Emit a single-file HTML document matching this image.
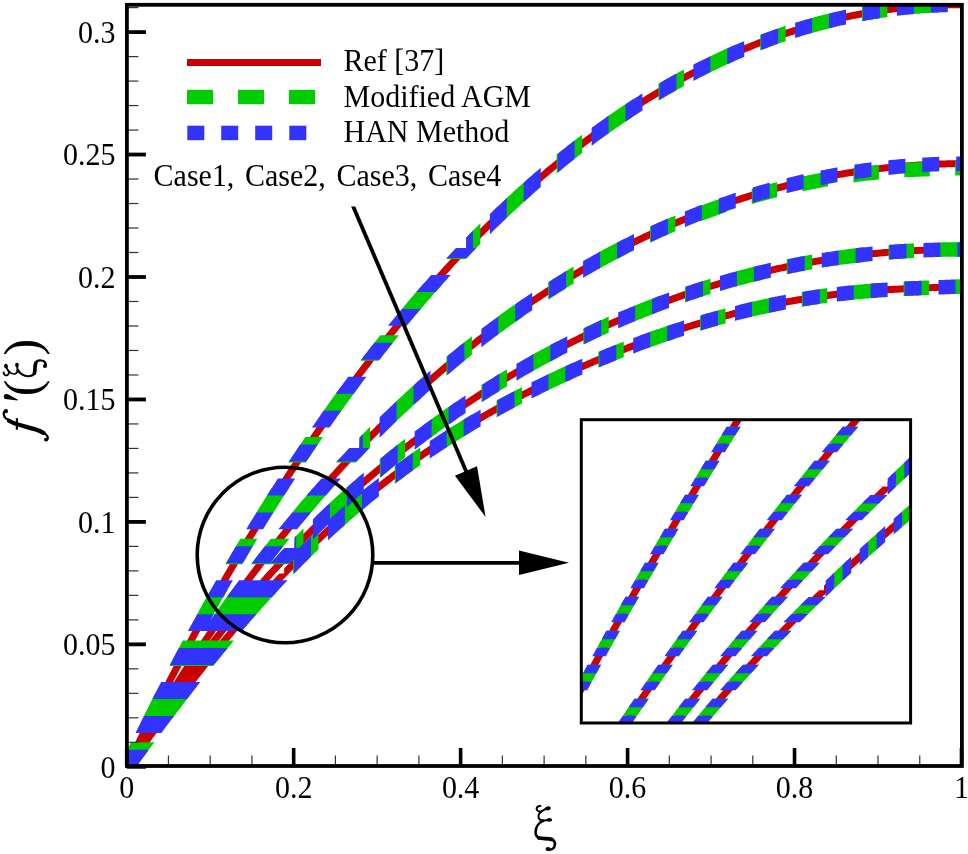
<!DOCTYPE html><html><head><meta charset="utf-8"><style>html,body{margin:0;padding:0;background:#fff;}body{width:968px;height:854px;overflow:hidden;font-family:"Liberation Serif",serif;}svg{display:block;}</style></head><body><svg width="968" height="854" viewBox="0 0 968 854"><defs><clipPath id="cm"><rect x="126.9" y="4.8" width="835" height="761.2"/></clipPath><clipPath id="ci"><rect x="581.3" y="419.7" width="329.3" height="303.3"/></clipPath></defs><rect width="968" height="854" fill="#fff"/><g clip-path="url(#cm)"><path fill="#cc0000" d="M123.32,766.8 125.41,762.42 127.5,758.06 129.59,753.71 131.68,749.38 133.77,745.07 135.86,740.78 137.95,736.5 140.04,732.24 142.13,727.99 144.22,723.76 146.31,719.55 148.4,715.36 150.48,711.18 152.57,707.01 154.66,702.87 156.75,698.74 158.84,694.62 160.93,690.53 163.02,686.44 165.11,682.38 167.2,678.33 169.29,674.29 171.38,670.28 173.46,666.27 175.55,662.29 177.64,658.32 179.73,654.36 181.82,650.42 183.91,646.5 186,642.59 188.09,638.7 190.17,634.82 192.26,630.96 194.35,627.12 196.44,623.29 198.53,619.47 200.62,615.67 202.71,611.89 204.79,608.12 206.88,604.36 208.97,600.62 211.06,596.9 213.15,593.19 215.24,589.5 217.32,585.82 219.41,582.15 221.5,578.5 223.59,574.87 225.68,571.25 227.76,567.64 229.85,564.05 231.94,560.48 234.03,556.91 236.12,553.37 238.2,549.83 240.29,546.32 242.38,542.81 244.47,539.32 246.56,535.85 248.64,532.39 250.73,528.94 252.82,525.51 254.91,522.09 256.99,518.69 259.08,515.3 261.17,511.92 263.26,508.56 265.34,505.22 267.43,501.88 269.52,498.56 271.61,495.26 273.69,491.96 275.78,488.69 277.87,485.42 279.95,482.17 282.04,478.93 284.13,475.71 286.22,472.5 288.3,469.31 290.39,466.12 292.48,462.95 294.56,459.8 296.65,456.66 298.74,453.53 300.82,450.41 302.91,447.31 305,444.22 307.08,441.15 309.17,438.08 311.26,435.03 313.34,432 315.43,428.98 317.51,425.97 319.6,422.97 321.69,419.98 323.77,417.01 325.86,414.06 327.95,411.11 330.03,408.18 332.12,405.26 334.2,402.35 336.29,399.46 338.37,396.58 340.46,393.71 342.55,390.86 344.63,388.01 346.72,385.18 348.8,382.37 350.89,379.56 352.97,376.77 355.06,373.99 357.14,371.22 359.23,368.46 361.31,365.72 363.4,362.99 365.48,360.27 367.57,357.57 369.65,354.87 371.74,352.19 373.82,349.52 375.9,346.87 377.99,344.22 380.07,341.59 382.16,338.97 384.24,336.36 386.33,333.77 388.41,331.18 390.49,328.61 392.58,326.05 394.66,323.5 396.75,320.96 398.83,318.44 400.91,315.93 403,313.43 405.08,310.94 407.16,308.46 409.25,305.99 411.33,303.54 413.41,301.1 415.49,298.67 417.58,296.25 419.66,293.84 421.74,291.44 423.82,289.06 425.91,286.69 427.99,284.33 430.07,281.98 432.15,279.64 434.24,277.31 436.32,275 438.4,272.69 440.48,270.4 442.56,268.12 444.64,265.85 446.73,263.59 448.81,261.34 450.89,259.1 452.97,256.88 455.05,254.66 457.13,252.46 459.21,250.27 461.29,248.09 470.99,248.09 468.89,250.27 466.78,252.46 464.68,254.66 462.58,256.88 460.47,259.1 458.37,261.34 456.27,263.59 454.16,265.85 452.06,268.12 449.96,270.4 447.85,272.69 445.75,275 443.65,277.31 441.55,279.64 439.44,281.98 437.34,284.33 435.24,286.69 433.14,289.06 431.04,291.44 428.93,293.84 426.83,296.25 424.73,298.67 422.63,301.1 420.53,303.54 418.43,305.99 416.32,308.46 414.22,310.94 412.12,313.43 410.02,315.93 407.92,318.44 405.82,320.96 403.72,323.5 401.62,326.05 399.52,328.61 397.42,331.18 395.32,333.77 393.22,336.36 391.12,338.97 389.02,341.59 386.91,344.22 384.81,346.87 382.71,349.52 380.61,352.19 378.52,354.87 376.42,357.57 374.32,360.27 372.22,362.99 370.12,365.72 368.02,368.46 365.92,371.22 363.82,373.99 361.72,376.77 359.62,379.56 357.52,382.37 355.42,385.18 353.32,388.01 351.22,390.86 349.12,393.71 347.03,396.58 344.93,399.46 342.83,402.35 340.73,405.26 338.63,408.18 336.53,411.11 334.43,414.06 332.34,417.01 330.24,419.98 328.14,422.97 326.04,425.97 323.94,428.98 321.84,432 319.75,435.03 317.65,438.08 315.55,441.15 313.45,444.22 311.35,447.31 309.26,450.41 307.16,453.53 305.06,456.66 302.96,459.8 300.86,462.95 298.77,466.12 296.67,469.31 294.57,472.5 292.47,475.71 290.38,478.93 288.28,482.17 286.18,485.42 284.08,488.69 281.99,491.96 279.89,495.26 277.79,498.56 275.7,501.88 273.6,505.22 271.5,508.56 269.41,511.92 267.31,515.3 265.21,518.69 263.11,522.09 261.02,525.51 258.92,528.94 256.82,532.39 254.73,535.85 252.63,539.32 250.53,542.81 248.44,546.32 246.34,549.83 244.24,553.37 242.15,556.91 240.05,560.48 237.95,564.05 235.86,567.64 233.76,571.25 231.67,574.87 229.57,578.5 227.47,582.15 225.38,585.82 223.28,589.5 221.18,593.19 219.09,596.9 216.99,600.62 214.9,604.36 212.8,608.12 210.7,611.89 208.61,615.67 206.51,619.47 204.42,623.29 202.32,627.12 200.22,630.96 198.13,634.82 196.03,638.7 193.94,642.59 191.84,646.5 189.75,650.42 187.65,654.36 185.55,658.32 183.46,662.29 181.36,666.27 179.27,670.28 177.17,674.29 175.08,678.33 172.98,682.38 170.89,686.44 168.79,690.53 166.69,694.62 164.6,698.74 162.5,702.87 160.41,707.01 158.31,711.18 156.22,715.36 154.12,719.55 152.03,723.76 149.93,727.99 147.84,732.24 145.74,736.5 143.65,740.78 141.55,745.07 139.46,749.38 137.36,753.71 135.27,758.06 133.17,762.42 131.08,766.8ZM466.14,243.05 468.23,240.88 470.33,238.73 472.42,236.6 474.51,234.47 476.6,232.36 478.69,230.26 480.79,228.17 482.88,226.09 484.97,224.02 487.06,221.96 489.16,219.91 491.25,217.87 493.34,215.85 495.43,213.83 497.52,211.83 499.62,209.83 501.71,207.85 503.8,205.88 505.89,203.92 507.99,201.97 510.08,200.02 512.17,198.09 514.26,196.17 516.35,194.26 518.45,192.37 520.54,190.48 522.63,188.6 524.72,186.73 526.82,184.87 528.91,183.03 531,181.19 533.09,179.36 535.18,177.55 537.28,175.74 539.37,173.95 541.46,172.16 543.55,170.39 545.65,168.62 547.74,166.87 549.83,165.13 551.92,163.39 554.02,161.67 556.11,159.95 558.2,158.25 560.29,156.56 562.38,154.87 564.48,153.2 566.57,151.54 568.66,149.88 570.75,148.24 572.85,146.61 574.94,144.98 577.03,143.37 579.12,141.77 581.21,140.17 583.31,138.59 585.4,137.01 587.49,135.45 589.58,133.9 591.68,132.35 593.77,130.82 595.86,129.29 597.95,127.78 600.04,126.27 602.14,124.78 604.23,123.29 606.32,121.82 608.41,120.35 610.51,118.89 612.6,117.45 614.69,116.01 616.78,114.58 618.87,113.16 620.97,111.75 623.06,110.35 625.15,108.97 627.24,107.59 629.34,106.22 631.43,104.85 633.52,103.5 635.61,102.16 637.7,100.83 639.8,99.51 641.89,98.19 643.98,96.89 646.07,95.59 648.17,94.31 650.26,93.03 652.35,91.77 654.44,90.51 656.53,89.26 658.63,88.02 660.72,86.8 662.81,85.58 664.9,84.37 667,83.16 669.09,81.97 671.18,80.79 673.27,79.62 675.36,78.45 677.46,77.3 679.55,76.15 681.64,75.01 683.73,73.89 685.83,72.77 687.92,71.66 690.01,70.56 692.1,69.47 694.19,68.39 696.29,67.31 698.38,66.25 700.47,65.2 702.56,64.15 704.66,63.11 706.75,62.09 708.84,61.07 710.93,60.06 713.02,59.06 715.12,58.07 717.21,57.08 719.3,56.11 721.39,55.15 723.49,54.19 725.58,53.24 727.67,52.31 729.76,51.38 731.85,50.46 733.95,49.55 736.04,48.64 738.13,47.75 740.22,46.87 742.32,45.99 744.41,45.12 746.5,44.27 748.59,43.42 750.68,42.58 752.78,41.74 754.87,40.92 756.96,40.11 759.05,39.3 761.15,38.5 763.24,37.72 765.33,36.94 767.42,36.17 769.51,35.4 771.61,34.65 773.7,33.91 775.79,33.17 777.88,32.44 779.98,31.72 782.07,31.01 784.16,30.31 786.25,29.62 788.34,28.94 790.44,28.26 792.53,27.59 794.62,26.93 796.71,26.28 798.81,25.64 800.9,25.01 802.99,24.39 805.08,23.77 807.17,23.16 809.27,22.56 811.36,21.97 813.45,21.39 815.54,20.82 817.64,20.25 819.73,19.7 821.82,19.15 823.91,18.61 826.01,18.08 828.1,17.55 830.19,17.04 832.28,16.53 834.37,16.04 836.47,15.55 838.56,15.07 840.65,14.59 842.74,14.13 844.84,13.67 846.93,13.23 849.02,12.79 851.11,12.36 853.2,11.93 855.3,11.52 857.39,11.11 859.48,10.72 861.57,10.33 863.67,9.95 865.76,9.57 867.85,9.21 869.94,8.85 872.03,8.5 874.13,8.16 876.22,7.83 878.31,7.51 880.4,7.19 882.5,6.89 884.59,6.59 886.68,6.3 888.77,6.01 890.86,5.74 892.96,5.47 895.05,5.21 897.14,4.96 899.23,4.72 901.33,4.49 903.42,4.26 905.51,4.04 907.6,3.83 909.69,3.63 911.79,3.44 913.88,3.25 915.97,3.08 918.06,2.91 920.16,2.75 922.25,2.59 924.34,2.45 926.43,2.31 928.52,2.18 930.62,2.06 932.71,1.95 934.8,1.84 936.89,1.75 938.99,1.66 941.08,1.58 943.17,1.5 945.26,1.44 947.35,1.38 949.45,1.33 951.54,1.29 953.63,1.25 955.72,1.23 957.82,1.21 959.91,1.2 962,1.2 962,8.2 959.91,8.2 957.82,8.21 955.72,8.23 953.63,8.26 951.54,8.29 949.45,8.33 947.35,8.38 945.26,8.44 943.17,8.51 941.08,8.58 938.99,8.66 936.89,8.75 934.8,8.85 932.71,8.96 930.62,9.07 928.52,9.2 926.43,9.33 924.34,9.47 922.25,9.61 920.16,9.77 918.06,9.93 915.97,10.1 913.88,10.28 911.79,10.47 909.69,10.67 907.6,10.87 905.51,11.08 903.42,11.3 901.33,11.53 899.23,11.77 897.14,12.01 895.05,12.27 892.96,12.53 890.86,12.8 888.77,13.08 886.68,13.36 884.59,13.66 882.5,13.96 880.4,14.27 878.31,14.59 876.22,14.92 874.13,15.26 872.03,15.6 869.94,15.95 867.85,16.31 865.76,16.68 863.67,17.06 861.57,17.45 859.48,17.84 857.39,18.25 855.3,18.66 853.2,19.08 851.11,19.5 849.02,19.94 846.93,20.39 844.84,20.84 842.74,21.3 840.65,21.77 838.56,22.25 836.47,22.74 834.37,23.23 832.28,23.74 830.19,24.25 828.1,24.77 826.01,25.3 823.91,25.84 821.82,26.39 819.73,26.94 817.64,27.51 815.54,28.08 813.45,28.66 811.36,29.25 809.27,29.85 807.17,30.45 805.08,31.07 802.99,31.69 800.9,32.33 798.81,32.97 796.71,33.62 794.62,34.28 792.53,34.94 790.44,35.62 788.34,36.3 786.25,37 784.16,37.7 782.07,38.41 779.98,39.13 777.88,39.86 775.79,40.6 773.7,41.34 771.61,42.1 769.51,42.86 767.42,43.63 765.33,44.41 763.24,45.2 761.15,46 759.05,46.81 756.96,47.62 754.87,48.45 752.78,49.28 750.68,50.13 748.59,50.98 746.5,51.84 744.41,52.71 742.32,53.59 740.22,54.47 738.13,55.37 736.04,56.28 733.95,57.19 731.85,58.11 729.76,59.04 727.67,59.99 725.58,60.94 723.49,61.9 721.39,62.86 719.3,63.84 717.21,64.83 715.12,65.82 713.02,66.83 710.93,67.84 708.84,68.86 706.75,69.9 704.66,70.94 702.56,71.99 700.47,73.05 698.38,74.11 696.29,75.19 694.19,76.28 692.1,77.37 690.01,78.48 687.92,79.59 685.83,80.72 683.73,81.85 681.64,82.99 679.55,84.14 677.46,85.31 675.36,86.48 673.27,87.65 671.18,88.84 669.09,90.04 667,91.25 664.9,92.47 662.81,93.69 660.72,94.93 658.63,96.17 656.53,97.43 654.44,98.69 652.35,99.96 650.26,101.25 648.17,102.54 646.07,103.84 643.98,105.15 641.89,106.47 639.8,107.8 637.7,109.14 635.61,110.49 633.52,111.85 631.43,113.22 629.34,114.6 627.24,115.99 625.15,117.38 623.06,118.79 620.97,120.21 618.87,121.64 616.78,123.07 614.69,124.52 612.6,125.97 610.51,127.44 608.41,128.92 606.32,130.4 604.23,131.9 602.14,133.4 600.04,134.91 597.95,136.44 595.86,137.97 593.77,139.52 591.68,141.07 589.58,142.64 587.49,144.21 585.4,145.79 583.31,147.39 581.21,148.99 579.12,150.61 577.03,152.23 574.94,153.86 572.85,155.51 570.75,157.16 568.66,158.83 566.57,160.5 564.48,162.19 562.38,163.88 560.29,165.58 558.2,167.3 556.11,169.02 554.02,170.76 551.92,172.51 549.83,174.26 547.74,176.03 545.65,177.8 543.55,179.59 541.46,181.39 539.37,183.2 537.28,185.01 535.18,186.84 533.09,188.68 531,190.53 528.91,192.39 526.82,194.26 524.72,196.14 522.63,198.03 520.54,199.93 518.45,201.85 516.35,203.77 514.26,205.7 512.17,207.65 510.08,209.6 507.99,211.57 505.89,213.54 503.8,215.53 501.71,217.53 499.62,219.53 497.52,221.55 495.43,223.58 493.34,225.62 491.25,227.67 489.16,229.74 487.06,231.81 484.97,233.89 482.88,235.99 480.79,238.09 478.69,240.21 476.6,242.34 474.51,244.48 472.42,246.63 470.33,248.79 468.23,250.96 466.14,253.13ZM123.17,766.8 125.27,763.12 127.35,759.46 129.44,755.82 131.53,752.19 133.62,748.58 135.7,744.99 137.79,741.42 139.88,737.86 141.97,734.31 144.05,730.79 146.14,727.28 148.23,723.79 150.31,720.31 152.4,716.85 154.49,713.4 156.58,709.98 158.66,706.56 160.75,703.17 162.84,699.79 164.92,696.42 167.01,693.07 169.1,689.74 171.18,686.42 173.27,683.12 175.36,679.83 177.44,676.56 179.53,673.31 181.62,670.07 183.7,666.84 185.79,663.63 187.88,660.43 189.96,657.25 192.05,654.09 194.13,650.94 196.22,647.8 198.31,644.68 200.39,641.57 202.48,638.48 204.56,635.4 206.65,632.34 208.74,629.29 210.82,626.25 212.91,623.23 214.99,620.23 217.08,617.24 219.17,614.26 221.25,611.29 223.34,608.34 225.42,605.41 227.51,602.48 229.59,599.57 231.68,596.68 233.76,593.8 235.85,590.93 237.93,588.08 240.02,585.23 242.1,582.41 244.19,579.59 246.27,576.79 248.36,574 250.44,571.23 252.53,568.47 254.61,565.72 256.7,562.98 258.78,560.26 260.87,557.55 262.95,554.85 265.03,552.17 267.12,549.5 269.2,546.84 271.29,544.19 273.37,541.56 275.45,538.93 277.54,536.33 279.62,533.73 281.71,531.14 283.79,528.57 285.87,526.01 287.96,523.47 290.04,520.93 292.12,518.41 294.21,515.9 296.29,513.4 298.37,510.91 300.46,508.43 302.54,505.97 304.62,503.52 306.71,501.08 308.79,498.65 310.87,496.23 312.95,493.83 315.04,491.43 317.12,489.05 319.2,486.68 321.28,484.32 323.37,481.97 325.45,479.64 327.53,477.31 329.61,475 331.69,472.69 333.78,470.4 335.86,468.12 337.94,465.85 340.02,463.59 342.1,461.34 344.18,459.11 346.27,456.88 348.35,454.67 350.43,452.46 352.51,450.27 354.59,448.09 364.29,448.09 362.18,450.27 360.08,452.46 357.98,454.67 355.87,456.88 353.77,459.11 351.67,461.34 349.56,463.59 347.46,465.85 345.36,468.12 343.25,470.4 341.15,472.69 339.05,475 336.95,477.31 334.84,479.64 332.74,481.97 330.64,484.32 328.54,486.68 326.44,489.05 324.33,491.43 322.23,493.83 320.13,496.23 318.03,498.65 315.93,501.08 313.83,503.52 311.72,505.97 309.62,508.43 307.52,510.91 305.42,513.4 303.32,515.9 301.22,518.41 299.12,520.93 297.02,523.47 294.91,526.01 292.81,528.57 290.71,531.14 288.61,533.73 286.51,536.33 284.41,538.93 282.31,541.56 280.21,544.19 278.11,546.84 276.01,549.5 273.91,552.17 271.81,554.85 269.71,557.55 267.61,560.26 265.51,562.98 263.41,565.72 261.31,568.47 259.21,571.23 257.11,574 255.01,576.79 252.91,579.59 250.81,582.41 248.71,585.23 246.61,588.08 244.51,590.93 242.41,593.8 240.31,596.68 238.22,599.57 236.12,602.48 234.02,605.41 231.92,608.34 229.82,611.29 227.72,614.26 225.62,617.24 223.52,620.23 221.42,623.23 219.32,626.25 217.23,629.29 215.13,632.34 213.03,635.4 210.93,638.48 208.83,641.57 206.73,644.68 204.64,647.8 202.54,650.94 200.44,654.09 198.34,657.25 196.24,660.43 194.14,663.63 192.05,666.84 189.95,670.07 187.85,673.31 185.75,676.56 183.65,679.83 181.56,683.12 179.46,686.42 177.36,689.74 175.26,693.07 173.17,696.42 171.07,699.79 168.97,703.17 166.87,706.56 164.78,709.98 162.68,713.4 160.58,716.85 158.48,720.31 156.39,723.79 154.29,727.28 152.19,730.79 150.09,734.31 148,737.86 145.9,741.42 143.8,744.99 141.71,748.58 139.61,752.19 137.51,755.82 135.42,759.46 133.32,763.12 131.23,766.8ZM359.44,443.04 361.53,440.87 363.62,438.72 365.71,436.58 367.81,434.45 369.9,432.34 371.99,430.23 374.08,428.13 376.18,426.05 378.27,423.97 380.36,421.91 382.45,419.85 384.54,417.8 386.64,415.77 388.73,413.74 390.82,411.73 392.91,409.72 395.01,407.73 397.1,405.75 399.19,403.77 401.28,401.8 403.37,399.85 405.47,397.9 407.56,395.97 409.65,394.04 411.74,392.13 413.84,390.22 415.93,388.32 418.02,386.44 420.11,384.56 422.2,382.69 424.3,380.83 426.39,378.98 428.48,377.14 430.57,375.31 432.67,373.49 434.76,371.68 436.85,369.88 438.94,368.08 441.03,366.3 443.13,364.53 445.22,362.76 447.31,361.01 449.4,359.26 451.5,357.52 453.59,355.79 455.68,354.07 457.77,352.36 459.86,350.66 461.96,348.97 464.05,347.29 466.14,345.61 468.23,343.94 470.33,342.29 472.42,340.64 474.51,339 476.6,337.37 478.69,335.75 480.79,334.14 482.88,332.53 484.97,330.94 487.06,329.35 489.16,327.77 491.25,326.2 493.34,324.64 495.43,323.09 497.52,321.54 499.62,320.01 501.71,318.48 503.8,316.96 505.89,315.45 507.99,313.95 510.08,312.46 512.17,310.97 514.26,309.5 516.35,308.03 518.45,306.57 520.54,305.12 522.63,303.68 524.72,302.24 526.82,300.81 528.91,299.4 531,297.99 533.09,296.58 535.18,295.19 537.28,293.8 539.37,292.43 541.46,291.06 543.55,289.69 545.65,288.34 547.74,286.99 549.83,285.66 551.92,284.33 554.02,283.01 556.11,281.69 558.2,280.39 560.29,279.09 562.38,277.8 564.48,276.52 566.57,275.24 568.66,273.97 570.75,272.72 572.85,271.46 574.94,270.22 577.03,268.99 579.12,267.76 581.21,266.54 583.31,265.33 585.4,264.12 587.49,262.92 589.58,261.73 591.68,260.55 593.77,259.38 595.86,258.21 597.95,257.05 600.04,255.9 602.14,254.76 604.23,253.62 606.32,252.49 608.41,251.37 610.51,250.26 612.6,249.15 614.69,248.05 616.78,246.96 618.87,245.88 620.97,244.8 623.06,243.73 625.15,242.67 627.24,241.62 629.34,240.57 631.43,239.53 633.52,238.5 635.61,237.47 637.7,236.46 639.8,235.44 641.89,234.44 643.98,233.45 646.07,232.46 648.17,231.48 650.26,230.5 652.35,229.53 654.44,228.58 656.53,227.62 658.63,226.68 660.72,225.74 662.81,224.81 664.9,223.88 667,222.97 669.09,222.06 671.18,221.15 673.27,220.26 675.36,219.37 677.46,218.49 679.55,217.62 681.64,216.75 683.73,215.89 685.83,215.03 687.92,214.19 690.01,213.35 692.1,212.52 694.19,211.69 696.29,210.87 698.38,210.06 700.47,209.26 702.56,208.46 704.66,207.67 706.75,206.89 708.84,206.11 710.93,205.34 713.02,204.58 715.12,203.82 717.21,203.07 719.3,202.33 721.39,201.59 723.49,200.86 725.58,200.14 727.67,199.43 729.76,198.72 731.85,198.02 733.95,197.32 736.04,196.63 738.13,195.95 740.22,195.28 742.32,194.61 744.41,193.95 746.5,193.29 748.59,192.64 750.68,192 752.78,191.37 754.87,190.74 756.96,190.12 759.05,189.51 761.15,188.9 763.24,188.3 765.33,187.7 767.42,187.12 769.51,186.53 771.61,185.96 773.7,185.39 775.79,184.83 777.88,184.28 779.98,183.73 782.07,183.19 784.16,182.65 786.25,182.12 788.34,181.6 790.44,181.08 792.53,180.57 794.62,180.07 796.71,179.58 798.81,179.09 800.9,178.6 802.99,178.13 805.08,177.66 807.17,177.19 809.27,176.74 811.36,176.28 813.45,175.84 815.54,175.4 817.64,174.97 819.73,174.55 821.82,174.13 823.91,173.71 826.01,173.31 828.1,172.91 830.19,172.52 832.28,172.13 834.37,171.75 836.47,171.37 838.56,171.01 840.65,170.64 842.74,170.29 844.84,169.94 846.93,169.6 849.02,169.26 851.11,168.93 853.2,168.61 855.3,168.29 857.39,167.98 859.48,167.67 861.57,167.37 863.67,167.08 865.76,166.79 867.85,166.51 869.94,166.24 872.03,165.97 874.13,165.71 876.22,165.45 878.31,165.2 880.4,164.96 882.5,164.72 884.59,164.49 886.68,164.27 888.77,164.05 890.86,163.84 892.96,163.63 895.05,163.43 897.14,163.23 899.23,163.04 901.33,162.86 903.42,162.69 905.51,162.52 907.6,162.35 909.69,162.19 911.79,162.04 913.88,161.89 915.97,161.75 918.06,161.62 920.16,161.49 922.25,161.37 924.34,161.25 926.43,161.14 928.52,161.04 930.62,160.94 932.71,160.85 934.8,160.76 936.89,160.68 938.99,160.6 941.08,160.53 943.17,160.47 945.26,160.41 947.35,160.36 949.45,160.31 951.54,160.27 953.63,160.24 955.72,160.21 957.82,160.19 959.91,160.17 962,160.16 962,167.16 959.91,167.17 957.82,167.19 955.72,167.21 953.63,167.24 951.54,167.28 949.45,167.32 947.35,167.36 945.26,167.41 943.17,167.47 941.08,167.54 938.99,167.61 936.89,167.68 934.8,167.76 932.71,167.85 930.62,167.95 928.52,168.05 926.43,168.15 924.34,168.26 922.25,168.38 920.16,168.5 918.06,168.63 915.97,168.77 913.88,168.91 911.79,169.06 909.69,169.21 907.6,169.37 905.51,169.54 903.42,169.71 901.33,169.89 899.23,170.07 897.14,170.26 895.05,170.46 892.96,170.66 890.86,170.87 888.77,171.09 886.68,171.31 884.59,171.53 882.5,171.77 880.4,172.01 878.31,172.25 876.22,172.51 874.13,172.76 872.03,173.03 869.94,173.3 867.85,173.58 865.76,173.86 863.67,174.15 861.57,174.44 859.48,174.75 857.39,175.05 855.3,175.37 853.2,175.69 851.11,176.02 849.02,176.35 846.93,176.69 844.84,177.04 842.74,177.39 840.65,177.75 838.56,178.11 836.47,178.49 834.37,178.86 832.28,179.25 830.19,179.64 828.1,180.04 826.01,180.44 823.91,180.85 821.82,181.27 819.73,181.69 817.64,182.12 815.54,182.56 813.45,183 811.36,183.45 809.27,183.9 807.17,184.36 805.08,184.83 802.99,185.31 800.9,185.79 798.81,186.28 796.71,186.77 794.62,187.27 792.53,187.78 790.44,188.3 788.34,188.82 786.25,189.34 784.16,189.88 782.07,190.42 779.98,190.97 777.88,191.52 775.79,192.08 773.7,192.65 771.61,193.22 769.51,193.8 767.42,194.39 765.33,194.98 763.24,195.58 761.15,196.19 759.05,196.81 756.96,197.43 754.87,198.05 752.78,198.69 750.68,199.33 748.59,199.98 746.5,200.63 744.41,201.29 742.32,201.96 740.22,202.63 738.13,203.32 736.04,204 733.95,204.7 731.85,205.4 729.76,206.11 727.67,206.83 725.58,207.55 723.49,208.28 721.39,209.02 719.3,209.76 717.21,210.51 715.12,211.27 713.02,212.03 710.93,212.8 708.84,213.58 706.75,214.36 704.66,215.16 702.56,215.96 700.47,216.76 698.38,217.57 696.29,218.39 694.19,219.22 692.1,220.06 690.01,220.9 687.92,221.74 685.83,222.6 683.73,223.46 681.64,224.33 679.55,225.21 677.46,226.09 675.36,226.98 673.27,227.88 671.18,228.78 669.09,229.7 667,230.62 664.9,231.54 662.81,232.48 660.72,233.42 658.63,234.37 656.53,235.32 654.44,236.28 652.35,237.25 650.26,238.23 648.17,239.22 646.07,240.21 643.98,241.21 641.89,242.21 639.8,243.23 637.7,244.25 635.61,245.28 633.52,246.31 631.43,247.35 629.34,248.41 627.24,249.46 625.15,250.53 623.06,251.6 620.97,252.68 618.87,253.77 616.78,254.87 614.69,255.97 612.6,257.08 610.51,258.2 608.41,259.32 606.32,260.46 604.23,261.6 602.14,262.75 600.04,263.9 597.95,265.07 595.86,266.24 593.77,267.42 591.68,268.6 589.58,269.8 587.49,271 585.4,272.21 583.31,273.43 581.21,274.65 579.12,275.89 577.03,277.13 574.94,278.38 572.85,279.63 570.75,280.9 568.66,282.17 566.57,283.45 564.48,284.74 562.38,286.03 560.29,287.34 558.2,288.65 556.11,289.97 554.02,291.3 551.92,292.63 549.83,293.98 547.74,295.33 545.65,296.69 543.55,298.06 541.46,299.44 539.37,300.82 537.28,302.21 535.18,303.61 533.09,305.02 531,306.44 528.91,307.87 526.82,309.3 524.72,310.74 522.63,312.19 520.54,313.65 518.45,315.12 516.35,316.6 514.26,318.08 512.17,319.57 510.08,321.08 507.99,322.58 505.89,324.1 503.8,325.63 501.71,327.16 499.62,328.71 497.52,330.26 495.43,331.82 493.34,333.39 491.25,334.97 489.16,336.56 487.06,338.15 484.97,339.76 482.88,341.37 480.79,342.99 478.69,344.62 476.6,346.26 474.51,347.91 472.42,349.57 470.33,351.24 468.23,352.91 466.14,354.6 464.05,356.29 461.96,357.99 459.86,359.7 457.77,361.42 455.68,363.15 453.59,364.89 451.5,366.64 449.4,368.4 447.31,370.17 445.22,371.94 443.13,373.73 441.03,375.52 438.94,377.33 436.85,379.14 434.76,380.96 432.67,382.79 430.57,384.64 428.48,386.49 426.39,388.35 424.3,390.22 422.2,392.1 420.11,393.99 418.02,395.89 415.93,397.8 413.84,399.71 411.74,401.64 409.65,403.58 407.56,405.53 405.47,407.49 403.37,409.46 401.28,411.43 399.19,413.42 397.1,415.42 395.01,417.43 392.91,419.45 390.82,421.48 388.73,423.51 386.64,425.56 384.54,427.62 382.45,429.69 380.36,431.77 378.27,433.86 376.18,435.96 374.08,438.07 371.99,440.19 369.9,442.33 367.81,444.47 365.71,446.62 363.62,448.78 361.53,450.96 359.44,453.13ZM123.09,766.8 125.18,763.4 127.27,760.02 129.35,756.66 131.44,753.31 133.52,749.99 135.61,746.69 137.7,743.41 139.78,740.14 141.87,736.9 143.95,733.67 146.04,730.46 148.12,727.27 150.21,724.1 152.29,720.95 154.38,717.82 156.46,714.7 158.54,711.6 160.63,708.52 162.71,705.46 164.8,702.42 166.88,699.39 168.97,696.38 171.05,693.39 173.13,690.41 175.22,687.45 177.3,684.51 179.39,681.59 181.47,678.68 183.55,675.79 185.64,672.92 187.72,670.06 189.81,667.22 191.89,664.39 193.97,661.58 196.06,658.79 198.14,656.01 200.22,653.25 202.3,650.5 204.39,647.77 206.47,645.05 208.55,642.35 210.64,639.67 212.72,637 214.8,634.34 216.88,631.7 218.97,629.08 221.05,626.47 223.13,623.87 225.21,621.29 227.3,618.72 229.38,616.17 231.46,613.63 233.54,611.1 235.62,608.59 237.71,606.1 239.79,603.61 241.87,601.15 243.95,598.69 246.03,596.25 248.11,593.82 250.2,591.4 252.28,589 254.36,586.61 256.44,584.24 258.52,581.88 260.6,579.53 262.68,577.19 264.76,574.87 266.84,572.55 268.92,570.26 271,567.97 273.08,565.7 275.16,563.44 277.24,561.19 279.32,558.95 281.4,556.73 283.48,554.51 285.56,552.31 287.64,550.12 289.72,547.95 299.43,547.95 297.33,550.12 295.22,552.31 293.12,554.51 291.01,556.73 288.91,558.95 286.81,561.19 284.7,563.44 282.6,565.7 280.49,567.97 278.39,570.26 276.29,572.55 274.18,574.87 272.08,577.19 269.97,579.53 267.87,581.88 265.77,584.24 263.66,586.61 261.56,589 259.46,591.4 257.35,593.82 255.25,596.25 253.15,598.69 251.04,601.15 248.94,603.61 246.84,606.1 244.74,608.59 242.63,611.1 240.53,613.63 238.43,616.17 236.33,618.72 234.22,621.29 232.12,623.87 230.02,626.47 227.92,629.08 225.82,631.7 223.71,634.34 221.61,637 219.51,639.67 217.41,642.35 215.31,645.05 213.21,647.77 211.1,650.5 209,653.25 206.9,656.01 204.8,658.79 202.7,661.58 200.6,664.39 198.5,667.22 196.4,670.06 194.3,672.92 192.2,675.79 190.09,678.68 187.99,681.59 185.89,684.51 183.79,687.45 181.69,690.41 179.59,693.39 177.49,696.38 175.39,699.39 173.29,702.42 171.19,705.46 169.09,708.52 166.99,711.6 164.89,714.7 162.79,717.82 160.69,720.95 158.59,724.1 156.49,727.27 154.39,730.46 152.29,733.67 150.19,736.9 148.1,740.14 146,743.41 143.9,746.69 141.8,749.99 139.7,753.31 137.6,756.66 135.5,760.02 133.4,763.4 131.31,766.8ZM294.58,542.91 296.67,540.75 298.76,538.61 300.86,536.48 302.95,534.36 305.04,532.26 307.13,530.16 309.22,528.08 311.32,526.01 313.41,523.95 315.5,521.9 317.59,519.86 319.69,517.83 321.78,515.82 323.87,513.81 325.96,511.82 328.05,509.83 330.15,507.86 332.24,505.89 334.33,503.94 336.42,502 338.52,500.06 340.61,498.14 342.7,496.23 344.79,494.33 346.88,492.44 348.98,490.55 351.07,488.68 353.16,486.82 355.25,484.97 357.35,483.12 359.44,481.29 361.53,479.47 363.62,477.66 365.71,475.85 367.81,474.06 369.9,472.27 371.99,470.5 374.08,468.73 376.18,466.97 378.27,465.22 380.36,463.49 382.45,461.76 384.54,460.04 386.64,458.33 388.73,456.62 390.82,454.93 392.91,453.25 395.01,451.57 397.1,449.9 399.19,448.25 401.28,446.6 403.37,444.96 405.47,443.32 407.56,441.7 409.65,440.09 411.74,438.48 413.84,436.88 415.93,435.29 418.02,433.71 420.11,432.14 422.2,430.57 424.3,429.02 426.39,427.47 428.48,425.93 430.57,424.4 432.67,422.88 434.76,421.36 436.85,419.85 438.94,418.36 441.03,416.86 443.13,415.38 445.22,413.91 447.31,412.44 449.4,410.98 451.5,409.53 453.59,408.08 455.68,406.65 457.77,405.22 459.86,403.8 461.96,402.38 464.05,400.98 466.14,399.58 468.23,398.19 470.33,396.81 472.42,395.43 474.51,394.06 476.6,392.7 478.69,391.35 480.79,390 482.88,388.66 484.97,387.33 487.06,386.01 489.16,384.69 491.25,383.38 493.34,382.08 495.43,380.79 497.52,379.5 499.62,378.22 501.71,376.94 503.8,375.68 505.89,374.42 507.99,373.16 510.08,371.92 512.17,370.68 514.26,369.45 516.35,368.22 518.45,367.01 520.54,365.8 522.63,364.59 524.72,363.4 526.82,362.21 528.91,361.02 531,359.85 533.09,358.68 535.18,357.51 537.28,356.36 539.37,355.21 541.46,354.06 543.55,352.93 545.65,351.8 547.74,350.68 549.83,349.56 551.92,348.45 554.02,347.35 556.11,346.25 558.2,345.16 560.29,344.08 562.38,343 564.48,341.93 566.57,340.87 568.66,339.81 570.75,338.76 572.85,337.72 574.94,336.68 577.03,335.65 579.12,334.62 581.21,333.6 583.31,332.59 585.4,331.59 587.49,330.59 589.58,329.59 591.68,328.61 593.77,327.63 595.86,326.65 597.95,325.69 600.04,324.73 602.14,323.77 604.23,322.82 606.32,321.88 608.41,320.94 610.51,320.01 612.6,319.09 614.69,318.17 616.78,317.26 618.87,316.35 620.97,315.46 623.06,314.56 625.15,313.68 627.24,312.8 629.34,311.92 631.43,311.05 633.52,310.19 635.61,309.33 637.7,308.48 639.8,307.64 641.89,306.8 643.98,305.97 646.07,305.15 648.17,304.33 650.26,303.51 652.35,302.71 654.44,301.9 656.53,301.11 658.63,300.32 660.72,299.54 662.81,298.76 664.9,297.99 667,297.22 669.09,296.46 671.18,295.71 673.27,294.96 675.36,294.22 677.46,293.49 679.55,292.76 681.64,292.03 683.73,291.32 685.83,290.6 687.92,289.9 690.01,289.2 692.1,288.5 694.19,287.82 696.29,287.13 698.38,286.46 700.47,285.79 702.56,285.12 704.66,284.47 706.75,283.81 708.84,283.17 710.93,282.53 713.02,281.89 715.12,281.26 717.21,280.64 719.3,280.02 721.39,279.41 723.49,278.8 725.58,278.2 727.67,277.61 729.76,277.02 731.85,276.44 733.95,275.86 736.04,275.29 738.13,274.73 740.22,274.17 742.32,273.61 744.41,273.06 746.5,272.52 748.59,271.99 750.68,271.46 752.78,270.93 754.87,270.41 756.96,269.9 759.05,269.39 761.15,268.89 763.24,268.39 765.33,267.9 767.42,267.42 769.51,266.94 771.61,266.46 773.7,266 775.79,265.53 777.88,265.08 779.98,264.63 782.07,264.18 784.16,263.74 786.25,263.31 788.34,262.88 790.44,262.46 792.53,262.04 794.62,261.63 796.71,261.22 798.81,260.82 800.9,260.43 802.99,260.04 805.08,259.66 807.17,259.28 809.27,258.91 811.36,258.54 813.45,258.18 815.54,257.82 817.64,257.47 819.73,257.13 821.82,256.79 823.91,256.45 826.01,256.13 828.1,255.8 830.19,255.49 832.28,255.17 834.37,254.87 836.47,254.57 838.56,254.27 840.65,253.98 842.74,253.7 844.84,253.42 846.93,253.14 849.02,252.87 851.11,252.61 853.2,252.35 855.3,252.1 857.39,251.85 859.48,251.61 861.57,251.37 863.67,251.14 865.76,250.92 867.85,250.7 869.94,250.48 872.03,250.27 874.13,250.07 876.22,249.87 878.31,249.67 880.4,249.48 882.5,249.3 884.59,249.12 886.68,248.94 888.77,248.77 890.86,248.61 892.96,248.45 895.05,248.3 897.14,248.15 899.23,248.01 901.33,247.87 903.42,247.73 905.51,247.6 907.6,247.48 909.69,247.36 911.79,247.25 913.88,247.14 915.97,247.04 918.06,246.94 920.16,246.84 922.25,246.75 924.34,246.67 926.43,246.59 928.52,246.51 930.62,246.44 932.71,246.38 934.8,246.32 936.89,246.26 938.99,246.21 941.08,246.16 943.17,246.12 945.26,246.08 947.35,246.05 949.45,246.02 951.54,246 953.63,245.98 955.72,245.96 957.82,245.95 959.91,245.95 962,245.95 962,252.95 959.91,252.95 957.82,252.95 955.72,252.96 953.63,252.98 951.54,253 949.45,253.02 947.35,253.05 945.26,253.09 943.17,253.12 941.08,253.17 938.99,253.21 936.89,253.26 934.8,253.32 932.71,253.38 930.62,253.45 928.52,253.52 926.43,253.59 924.34,253.67 922.25,253.76 920.16,253.85 918.06,253.94 915.97,254.04 913.88,254.15 911.79,254.26 909.69,254.37 907.6,254.49 905.51,254.62 903.42,254.75 901.33,254.88 899.23,255.02 897.14,255.17 895.05,255.32 892.96,255.47 890.86,255.63 888.77,255.8 886.68,255.97 884.59,256.14 882.5,256.32 880.4,256.51 878.31,256.7 876.22,256.9 874.13,257.1 872.03,257.31 869.94,257.52 867.85,257.74 865.76,257.96 863.67,258.19 861.57,258.42 859.48,258.66 857.39,258.9 855.3,259.15 853.2,259.41 851.11,259.67 849.02,259.93 846.93,260.2 844.84,260.48 842.74,260.76 840.65,261.05 838.56,261.34 836.47,261.64 834.37,261.94 832.28,262.25 830.19,262.57 828.1,262.89 826.01,263.21 823.91,263.54 821.82,263.88 819.73,264.22 817.64,264.57 815.54,264.92 813.45,265.28 811.36,265.65 809.27,266.02 807.17,266.39 805.08,266.77 802.99,267.16 800.9,267.55 798.81,267.95 796.71,268.36 794.62,268.76 792.53,269.18 790.44,269.6 788.34,270.03 786.25,270.46 784.16,270.9 782.07,271.34 779.98,271.79 777.88,272.24 775.79,272.7 773.7,273.17 771.61,273.64 769.51,274.12 767.42,274.6 765.33,275.09 763.24,275.59 761.15,276.09 759.05,276.6 756.96,277.11 754.87,277.63 752.78,278.15 750.68,278.68 748.59,279.21 746.5,279.76 744.41,280.3 742.32,280.86 740.22,281.41 738.13,281.98 736.04,282.55 733.95,283.13 731.85,283.71 729.76,284.29 727.67,284.89 725.58,285.49 723.49,286.09 721.39,286.7 719.3,287.32 717.21,287.95 715.12,288.57 713.02,289.21 710.93,289.85 708.84,290.5 706.75,291.15 704.66,291.81 702.56,292.47 700.47,293.14 698.38,293.82 696.29,294.5 694.19,295.19 692.1,295.88 690.01,296.58 687.92,297.29 685.83,298 683.73,298.72 681.64,299.44 679.55,300.17 677.46,300.91 675.36,301.65 673.27,302.4 671.18,303.15 669.09,303.91 667,304.68 664.9,305.45 662.81,306.23 660.72,307.01 658.63,307.81 656.53,308.6 654.44,309.4 652.35,310.21 650.26,311.03 648.17,311.85 646.07,312.68 643.98,313.51 641.89,314.35 639.8,315.19 637.7,316.04 635.61,316.9 633.52,317.77 631.43,318.64 629.34,319.51 627.24,320.39 625.15,321.28 623.06,322.18 620.97,323.08 618.87,323.99 616.78,324.9 614.69,325.82 612.6,326.75 610.51,327.68 608.41,328.62 606.32,329.56 604.23,330.51 602.14,331.47 600.04,332.43 597.95,333.41 595.86,334.38 593.77,335.36 591.68,336.35 589.58,337.35 587.49,338.35 585.4,339.36 583.31,340.38 581.21,341.4 579.12,342.42 577.03,343.46 574.94,344.5 572.85,345.55 570.75,346.6 568.66,347.66 566.57,348.73 564.48,349.8 562.38,350.88 560.29,351.97 558.2,353.06 556.11,354.16 554.02,355.27 551.92,356.38 549.83,357.5 547.74,358.63 545.65,359.76 543.55,360.9 541.46,362.05 539.37,363.2 537.28,364.36 535.18,365.53 533.09,366.7 531,367.89 528.91,369.07 526.82,370.27 524.72,371.47 522.63,372.68 520.54,373.89 518.45,375.12 516.35,376.35 514.26,377.58 512.17,378.83 510.08,380.08 507.99,381.33 505.89,382.6 503.8,383.87 501.71,385.15 499.62,386.43 497.52,387.73 495.43,389.03 493.34,390.34 491.25,391.65 489.16,392.97 487.06,394.3 484.97,395.64 482.88,396.99 480.79,398.34 478.69,399.7 476.6,401.06 474.51,402.44 472.42,403.82 470.33,405.21 468.23,406.61 466.14,408.01 464.05,409.42 461.96,410.84 459.86,412.27 457.77,413.71 455.68,415.15 453.59,416.6 451.5,418.06 449.4,419.53 447.31,421 445.22,422.49 443.13,423.98 441.03,425.48 438.94,426.98 436.85,428.5 434.76,430.02 432.67,431.55 430.57,433.09 428.48,434.64 426.39,436.19 424.3,437.76 422.2,439.33 420.11,440.91 418.02,442.5 415.93,444.1 413.84,445.71 411.74,447.32 409.65,448.95 407.56,450.58 405.47,452.22 403.37,453.87 401.28,455.53 399.19,457.2 397.1,458.87 395.01,460.56 392.91,462.25 390.82,463.96 388.73,465.67 386.64,467.39 384.54,469.12 382.45,470.86 380.36,472.61 378.27,474.37 376.18,476.14 374.08,477.91 371.99,479.7 369.9,481.5 367.81,483.3 365.71,485.12 363.62,486.94 361.53,488.78 359.44,490.62 357.35,492.48 355.25,494.34 353.16,496.22 351.07,498.1 348.98,499.99 346.88,501.9 344.79,503.81 342.7,505.74 340.61,507.67 338.52,509.62 336.42,511.58 334.33,513.54 332.24,515.52 330.15,517.51 328.05,519.51 325.96,521.52 323.87,523.54 321.78,525.57 319.69,527.61 317.59,529.66 315.5,531.73 313.41,533.8 311.32,535.89 309.22,537.99 307.13,540.1 305.04,542.22 302.95,544.35 300.86,546.5 298.76,548.65 296.67,550.82 294.58,552.98ZM122.85,766.8 124.94,763.97 127.03,761.14 129.12,758.31 131.21,755.48 133.31,752.66 135.4,749.84 137.49,747.02 139.58,744.2 141.67,741.38 143.76,738.57 145.85,735.77 147.94,732.96 150.03,730.17 152.12,727.37 154.21,724.59 156.3,721.8 158.39,719.02 160.47,716.25 162.56,713.49 164.65,710.73 166.74,707.97 168.83,705.23 170.92,702.49 173.01,699.76 175.09,697.03 177.18,694.31 179.27,691.61 181.36,688.9 183.44,686.21 185.53,683.53 187.62,680.85 189.7,678.18 191.79,675.53 193.88,672.88 195.96,670.24 198.05,667.61 200.13,664.98 202.22,662.37 204.31,659.77 206.39,657.18 208.48,654.6 210.56,652.03 212.65,649.47 214.73,646.92 216.82,644.38 218.9,641.85 220.98,639.33 223.07,636.82 225.15,634.33 227.24,631.84 229.32,629.37 231.4,626.9 233.49,624.45 235.57,622.01 237.65,619.59 239.74,617.17 241.82,614.76 243.9,612.37 245.98,609.99 248.06,607.62 250.15,605.26 252.23,602.92 254.31,600.58 256.39,598.26 258.47,595.95 260.55,593.65 262.63,591.37 264.72,589.09 266.8,586.83 268.88,584.58 270.96,582.35 273.04,580.12 275.12,577.91 277.2,575.71 279.27,573.52 288.96,573.52 286.85,575.71 284.75,577.91 282.65,580.12 280.54,582.35 278.44,584.58 276.33,586.83 274.23,589.09 272.12,591.37 270.02,593.65 267.92,595.95 265.81,598.26 263.71,600.58 261.61,602.92 259.51,605.26 257.4,607.62 255.3,609.99 253.2,612.37 251.1,614.76 248.99,617.17 246.89,619.59 244.79,622.01 242.69,624.45 240.59,626.9 238.49,629.37 236.39,631.84 234.29,634.33 232.19,636.82 230.09,639.33 227.99,641.85 225.89,644.38 223.79,646.92 221.69,649.47 219.59,652.03 217.49,654.6 215.39,657.18 213.29,659.77 211.19,662.37 209.09,664.98 206.99,667.61 204.89,670.24 202.8,672.88 200.7,675.53 198.6,678.18 196.5,680.85 194.4,683.53 192.31,686.21 190.21,688.9 188.11,691.61 186.02,694.31 183.92,697.03 181.82,699.76 179.73,702.49 177.63,705.23 175.53,707.97 173.44,710.73 171.34,713.49 169.25,716.25 167.15,719.02 165.05,721.8 162.96,724.59 160.86,727.37 158.77,730.17 156.67,732.96 154.58,735.77 152.49,738.57 150.39,741.38 148.3,744.2 146.2,747.02 144.11,749.84 142.02,752.66 139.92,755.48 137.83,758.31 135.74,761.14 133.64,763.97 131.55,766.8ZM284.12,568.47 286.21,566.3 288.3,564.15 290.39,562.01 292.49,559.89 294.58,557.77 296.67,555.68 298.76,553.59 300.86,551.51 302.95,549.45 305.04,547.4 307.13,545.36 309.22,543.33 311.32,541.32 313.41,539.32 315.5,537.33 317.59,535.35 319.69,533.38 321.78,531.43 323.87,529.49 325.96,527.56 328.05,525.64 330.15,523.73 332.24,521.84 334.33,519.95 336.42,518.08 338.52,516.22 340.61,514.37 342.7,512.54 344.79,510.71 346.88,508.9 348.98,507.1 351.07,505.3 353.16,503.53 355.25,501.76 357.35,500 359.44,498.25 361.53,496.52 363.62,494.79 365.71,493.08 367.81,491.38 369.9,489.69 371.99,488.01 374.08,486.34 376.18,484.68 378.27,483.03 380.36,481.39 382.45,479.77 384.54,478.15 386.64,476.54 388.73,474.95 390.82,473.36 392.91,471.78 395.01,470.22 397.1,468.66 399.19,467.12 401.28,465.58 403.37,464.05 405.47,462.54 407.56,461.03 409.65,459.53 411.74,458.04 413.84,456.57 415.93,455.1 418.02,453.64 420.11,452.19 422.2,450.75 424.3,449.31 426.39,447.89 428.48,446.48 430.57,445.07 432.67,443.68 434.76,442.29 436.85,440.91 438.94,439.54 441.03,438.18 443.13,436.82 445.22,435.48 447.31,434.14 449.4,432.81 451.5,431.49 453.59,430.18 455.68,428.88 457.77,427.58 459.86,426.29 461.96,425.01 464.05,423.74 466.14,422.48 468.23,421.22 470.33,419.97 472.42,418.73 474.51,417.5 476.6,416.27 478.69,415.05 480.79,413.84 482.88,412.63 484.97,411.44 487.06,410.25 489.16,409.06 491.25,407.89 493.34,406.72 495.43,405.56 497.52,404.4 499.62,403.25 501.71,402.11 503.8,400.97 505.89,399.85 507.99,398.72 510.08,397.61 512.17,396.5 514.26,395.4 516.35,394.3 518.45,393.21 520.54,392.13 522.63,391.05 524.72,389.98 526.82,388.91 528.91,387.85 531,386.8 533.09,385.75 535.18,384.71 537.28,383.68 539.37,382.65 541.46,381.62 543.55,380.61 545.65,379.6 547.74,378.59 549.83,377.59 551.92,376.59 554.02,375.61 556.11,374.62 558.2,373.64 560.29,372.67 562.38,371.71 564.48,370.74 566.57,369.79 568.66,368.84 570.75,367.89 572.85,366.95 574.94,366.02 577.03,365.09 579.12,364.17 581.21,363.25 583.31,362.33 585.4,361.43 587.49,360.52 589.58,359.63 591.68,358.73 593.77,357.85 595.86,356.96 597.95,356.09 600.04,355.22 602.14,354.35 604.23,353.49 606.32,352.63 608.41,351.78 610.51,350.93 612.6,350.09 614.69,349.26 616.78,348.42 618.87,347.6 620.97,346.78 623.06,345.96 625.15,345.15 627.24,344.34 629.34,343.54 631.43,342.75 633.52,341.96 635.61,341.17 637.7,340.39 639.8,339.61 641.89,338.84 643.98,338.08 646.07,337.32 648.17,336.56 650.26,335.81 652.35,335.07 654.44,334.32 656.53,333.59 658.63,332.86 660.72,332.13 662.81,331.41 664.9,330.7 667,329.99 669.09,329.28 671.18,328.58 673.27,327.89 675.36,327.2 677.46,326.52 679.55,325.84 681.64,325.16 683.73,324.49 685.83,323.83 687.92,323.17 690.01,322.52 692.1,321.87 694.19,321.23 696.29,320.59 698.38,319.96 700.47,319.34 702.56,318.72 704.66,318.1 706.75,317.49 708.84,316.89 710.93,316.29 713.02,315.69 715.12,315.1 717.21,314.52 719.3,313.94 721.39,313.37 723.49,312.81 725.58,312.24 727.67,311.69 729.76,311.14 731.85,310.6 733.95,310.06 736.04,309.53 738.13,309 740.22,308.48 742.32,307.96 744.41,307.45 746.5,306.95 748.59,306.45 750.68,305.96 752.78,305.47 754.87,304.99 756.96,304.51 759.05,304.04 761.15,303.58 763.24,303.12 765.33,302.67 767.42,302.22 769.51,301.78 771.61,301.35 773.7,300.92 775.79,300.5 777.88,300.08 779.98,299.67 782.07,299.26 784.16,298.86 786.25,298.47 788.34,298.08 790.44,297.7 792.53,297.33 794.62,296.96 796.71,296.59 798.81,296.24 800.9,295.88 802.99,295.54 805.08,295.2 807.17,294.86 809.27,294.54 811.36,294.21 813.45,293.9 815.54,293.59 817.64,293.28 819.73,292.98 821.82,292.69 823.91,292.4 826.01,292.12 828.1,291.84 830.19,291.57 832.28,291.31 834.37,291.05 836.47,290.8 838.56,290.55 840.65,290.3 842.74,290.07 844.84,289.84 846.93,289.61 849.02,289.39 851.11,289.17 853.2,288.96 855.3,288.76 857.39,288.56 859.48,288.36 861.57,288.17 863.67,287.99 865.76,287.81 867.85,287.63 869.94,287.46 872.03,287.29 874.13,287.13 876.22,286.97 878.31,286.82 880.4,286.67 882.5,286.53 884.59,286.39 886.68,286.25 888.77,286.12 890.86,285.99 892.96,285.87 895.05,285.75 897.14,285.63 899.23,285.52 901.33,285.41 903.42,285.3 905.51,285.2 907.6,285.1 909.69,285 911.79,284.9 913.88,284.81 915.97,284.72 918.06,284.63 920.16,284.54 922.25,284.46 924.34,284.37 926.43,284.29 928.52,284.21 930.62,284.13 932.71,284.06 934.8,283.98 936.89,283.9 938.99,283.83 941.08,283.75 943.17,283.67 945.26,283.6 947.35,283.52 949.45,283.44 951.54,283.37 953.63,283.29 955.72,283.21 957.82,283.12 959.91,283.04 962,282.95 962,289.96 959.91,290.05 957.82,290.13 955.72,290.21 953.63,290.29 951.54,290.37 949.45,290.45 947.35,290.53 945.26,290.6 943.17,290.68 941.08,290.75 938.99,290.83 936.89,290.91 934.8,290.98 932.71,291.06 930.62,291.14 928.52,291.22 926.43,291.3 924.34,291.38 922.25,291.46 920.16,291.55 918.06,291.64 915.97,291.72 913.88,291.82 911.79,291.91 909.69,292.01 907.6,292.1 905.51,292.21 903.42,292.31 901.33,292.42 899.23,292.53 897.14,292.64 895.05,292.76 892.96,292.88 890.86,293.01 888.77,293.14 886.68,293.27 884.59,293.41 882.5,293.55 880.4,293.69 878.31,293.84 876.22,293.99 874.13,294.15 872.03,294.32 869.94,294.48 867.85,294.65 865.76,294.83 863.67,295.01 861.57,295.2 859.48,295.39 857.39,295.59 855.3,295.79 853.2,296 851.11,296.21 849.02,296.43 846.93,296.65 844.84,296.88 842.74,297.11 840.65,297.35 838.56,297.6 836.47,297.85 834.37,298.1 832.28,298.36 830.19,298.63 828.1,298.9 826.01,299.18 823.91,299.47 821.82,299.76 819.73,300.05 817.64,300.36 815.54,300.66 813.45,300.98 811.36,301.3 809.27,301.62 807.17,301.95 805.08,302.29 802.99,302.63 800.9,302.98 798.81,303.34 796.71,303.7 794.62,304.07 792.53,304.44 790.44,304.82 788.34,305.2 786.25,305.6 784.16,305.99 782.07,306.4 779.98,306.8 777.88,307.22 775.79,307.64 773.7,308.07 771.61,308.5 769.51,308.94 767.42,309.38 765.33,309.83 763.24,310.29 761.15,310.75 759.05,311.22 756.96,311.69 754.87,312.17 752.78,312.66 750.68,313.15 748.59,313.65 746.5,314.15 744.41,314.66 742.32,315.17 740.22,315.69 738.13,316.22 736.04,316.75 733.95,317.29 731.85,317.83 729.76,318.38 727.67,318.93 725.58,319.49 723.49,320.06 721.39,320.63 719.3,321.21 717.21,321.79 715.12,322.38 713.02,322.97 710.93,323.57 708.84,324.17 706.75,324.78 704.66,325.4 702.56,326.02 700.47,326.65 698.38,327.28 696.29,327.91 694.19,328.56 692.1,329.2 690.01,329.86 687.92,330.51 685.83,331.18 683.73,331.85 681.64,332.52 679.55,333.2 677.46,333.88 675.36,334.57 673.27,335.27 671.18,335.97 669.09,336.67 667,337.38 664.9,338.1 662.81,338.82 660.72,339.55 658.63,340.28 656.53,341.01 654.44,341.75 652.35,342.5 650.26,343.25 648.17,344.01 646.07,344.77 643.98,345.54 641.89,346.31 639.8,347.08 637.7,347.87 635.61,348.65 633.52,349.44 631.43,350.24 629.34,351.04 627.24,351.85 625.15,352.66 623.06,353.48 620.97,354.3 618.87,355.13 616.78,355.96 614.69,356.8 612.6,357.64 610.51,358.49 608.41,359.34 606.32,360.2 604.23,361.06 602.14,361.93 600.04,362.8 597.95,363.68 595.86,364.57 593.77,365.45 591.68,366.35 589.58,367.25 587.49,368.15 585.4,369.06 583.31,369.98 581.21,370.9 579.12,371.82 577.03,372.75 574.94,373.69 572.85,374.63 570.75,375.58 568.66,376.53 566.57,377.49 564.48,378.45 562.38,379.42 560.29,380.4 558.2,381.38 556.11,382.36 554.02,383.35 551.92,384.35 549.83,385.35 547.74,386.36 545.65,387.38 543.55,388.4 541.46,389.42 539.37,390.46 537.28,391.49 535.18,392.54 533.09,393.59 531,394.64 528.91,395.71 526.82,396.77 524.72,397.85 522.63,398.93 520.54,400.02 518.45,401.11 516.35,402.21 514.26,403.32 512.17,404.43 510.08,405.55 507.99,406.68 505.89,407.81 503.8,408.95 501.71,410.09 499.62,411.25 497.52,412.41 495.43,413.57 493.34,414.75 491.25,415.93 489.16,417.12 487.06,418.31 484.97,419.51 482.88,420.72 480.79,421.94 478.69,423.16 476.6,424.4 474.51,425.64 472.42,426.88 470.33,428.14 468.23,429.4 466.14,430.67 464.05,431.95 461.96,433.23 459.86,434.53 457.77,435.83 455.68,437.14 453.59,438.46 451.5,439.78 449.4,441.12 447.31,442.46 445.22,443.81 443.13,445.17 441.03,446.54 438.94,447.92 436.85,449.31 434.76,450.7 432.67,452.11 430.57,453.52 428.48,454.94 426.39,456.37 424.3,457.81 422.2,459.26 420.11,460.72 418.02,462.19 415.93,463.67 413.84,465.16 411.74,466.65 409.65,468.16 407.56,469.68 405.47,471.2 403.37,472.74 401.28,474.28 399.19,475.84 397.1,477.41 395.01,478.98 392.91,480.57 390.82,482.17 388.73,483.77 386.64,485.39 384.54,487.02 382.45,488.66 380.36,490.31 378.27,491.97 376.18,493.64 374.08,495.32 371.99,497.01 369.9,498.71 367.81,500.43 365.71,502.15 363.62,503.89 361.53,505.64 359.44,507.4 357.35,509.17 355.25,510.95 353.16,512.74 351.07,514.55 348.98,516.36 346.88,518.19 344.79,520.03 342.7,521.88 340.61,523.74 338.52,525.62 336.42,527.5 334.33,529.4 332.24,531.31 330.15,533.23 328.05,535.17 325.96,537.11 323.87,539.07 321.78,541.04 319.69,543.02 317.59,545.01 315.5,547.02 313.41,549.04 311.32,551.07 309.22,553.11 307.13,555.17 305.04,557.23 302.95,559.31 300.86,561.41 298.76,563.51 296.67,565.63 294.58,567.76 292.49,569.9 290.39,572.05 288.3,574.22 286.21,576.39 284.12,578.57Z"/><path fill="#00cc00" d="M119.17,766.8 121.26,762.42 123.34,758.06 125.43,753.71 127.52,749.38 129.6,745.07 130.92,742.36 147.05,742.36 145.72,745.07 143.62,749.38 141.52,753.71 139.43,758.06 137.33,762.42 135.23,766.8ZM143.43,716.92 144.21,715.36 146.29,711.18 148.38,707.01 150.46,702.87 152.55,698.74 154.63,694.62 156.23,691.48 172.51,691.48 170.9,694.62 168.8,698.74 166.7,702.87 164.61,707.01 162.51,711.18 160.41,715.36 159.63,716.92ZM169.35,666.04 171.32,662.29 173.4,658.32 175.49,654.36 177.57,650.42 179.66,646.5 181.74,642.59 182.81,640.6 199.27,640.6 198.19,642.59 196.09,646.5 193.99,650.42 191.89,654.36 189.79,658.32 187.69,662.29 185.72,666.04ZM196.61,615.16 198.42,611.89 200.51,608.12 202.59,604.36 204.67,600.62 206.76,596.9 208.84,593.19 210.8,589.72 227.46,589.72 225.49,593.19 223.39,596.9 221.29,600.62 219.19,604.36 217.09,608.12 214.99,611.89 213.18,615.16ZM225.38,564.28 225.51,564.05 227.6,560.48 229.68,556.91 231.76,553.37 233.85,549.83 235.93,546.32 238.01,542.81 240.1,539.32 240.38,538.84 257.3,538.84 257,539.32 254.9,542.81 252.8,546.32 250.7,549.83 248.6,553.37 246.5,556.91 244.4,560.48 242.29,564.05 242.16,564.28ZM255.84,513.4 256.76,511.92 258.84,508.56 260.92,505.22 263,501.88 265.09,498.56 267.17,495.26 269.25,491.96 271.33,488.69 271.79,487.96 289.01,487.96 288.53,488.69 286.43,491.96 284.33,495.26 282.23,498.56 280.12,501.88 278.02,505.22 275.92,508.56 273.82,511.92 272.9,513.4ZM288.26,462.52 290.06,459.8 292.14,456.66 294.23,453.53 296.31,450.41 298.39,447.31 300.47,444.22 302.55,441.15 304.63,438.08 305.3,437.08 322.89,437.08 322.19,438.08 320.08,441.15 317.98,444.22 315.88,447.31 313.77,450.41 311.67,453.53 309.57,456.66 307.46,459.8 305.66,462.52ZM322.97,411.64 323.35,411.11 325.42,408.18 327.5,405.26 329.58,402.35 331.66,399.46 333.74,396.58 335.82,393.71 337.9,390.86 339.97,388.01 341.3,386.2 359.33,386.2 357.98,388.01 355.87,390.86 353.77,393.71 351.66,396.58 349.55,399.46 347.45,402.35 345.34,405.26 343.24,408.18 341.13,411.11 340.76,411.64ZM360.38,360.76 360.75,360.27 362.83,357.57 364.9,354.87 366.98,352.19 369.06,349.52 371.13,346.87 373.21,344.22 375.28,341.59 377.36,338.97 379.43,336.36 380.26,335.32 398.88,335.32 398.02,336.36 395.91,338.97 393.81,341.59 391.7,344.22 389.59,346.87 387.48,349.52 385.37,352.19 383.26,354.87 381.16,357.57 379.05,360.27 378.67,360.76ZM401.05,309.88 402.25,308.46 404.33,305.99 406.4,303.54 408.47,301.1 410.55,298.67 412.62,296.25 414.69,293.84 416.76,291.44 418.84,289.06 420.91,286.69 422.88,284.44 442.25,284.44 440.24,286.69 438.13,289.06 436.01,291.44 433.9,293.84 431.79,296.25 429.68,298.67 427.57,301.1 425.46,303.54 423.34,305.99 421.23,308.46 420.03,309.88ZM445.83,259 447.82,256.88 449.89,254.66 451.96,252.46 454.03,250.27 456.09,248.09 476.19,248.09 474.07,250.27 471.96,252.46 469.84,254.66 467.72,256.88 465.73,259ZM466.14,237.64 468.23,235.47 470.33,233.34 472.42,231.22 474.51,229.11 476.6,227.01 478.69,224.93 480.36,223.28 480.36,243.84 478.69,245.54 476.6,247.68 474.51,249.84 472.42,252 470.33,254.18 468.23,256.36 466.14,258.53ZM505.8,198.85 505.89,198.76 507.99,196.82 510.08,194.89 512.17,192.98 514.26,191.07 516.35,189.17 518.45,187.29 520.54,185.41 522.63,183.55 524.72,181.69 526.82,179.85 528.91,178.01 531,176.19 531.24,176 531.24,195.3 531,195.53 528.91,197.41 526.82,199.29 524.72,201.18 522.63,203.08 520.54,205 518.45,206.92 516.35,208.86 514.26,210.81 512.17,212.76 510.08,214.73 507.99,216.71 505.89,218.7 505.8,218.79ZM556.68,154.65 558.2,153.4 560.29,151.72 562.38,150.05 564.48,148.39 566.57,146.73 568.66,145.09 570.75,143.46 572.85,141.84 574.94,140.22 577.03,138.62 579.12,137.03 581.21,135.45 582.12,134.78 582.12,153.01 581.21,153.72 579.12,155.34 577.03,156.98 574.94,158.62 572.85,160.28 570.75,161.94 568.66,163.62 566.57,165.3 564.48,167 562.38,168.71 560.29,170.42 558.2,172.15 556.68,173.4ZM607.56,116.36 608.41,115.76 610.51,114.31 612.6,112.88 614.69,111.45 616.78,110.03 618.87,108.62 620.97,107.22 623.06,105.83 625.15,104.45 627.24,103.08 629.34,101.72 631.43,100.37 633,99.37 633,116.66 631.43,117.7 629.34,119.09 627.24,120.49 625.15,121.9 623.06,123.31 620.97,124.74 618.87,126.18 616.78,127.62 614.69,129.08 612.6,130.54 610.51,132.02 608.41,133.5 607.56,134.11ZM658.44,83.77 658.63,83.66 660.72,82.44 662.81,81.23 664.9,80.03 667,78.83 669.09,77.65 671.18,76.48 673.27,75.31 675.36,74.15 677.46,73.01 679.55,71.87 681.64,70.74 683.73,69.62 683.88,69.56 683.88,86.02 683.73,86.12 681.64,87.27 679.55,88.43 677.46,89.59 675.36,90.77 673.27,91.96 671.18,93.16 669.09,94.36 667,95.58 664.9,96.8 662.81,98.04 660.72,99.28 658.63,100.54 658.44,100.65ZM709.32,56.67 710.93,55.89 713.02,54.9 715.12,53.91 717.21,52.94 719.3,51.97 721.39,51.01 723.49,50.06 725.58,49.12 727.67,48.19 729.76,47.27 731.85,46.36 733.95,45.45 734.76,45.11 734.76,60.92 733.95,61.28 731.85,62.21 729.76,63.15 727.67,64.1 725.58,65.06 723.49,66.02 721.39,67 719.3,67.98 717.21,68.98 715.12,69.98 713.02,70.99 710.93,72.01 709.32,72.79ZM760.2,34.85 761.15,34.49 763.24,33.71 765.33,32.93 767.42,32.17 769.51,31.41 771.61,30.66 773.7,29.92 775.79,29.19 777.88,28.47 779.98,27.76 782.07,27.05 784.16,26.35 785.64,25.87 785.64,41.16 784.16,41.66 782.07,42.37 779.98,43.1 777.88,43.83 775.79,44.57 773.7,45.32 771.61,46.08 769.51,46.85 767.42,47.63 765.33,48.42 763.24,49.21 761.15,50.02 760.2,50.38ZM811.08,18.15 811.36,18.07 813.45,17.5 815.54,16.93 817.64,16.37 819.73,15.81 821.82,15.27 823.91,14.73 826.01,14.21 828.1,13.69 830.19,13.18 832.28,12.67 834.37,12.18 836.47,11.69 836.52,11.69 836.52,26.57 836.47,26.59 834.37,27.09 832.28,27.6 830.19,28.11 828.1,28.64 826.01,29.17 823.91,29.71 821.82,30.27 819.73,30.82 817.64,31.39 815.54,31.97 813.45,32.55 811.36,33.15 811.08,33.23ZM861.96,6.45 863.67,6.13 865.76,5.76 867.85,5.4 869.94,5.05 872.03,4.7 874.13,4.36 876.22,4.03 878.31,3.71 880.4,3.4 882.5,3.09 884.59,2.8 886.68,2.51 887.4,2.42 887.4,17.05 886.68,17.15 884.59,17.45 882.5,17.75 880.4,18.07 878.31,18.39 876.22,18.72 874.13,19.06 872.03,19.4 869.94,19.76 867.85,20.12 865.76,20.49 863.67,20.87 861.96,21.19ZM912.84,-0.42 913.88,-0.51 915.97,-0.69 918.06,-0.85 920.16,-1.01 922.25,-1.17 924.34,-1.31 926.43,-1.45 928.52,-1.58 930.62,-1.7 932.71,-1.81 934.8,-1.91 936.89,-2.01 938.28,-2.07 938.28,12.45 936.89,12.51 934.8,12.61 932.71,12.71 930.62,12.83 928.52,12.95 926.43,13.08 924.34,13.22 922.25,13.37 920.16,13.53 918.06,13.69 915.97,13.87 913.88,14.05 912.84,14.14ZM118.86,766.8 120.95,763.12 123.03,759.46 125.12,755.82 127.2,752.19 129.28,748.58 131.36,744.99 132.89,742.36 149.69,742.36 148.14,744.99 146.04,748.58 143.94,752.19 141.84,755.82 139.74,759.46 137.63,763.12 135.54,766.8ZM147.98,716.92 148.02,716.85 150.1,713.4 152.18,709.98 154.26,706.56 156.34,703.17 158.43,699.79 160.51,696.42 162.59,693.07 163.58,691.48 180.7,691.48 179.69,693.07 177.58,696.42 175.48,699.79 173.38,703.17 171.27,706.56 169.17,709.98 167.07,713.4 164.96,716.85 164.92,716.92ZM179.74,666.04 181.31,663.63 183.39,660.43 185.47,657.25 187.55,654.09 189.63,650.94 191.71,647.8 193.79,644.68 195.87,641.57 196.52,640.6 214.02,640.6 213.35,641.57 211.25,644.68 209.14,647.8 207.04,650.94 204.93,654.09 202.83,657.25 200.72,660.43 198.62,663.63 197.05,666.04ZM213.95,615.16 214.58,614.26 216.66,611.29 218.74,608.34 220.82,605.41 222.9,602.48 224.97,599.57 227.05,596.68 229.13,593.8 231.21,590.93 232.08,589.72 250.06,589.72 249.15,590.93 247.05,593.8 244.94,596.68 242.83,599.57 240.73,602.48 238.62,605.41 236.52,608.34 234.41,611.29 232.3,614.26 231.67,615.16ZM250.98,564.28 251.98,562.98 254.05,560.26 256.13,557.55 258.2,554.85 260.28,552.17 262.36,549.5 264.43,546.84 266.51,544.19 268.58,541.56 270.66,538.93 270.72,538.84 289.3,538.84 289.21,538.93 287.1,541.56 284.99,544.19 282.88,546.84 280.77,549.5 278.66,552.17 276.56,554.85 274.45,557.55 272.34,560.26 270.23,562.98 269.24,564.28ZM291.4,513.4 291.4,513.4 293.47,510.91 295.55,508.43 297.62,505.97 299.69,503.52 301.77,501.08 303.84,498.65 305.91,496.23 307.98,493.83 310.06,491.43 312.13,489.05 313.07,487.96 332.41,487.96 331.43,489.05 329.31,491.43 327.2,493.83 325.09,496.23 322.98,498.65 320.87,501.08 318.75,503.52 316.64,505.97 314.53,508.43 312.42,510.91 310.31,513.4 310.31,513.4ZM335.88,462.52 336.98,461.34 339.05,459.11 341.12,456.88 343.19,454.67 345.26,452.46 347.33,450.27 349.4,448.09 369.48,448.09 367.36,450.27 365.25,452.46 363.13,454.67 361.02,456.88 358.9,459.11 356.79,461.34 355.69,462.52ZM359.44,437.63 361.53,435.46 363.62,433.33 365.71,431.2 367.81,429.09 369.9,426.99 370.15,426.76 370.15,447.4 369.9,447.68 367.81,449.83 365.71,452 363.62,454.18 361.53,456.36 359.44,458.54ZM395.54,402.05 397.1,400.56 399.19,398.6 401.28,396.65 403.37,394.7 405.47,392.77 407.56,390.85 409.65,388.93 411.74,387.03 413.84,385.13 415.93,383.25 418.02,381.37 420.11,379.51 420.98,378.75 420.98,398.24 420.11,399.04 418.02,400.95 415.93,402.87 413.84,404.8 411.74,406.74 409.65,408.69 407.56,410.65 405.47,412.62 403.37,414.6 401.28,416.59 399.19,418.59 397.1,420.6 395.54,422.09ZM446.42,356.85 447.31,356.1 449.4,354.36 451.5,352.64 453.59,350.92 455.68,349.21 457.77,347.51 459.86,345.82 461.96,344.13 464.05,342.46 466.14,340.8 468.23,339.14 470.33,337.49 471.86,336.3 471.86,354.8 470.33,356.03 468.23,357.72 466.14,359.41 464.05,361.11 461.96,362.83 459.86,364.55 457.77,366.28 455.68,368.02 453.59,369.77 451.5,371.53 449.4,373.3 447.31,375.07 446.42,375.83ZM497.3,317.04 497.52,316.88 499.62,315.35 501.71,313.83 503.8,312.32 505.89,310.82 507.99,309.33 510.08,307.84 512.17,306.37 514.26,304.9 516.35,303.44 518.45,301.99 520.54,300.55 522.63,299.11 522.74,299.05 522.74,316.67 522.63,316.76 520.54,318.23 518.45,319.7 516.35,321.19 514.26,322.68 512.17,324.18 510.08,325.69 507.99,327.21 505.89,328.74 503.8,330.27 501.71,331.82 499.62,333.37 497.52,334.93 497.3,335.1ZM548.18,282.26 549.83,281.2 551.92,279.88 554.02,278.56 556.11,277.26 558.2,275.96 560.29,274.67 562.38,273.39 564.48,272.11 566.57,270.84 568.66,269.58 570.75,268.33 572.85,267.09 573.62,266.64 573.62,283.53 572.85,284.01 570.75,285.28 568.66,286.56 566.57,287.85 564.48,289.14 562.38,290.45 560.29,291.76 558.2,293.08 556.11,294.4 554.02,295.74 551.92,297.08 549.83,298.44 548.18,299.5ZM599.06,252.16 600.04,251.62 602.14,250.48 604.23,249.35 606.32,248.23 608.41,247.11 610.51,246.01 612.6,244.91 614.69,243.81 616.78,242.73 618.87,241.65 620.97,240.58 623.06,239.52 624.5,238.79 624.5,255.07 623.06,255.82 620.97,256.9 618.87,258 616.78,259.1 614.69,260.21 612.6,261.33 610.51,262.45 608.41,263.58 606.32,264.72 604.23,265.87 602.14,267.03 600.04,268.19 599.06,268.73ZM649.94,226.62 650.26,226.47 652.35,225.52 654.44,224.59 656.53,223.65 658.63,222.73 660.72,221.81 662.81,220.9 664.9,220 667,219.11 669.09,218.22 671.18,217.34 673.27,216.47 675.36,215.61 675.38,215.61 675.38,231.3 675.36,231.32 673.27,232.21 671.18,233.1 669.09,234 667,234.9 664.9,235.82 662.81,236.74 660.72,237.67 658.63,238.61 656.53,239.56 654.44,240.51 652.35,241.47 650.26,242.44 649.94,242.59ZM700.82,205.69 702.56,205.04 704.66,204.28 706.75,203.52 708.84,202.78 710.93,202.04 713.02,201.3 715.12,200.58 717.21,199.86 719.3,199.15 721.39,198.44 723.49,197.74 725.58,197.05 726.26,196.83 726.26,212.11 725.58,212.34 723.49,213.05 721.39,213.76 719.3,214.48 717.21,215.21 715.12,215.94 713.02,216.69 710.93,217.44 708.84,218.19 706.75,218.96 704.66,219.73 702.56,220.51 700.82,221.16ZM751.7,189.02 752.78,188.71 754.87,188.12 756.96,187.53 759.05,186.95 761.15,186.38 763.24,185.81 765.33,185.25 767.42,184.7 769.51,184.16 771.61,183.62 773.7,183.09 775.79,182.56 777.14,182.23 777.14,197.18 775.79,197.52 773.7,198.06 771.61,198.6 769.51,199.15 767.42,199.71 765.33,200.27 763.24,200.84 761.15,201.42 759.05,202.01 756.96,202.6 754.87,203.2 752.78,203.81 751.7,204.12ZM802.58,176.44 802.99,176.35 805.08,175.92 807.17,175.49 809.27,175.08 811.36,174.66 813.45,174.26 815.54,173.86 817.64,173.47 819.73,173.09 821.82,172.71 823.91,172.34 826.01,171.97 828.02,171.63 828.02,186.34 826.01,186.69 823.91,187.07 821.82,187.45 819.73,187.83 817.64,188.23 815.54,188.63 813.45,189.03 811.36,189.45 809.27,189.87 807.17,190.3 805.08,190.73 802.99,191.17 802.58,191.26ZM853.46,167.78 855.3,167.54 857.39,167.27 859.48,167.01 861.57,166.75 863.67,166.5 865.76,166.26 867.85,166.03 869.94,165.8 872.03,165.57 874.13,165.35 876.22,165.14 878.31,164.94 878.9,164.88 878.9,179.45 878.31,179.51 876.22,179.72 874.13,179.93 872.03,180.16 869.94,180.38 867.85,180.62 865.76,180.86 863.67,181.11 861.57,181.36 859.48,181.62 857.39,181.89 855.3,182.17 853.46,182.41ZM904.34,162.91 905.51,162.84 907.6,162.73 909.69,162.62 911.79,162.51 913.88,162.41 915.97,162.32 918.06,162.23 920.16,162.15 922.25,162.07 924.34,162.01 926.43,161.94 928.52,161.89 929.78,161.82 929.78,176.34 928.52,176.39 926.43,176.45 924.34,176.51 922.25,176.58 920.16,176.66 918.06,176.74 915.97,176.83 913.88,176.93 911.79,177.03 909.69,177.14 907.6,177.25 905.51,177.37 904.34,177.44ZM955.22,161.07 955.72,161.06 957.82,161.04 959.91,161.02 962,161.01 962,175.51 959.91,175.52 957.82,175.54 955.72,175.56 955.22,175.57ZM118.69,766.8 120.78,763.4 122.86,760.02 124.94,756.66 127.02,753.31 129.09,749.99 131.17,746.69 133.25,743.41 133.9,742.36 151.13,742.36 150.44,743.41 148.34,746.69 146.23,749.99 144.12,753.31 142.02,756.66 139.91,760.02 137.8,763.4 135.71,766.8ZM150.45,716.92 151.94,714.7 154.02,711.6 156.1,708.52 158.17,705.46 160.25,702.42 162.32,699.39 164.4,696.38 166.47,693.39 167.8,691.48 185.53,691.48 184.17,693.39 182.06,696.38 179.95,699.39 177.84,702.42 175.73,705.46 173.62,708.52 171.52,711.6 169.41,714.7 167.92,716.92ZM186,666.04 187.22,664.39 189.3,661.58 191.37,658.79 193.44,656.01 195.52,653.25 197.59,650.5 199.66,647.77 201.74,645.05 203.81,642.35 205.16,640.6 223.54,640.6 222.15,642.35 220.04,645.05 217.93,647.77 215.82,650.5 213.71,653.25 211.6,656.01 209.49,658.79 207.38,661.58 205.26,664.39 204.04,666.04ZM225.34,615.16 226.6,613.63 228.67,611.1 230.74,608.59 232.81,606.1 234.88,603.61 236.95,601.15 239.02,598.69 241.09,596.25 243.16,593.82 245.23,591.4 246.68,589.72 265.91,589.72 264.42,591.4 262.3,593.82 260.19,596.25 258.07,598.69 255.96,601.15 253.85,603.61 251.73,606.1 249.62,608.59 247.5,611.1 245.39,613.63 244.13,615.16ZM269.27,564.28 270.06,563.44 272.12,561.19 274.19,558.95 276.26,556.73 278.32,554.51 280.39,552.31 282.46,550.12 284.52,547.95 304.63,547.95 302.52,550.12 300.4,552.31 298.28,554.51 296.16,556.73 294.04,558.95 291.93,561.19 289.81,563.44 289.03,564.28ZM294.58,537.51 296.67,535.35 298.76,533.22 300.86,531.11 302.95,529.01 303.46,528.52 303.46,549.16 302.95,549.7 300.86,551.86 298.76,554.03 296.67,556.21 294.58,558.38ZM328.86,503.91 330.15,502.69 332.24,500.74 334.33,498.8 336.42,496.86 338.52,494.95 340.61,493.04 342.7,491.14 344.79,489.25 346.88,487.37 348.98,485.5 351.07,483.64 353.16,481.79 354.3,480.8 354.3,500.21 353.16,501.25 351.07,503.15 348.98,505.05 346.88,506.97 344.79,508.9 342.7,510.83 340.61,512.78 338.52,514.74 336.42,516.71 334.33,518.69 332.24,520.68 330.15,522.68 328.86,523.9ZM379.74,459.12 380.36,458.6 382.45,456.88 384.54,455.17 386.64,453.47 388.73,451.78 390.82,450.09 392.91,448.42 395.01,446.75 397.1,445.1 399.19,443.45 401.28,441.81 403.37,440.18 405.18,438.78 405.18,457.21 403.37,458.64 401.28,460.31 399.19,461.99 397.1,463.68 395.01,465.37 392.91,467.08 390.82,468.79 388.73,470.51 386.64,472.24 384.54,473.99 382.45,475.74 380.36,477.5 379.74,478.01ZM430.62,419.73 432.67,418.23 434.76,416.72 436.85,415.22 438.94,413.73 441.03,412.25 443.13,410.78 445.22,409.31 447.31,407.85 449.4,406.4 451.5,404.95 453.59,403.52 455.68,402.09 456.06,401.85 456.06,419.43 455.68,419.71 453.59,421.17 451.5,422.63 449.4,424.11 447.31,425.59 445.22,427.08 443.13,428.58 441.03,430.09 438.94,431.6 436.85,433.13 434.76,434.66 432.67,436.2 430.62,437.7ZM481.5,385.09 482.88,384.21 484.97,382.88 487.06,381.56 489.16,380.25 491.25,378.95 493.34,377.66 495.43,376.37 497.52,375.09 499.62,373.81 501.71,372.55 503.8,371.29 505.89,370.03 506.94,369.42 506.94,386.34 505.89,386.98 503.8,388.26 501.71,389.54 499.62,390.84 497.52,392.14 495.43,393.45 493.34,394.76 491.25,396.08 489.16,397.41 487.06,398.75 484.97,400.09 482.88,401.44 481.5,402.33ZM532.38,354.78 533.09,354.37 535.18,353.22 537.28,352.07 539.37,350.92 541.46,349.79 543.55,348.66 545.65,347.53 547.74,346.42 549.83,345.31 551.92,344.2 554.02,343.1 556.11,342.01 557.82,341.13 557.82,357.49 556.11,358.4 554.02,359.51 551.92,360.63 549.83,361.76 547.74,362.89 545.65,364.03 543.55,365.17 541.46,366.33 539.37,367.49 537.28,368.65 535.18,369.83 533.09,371.01 532.38,371.41ZM583.26,328.45 583.31,328.42 585.4,327.42 587.49,326.43 589.58,325.44 591.68,324.46 593.77,323.48 595.86,322.51 597.95,321.55 600.04,320.59 602.14,319.64 604.23,318.7 606.32,317.76 608.41,316.83 608.7,316.71 608.7,332.59 608.41,332.73 606.32,333.68 604.23,334.63 602.14,335.6 600.04,336.57 597.95,337.54 595.86,338.52 593.77,339.51 591.68,340.5 589.58,341.5 587.49,342.51 585.4,343.52 583.31,344.54 583.26,344.57ZM634.14,305.89 635.61,305.28 637.7,304.43 639.8,303.59 641.89,302.76 643.98,301.93 646.07,301.11 648.17,300.3 650.26,299.49 652.35,298.68 654.44,297.89 656.53,297.09 658.63,296.31 659.58,295.96 659.58,311.45 658.63,311.82 656.53,312.62 654.44,313.42 652.35,314.23 650.26,315.05 648.17,315.88 646.07,316.71 643.98,317.55 641.89,318.39 639.8,319.24 637.7,320.09 635.61,320.96 634.14,321.56ZM685.02,286.92 685.83,286.64 687.92,285.94 690.01,285.24 692.1,284.55 694.19,283.87 696.29,283.19 698.38,282.52 700.47,281.85 702.56,281.19 704.66,280.53 706.75,279.88 708.84,279.24 710.46,278.75 710.46,293.92 708.84,294.42 706.75,295.08 704.66,295.74 702.56,296.41 700.47,297.08 698.38,297.76 696.29,298.45 694.19,299.14 692.1,299.84 690.01,300.54 687.92,301.25 685.83,301.96 685.02,302.24ZM735.9,271.44 736.04,271.4 738.13,270.84 740.22,270.28 742.32,269.73 744.41,269.19 746.5,268.65 748.59,268.11 750.68,267.59 752.78,267.06 754.87,266.55 756.96,266.04 759.05,265.53 761.15,265.03 761.34,264.99 761.34,279.9 761.15,279.95 759.05,280.46 756.96,280.97 754.87,281.49 752.78,282.02 750.68,282.55 748.59,283.09 746.5,283.63 744.41,284.18 742.32,284.74 740.22,285.3 738.13,285.86 736.04,286.44 735.9,286.48ZM786.78,259.37 788.34,259.05 790.44,258.63 792.53,258.22 794.62,257.81 796.71,257.4 798.81,257.01 800.9,256.61 802.99,256.23 805.08,255.84 807.17,255.47 809.27,255.1 811.36,254.73 812.22,254.59 812.22,269.3 811.36,269.45 809.27,269.83 807.17,270.2 805.08,270.59 802.99,270.98 800.9,271.37 798.81,271.77 796.71,272.18 794.62,272.59 792.53,273 790.44,273.43 788.34,273.86 786.78,274.18ZM837.66,250.61 838.56,250.48 840.65,250.19 842.74,249.91 844.84,249.63 846.93,249.36 849.02,249.09 851.11,248.83 853.2,248.57 855.3,248.32 857.39,248.08 859.48,247.84 861.57,247.6 863.1,247.43 863.1,262.02 861.57,262.19 859.48,262.43 857.39,262.68 855.3,262.93 853.2,263.19 851.11,263.45 849.02,263.71 846.93,263.99 844.84,264.26 842.74,264.55 840.65,264.83 838.56,265.13 837.66,265.26ZM888.54,245.03 888.77,245.01 890.86,244.85 892.96,244.69 895.05,244.54 897.14,244.39 899.23,244.25 901.33,244.11 903.42,243.98 905.51,243.85 907.6,243.72 909.69,243.61 911.79,243.49 913.88,243.38 913.98,243.38 913.98,257.9 913.88,257.9 911.79,258.01 909.69,258.13 907.6,258.25 905.51,258.38 903.42,258.51 901.33,258.64 899.23,258.78 897.14,258.93 895.05,259.08 892.96,259.23 890.86,259.39 888.77,259.56 888.54,259.58ZM939.42,242.45 941.08,242.41 943.17,242.37 945.26,242.33 947.35,242.3 949.45,242.27 951.54,242.25 953.63,242.23 955.72,242.21 957.82,242.2 959.91,242.2 962,242.2 962,256.7 959.91,256.7 957.82,256.7 955.72,256.72 953.63,256.73 951.54,256.75 949.45,256.77 947.35,256.8 945.26,256.84 943.17,256.87 941.08,256.92 939.42,256.95ZM118.18,766.8 120.28,763.97 122.37,761.14 124.46,758.31 126.55,755.48 128.64,752.66 130.73,749.84 132.82,747.02 134.91,744.2 136.27,742.36 154.34,742.36 152.97,744.2 150.87,747.02 148.78,749.84 146.68,752.66 144.59,755.48 142.49,758.31 140.4,761.14 138.31,763.97 136.22,766.8ZM155.27,716.92 155.78,716.25 157.86,713.49 159.95,710.73 162.03,707.97 164.11,705.23 166.2,702.49 168.28,699.76 170.36,697.03 172.45,694.31 174.53,691.61 174.62,691.48 192.96,691.48 192.85,691.61 190.75,694.31 188.65,697.03 186.55,699.76 184.44,702.49 182.34,705.23 180.24,707.97 178.14,710.73 176.04,713.49 173.94,716.25 173.44,716.92ZM194.49,666.04 195.34,664.98 197.41,662.37 199.49,659.77 201.57,657.18 203.65,654.6 205.73,652.03 207.8,649.47 209.88,646.92 211.96,644.38 214.03,641.85 215.05,640.6 233.91,640.6 232.85,641.85 230.74,644.38 228.64,646.92 226.53,649.47 224.42,652.03 222.31,654.6 220.21,657.18 218.1,659.77 215.99,662.37 213.89,664.98 213.05,666.04ZM236.5,615.16 236.85,614.76 238.92,612.37 240.99,609.99 243.06,607.62 245.13,605.26 247.2,602.92 249.27,600.58 251.34,598.26 253.41,595.95 255.48,593.65 257.55,591.37 259.04,589.72 278.75,589.72 277.21,591.37 275.09,593.65 272.98,595.95 270.86,598.26 268.75,600.58 266.63,602.92 264.52,605.26 262.41,607.62 260.29,609.99 258.18,612.37 256.07,614.76 255.72,615.16ZM293.09,553.94 294.58,552.43 296.67,550.34 298.76,548.27 300.86,546.21 302.95,544.17 305.04,542.13 307.13,540.11 309.22,538.1 311.32,536.1 313.41,534.11 315.5,532.13 317.59,530.17 318.47,529.37 318.47,549.33 317.59,550.19 315.5,552.21 313.41,554.25 311.32,556.29 309.22,558.35 307.13,560.42 305.04,562.5 302.95,564.6 300.86,566.71 298.76,568.83 296.67,570.96 294.58,573.1 293.09,574.62ZM343.91,506.49 344.79,505.72 346.88,503.92 348.98,502.13 351.07,500.35 353.16,498.59 355.25,496.83 357.35,495.09 359.44,493.36 361.53,491.63 363.62,489.92 365.71,488.22 367.81,486.53 369.35,485.3 369.35,503.99 367.81,505.28 365.71,507.01 363.62,508.76 361.53,510.52 359.44,512.3 357.35,514.08 355.25,515.87 353.16,517.68 351.07,519.5 348.98,521.33 346.88,523.17 344.79,525.02 343.91,525.79ZM394.79,465.68 395.01,465.52 397.1,463.98 399.19,462.44 401.28,460.92 403.37,459.4 405.47,457.9 407.56,456.4 409.65,454.91 411.74,453.43 413.84,451.97 415.93,450.51 418.02,449.06 420.11,447.62 420.23,447.55 420.23,465.19 420.11,465.29 418.02,466.77 415.93,468.26 413.84,469.76 411.74,471.26 409.65,472.78 407.56,474.31 405.47,475.84 403.37,477.39 401.28,478.95 399.19,480.51 397.1,482.09 395.01,483.68 394.79,483.84ZM445.67,430.74 447.31,429.69 449.4,428.36 451.5,427.05 453.59,425.75 455.68,424.45 457.77,423.16 459.86,421.88 461.96,420.61 464.05,419.35 466.14,418.09 468.23,416.84 470.33,415.6 471.11,415.14 471.11,432.03 470.33,432.51 468.23,433.78 466.14,435.06 464.05,436.34 461.96,437.64 459.86,438.94 457.77,440.25 455.68,441.56 453.59,442.89 451.5,444.23 449.4,445.57 447.31,446.92 445.67,447.97ZM496.55,400.65 497.52,400.11 499.62,398.97 501.71,397.83 503.8,396.7 505.89,395.58 507.99,394.46 510.08,393.35 512.17,392.25 514.26,391.15 516.35,390.06 518.45,388.98 520.54,387.9 521.99,387.16 521.99,403.48 520.54,404.24 518.45,405.34 516.35,406.45 514.26,407.56 512.17,408.68 510.08,409.8 507.99,410.94 505.89,412.07 503.8,413.22 501.71,414.37 499.62,415.53 497.52,416.7 496.55,417.23ZM547.43,374.57 547.74,374.43 549.83,373.43 551.92,372.44 554.02,371.45 556.11,370.48 558.2,369.5 560.29,368.53 562.38,367.57 564.48,366.61 566.57,365.66 568.66,364.72 570.75,363.77 572.85,362.84 572.87,362.83 572.87,378.73 572.85,378.75 570.75,379.7 568.66,380.65 566.57,381.62 564.48,382.58 562.38,383.56 560.29,384.53 558.2,385.52 556.11,386.51 554.02,387.51 551.92,388.51 549.83,389.51 547.74,390.53 547.43,390.68ZM598.31,351.88 600.04,351.15 602.14,350.29 604.23,349.43 606.32,348.58 608.41,347.73 610.51,346.89 612.6,346.05 614.69,345.22 616.78,344.39 618.87,343.56 620.97,342.75 623.06,341.93 623.75,341.67 623.75,357.23 623.06,357.51 620.97,358.33 618.87,359.16 616.78,360 614.69,360.84 612.6,361.68 610.51,362.54 608.41,363.39 606.32,364.25 604.23,365.12 602.14,365.99 600.04,366.87 598.31,367.59ZM649.19,332.21 650.26,331.83 652.35,331.08 654.44,330.35 656.53,329.61 658.63,328.89 660.72,328.16 662.81,327.45 664.9,326.73 667,326.03 669.09,325.33 671.18,324.63 673.27,323.94 674.63,323.49 674.63,338.77 673.27,339.22 671.18,339.92 669.09,340.63 667,341.35 664.9,342.06 662.81,342.79 660.72,343.52 658.63,344.25 656.53,344.99 654.44,345.73 652.35,346.48 650.26,347.24 649.19,347.62ZM700.07,315.54 700.47,315.42 702.56,314.8 704.66,314.19 706.75,313.58 708.84,312.98 710.93,312.38 713.02,311.79 715.12,311.21 717.21,310.63 719.3,310.05 721.39,309.48 723.49,308.92 725.51,308.38 725.51,323.4 723.49,323.95 721.39,324.52 719.3,325.1 717.21,325.68 715.12,326.27 713.02,326.87 710.93,327.47 708.84,328.08 706.75,328.69 704.66,329.31 702.56,329.93 700.47,330.56 700.07,330.68ZM750.95,302.04 752.78,301.62 754.87,301.14 756.96,300.67 759.05,300.2 761.15,299.74 763.24,299.28 765.33,298.83 767.42,298.39 769.51,297.95 771.61,297.52 773.7,297.09 775.79,296.67 776.39,296.55 776.39,311.34 775.79,311.47 773.7,311.89 771.61,312.33 769.51,312.77 767.42,313.22 765.33,313.67 763.24,314.13 761.15,314.59 759.05,315.06 756.96,315.54 754.87,316.02 752.78,316.51 750.95,316.94ZM801.83,291.93 802.99,291.74 805.08,291.4 807.17,291.07 809.27,290.74 811.36,290.42 813.45,290.1 815.54,289.8 817.64,289.49 819.73,289.19 821.82,288.9 823.91,288.62 826.01,288.34 827.27,288.17 827.27,302.8 826.01,302.97 823.91,303.25 821.82,303.55 819.73,303.84 817.64,304.15 815.54,304.46 813.45,304.77 811.36,305.09 809.27,305.42 807.17,305.75 805.08,306.09 802.99,306.44 801.83,306.63ZM852.71,285.24 853.2,285.19 855.3,284.99 857.39,284.79 859.48,284.59 861.57,284.41 863.67,284.22 865.76,284.04 867.85,283.87 869.94,283.7 872.03,283.53 874.13,283.37 876.22,283.21 878.15,283.07 878.15,297.61 876.22,297.75 874.13,297.91 872.03,298.08 869.94,298.25 867.85,298.42 865.76,298.6 863.67,298.78 861.57,298.97 859.48,299.16 857.39,299.36 855.3,299.56 853.2,299.77 852.71,299.82ZM903.59,281.54 905.51,281.44 907.6,281.34 909.69,281.24 911.79,281.15 913.88,281.06 915.97,280.96 918.06,280.88 920.16,280.79 922.25,280.7 924.34,280.62 926.43,280.54 928.52,280.46 929.03,280.44 929.03,294.95 928.52,294.97 926.43,295.05 924.34,295.13 922.25,295.22 920.16,295.3 918.06,295.39 915.97,295.48 913.88,295.57 911.79,295.66 909.69,295.76 907.6,295.86 905.51,295.96 903.59,296.06ZM954.47,279.5 955.72,279.45 957.82,279.37 959.91,279.29 962,279.2 962,293.71 959.91,293.8 957.82,293.88 955.72,293.96 954.47,294.01Z"/><path fill="#3333ff" d="M119.17,766.8 121.26,762.42 123.34,758.06 125.43,753.71 127.3,749.84 143.4,749.84 141.52,753.71 139.43,758.06 137.33,762.42 135.23,766.8ZM135.55,732.88 135.86,732.24 137.95,727.99 140.03,723.76 142.12,719.55 143.92,715.92 160.13,715.92 158.31,719.55 156.21,723.76 154.11,727.99 152.01,732.24 151.7,732.88ZM152.44,698.96 152.55,698.74 154.63,694.62 156.72,690.53 158.81,686.44 160.89,682.38 161.08,682 177.4,682 177.2,682.38 175.1,686.44 173,690.53 170.9,694.62 168.8,698.74 168.69,698.96ZM169.87,665.04 171.32,662.29 173.4,658.32 175.49,654.36 177.57,650.42 178.82,648.08 195.25,648.08 193.99,650.42 191.89,654.36 189.79,658.32 187.69,662.29 186.25,665.04ZM187.91,631.12 188,630.96 190.08,627.12 192.17,623.29 194.25,619.47 196.34,615.67 197.16,614.16 213.73,614.16 212.89,615.67 210.79,619.47 208.69,623.29 206.59,627.12 204.49,630.96 204.4,631.12ZM206.59,597.2 206.76,596.9 208.84,593.19 210.93,589.5 213.01,585.82 215.09,582.15 216.18,580.24 232.9,580.24 231.79,582.15 229.69,585.82 227.59,589.5 225.49,593.19 223.39,596.9 223.22,597.2ZM225.96,563.28 227.6,560.48 229.68,556.91 231.76,553.37 233.85,549.83 235.93,546.32 252.8,546.32 250.7,549.83 248.6,553.37 246.5,556.91 244.4,560.48 242.75,563.28ZM246.09,529.36 246.34,528.94 248.43,525.51 250.51,522.09 252.59,518.69 254.68,515.3 256.46,512.4 273.52,512.4 271.71,515.3 269.61,518.69 267.51,522.09 265.41,525.51 263.31,528.94 263.05,529.36ZM267.05,495.44 267.17,495.26 269.25,491.96 271.33,488.69 273.41,485.42 275.5,482.17 277.58,478.93 277.86,478.48 295.15,478.48 294.84,478.93 292.74,482.17 290.64,485.42 288.53,488.69 286.43,491.96 284.33,495.26 284.21,495.44ZM288.92,461.52 290.06,459.8 292.14,456.66 294.23,453.53 296.31,450.41 298.39,447.31 300.24,444.56 317.75,444.56 315.88,447.31 313.77,450.41 311.67,453.53 309.57,456.66 307.46,459.8 306.32,461.52ZM311.81,427.6 312.95,425.97 315.03,422.97 317.11,419.98 319.19,417.01 321.27,414.06 323.35,411.11 323.67,410.64 341.48,410.64 341.13,411.11 339.03,414.06 336.92,417.01 334.82,419.98 332.71,422.97 330.61,425.97 329.47,427.6ZM335.83,393.68 337.9,390.86 339.97,388.01 342.05,385.18 344.13,382.37 346.21,379.56 348.29,376.77 348.31,376.72 366.46,376.72 366.4,376.77 364.3,379.56 362.19,382.37 360.08,385.18 357.98,388.01 355.87,390.86 353.8,393.68ZM361.13,359.76 362.83,357.57 364.9,354.87 366.98,352.19 369.06,349.52 371.13,346.87 373.21,344.22 374.32,342.8 392.84,342.8 391.7,344.22 389.59,346.87 387.48,349.52 385.37,352.19 383.26,354.87 381.16,357.57 379.46,359.76ZM387.89,325.84 389.81,323.5 391.88,320.96 393.96,318.44 396.03,315.93 398.11,313.43 400.18,310.94 401.9,308.88 420.88,308.88 419.12,310.94 417.01,313.43 414.9,315.93 412.79,318.44 410.68,320.96 408.57,323.5 406.65,325.84ZM416.35,291.92 416.76,291.44 418.84,289.06 420.91,286.69 422.98,284.33 425.05,281.98 427.12,279.64 429.19,277.31 431.26,275 431.27,274.96 450.86,274.96 450.81,275 448.69,277.31 446.58,279.64 444.47,281.98 442.35,284.33 440.24,286.69 438.13,289.06 436.01,291.44 435.6,291.92ZM446.77,258 447.82,256.88 449.89,254.66 451.96,252.46 454.03,250.27 456.09,248.09 476.19,248.09 474.07,250.27 471.96,252.46 469.84,254.66 467.72,256.88 466.67,258ZM466.14,237.64 468.23,235.47 470.33,233.34 472.42,231.22 472.98,230.68 472.98,251.4 472.42,252 470.33,254.18 468.23,256.36 466.14,258.53ZM489.84,214.01 491.25,212.63 493.34,210.61 495.43,208.61 497.52,206.62 499.62,204.64 501.71,202.67 503.8,200.71 505.89,198.76 506.8,197.94 506.8,217.82 505.89,218.7 503.8,220.7 501.71,222.71 499.62,224.73 497.52,226.76 495.43,228.8 493.34,230.86 491.25,232.92 489.84,234.31ZM523.76,182.56 524.72,181.69 526.82,179.85 528.91,178.01 531,176.19 533.09,174.37 535.18,172.57 537.28,170.78 539.37,168.99 540.72,167.86 540.72,186.97 539.37,188.15 537.28,189.98 535.18,191.82 533.09,193.67 531,195.53 528.91,197.41 526.82,199.29 524.72,201.18 523.76,202.05ZM557.68,153.83 558.2,153.4 560.29,151.72 562.38,150.05 564.48,148.39 566.57,146.73 568.66,145.09 570.75,143.46 572.85,141.84 574.64,140.46 574.64,158.86 572.85,160.28 570.75,161.94 568.66,163.62 566.57,165.3 564.48,167 562.38,168.71 560.29,170.42 558.2,172.15 557.68,172.58ZM591.6,127.74 591.68,127.68 593.77,126.16 595.86,124.64 597.95,123.14 600.04,121.64 602.14,120.16 604.23,118.68 606.32,117.22 608.41,115.76 608.56,115.68 608.56,133.38 608.41,133.5 606.32,135 604.23,136.5 602.14,138.02 600.04,139.54 597.95,141.08 595.86,142.62 593.77,144.18 591.68,145.74 591.6,145.8ZM625.52,104.23 627.24,103.08 629.34,101.72 631.43,100.37 633.52,99.03 635.61,97.7 637.7,96.38 639.8,95.06 641.89,93.76 642.48,93.41 642.48,110.52 641.89,110.91 639.8,112.25 637.7,113.6 635.61,114.96 633.52,116.32 631.43,117.7 629.34,119.09 627.24,120.49 625.52,121.63ZM659.44,83.2 660.72,82.44 662.81,81.23 664.9,80.03 667,78.83 669.09,77.65 671.18,76.48 673.27,75.31 675.36,74.15 676.4,73.6 676.4,90.18 675.36,90.77 673.27,91.96 671.18,93.16 669.09,94.36 667,95.58 664.9,96.8 662.81,98.04 660.72,99.28 659.44,100.04ZM693.36,64.6 694.19,64.16 696.29,63.09 698.38,62.04 700.47,60.99 702.56,59.95 704.66,58.92 706.75,57.9 708.84,56.89 710.32,56.19 710.32,72.31 708.84,73.04 706.75,74.08 704.66,75.13 702.56,76.18 700.47,77.25 698.38,78.33 696.29,79.41 694.19,80.51 693.36,80.94ZM727.28,48.37 727.67,48.19 729.76,47.27 731.85,46.36 733.95,45.45 736.04,44.56 738.13,43.67 740.22,42.79 742.32,41.92 744.24,41.13 744.24,56.84 742.32,57.66 740.22,58.55 738.13,59.45 736.04,60.36 733.95,61.28 731.85,62.21 729.76,63.15 727.67,64.1 727.28,64.28ZM761.2,34.48 763.24,33.71 765.33,32.93 767.42,32.17 769.51,31.41 771.61,30.66 773.7,29.92 775.79,29.19 777.88,28.47 778.16,28.39 778.16,43.73 777.88,43.83 775.79,44.57 773.7,45.32 771.61,46.08 769.51,46.85 767.42,47.63 765.33,48.42 763.24,49.21 761.2,49.99ZM795.12,22.85 796.71,22.35 798.81,21.72 800.9,21.09 802.99,20.47 805.08,19.86 807.17,19.26 809.27,18.66 811.36,18.07 812.08,17.88 812.08,32.94 811.36,33.15 809.27,33.75 807.17,34.36 805.08,34.98 802.99,35.61 800.9,36.25 798.81,36.89 796.71,37.55 795.12,38.05ZM829.04,13.46 830.19,13.18 832.28,12.67 834.37,12.18 836.47,11.69 838.56,11.22 840.65,10.75 842.74,10.29 844.84,9.83 846,9.59 846,24.42 844.84,24.68 842.74,25.14 840.65,25.62 838.56,26.1 836.47,26.59 834.37,27.09 832.28,27.6 830.19,28.11 829.04,28.4ZM862.96,6.26 863.67,6.13 865.76,5.76 867.85,5.4 869.94,5.05 872.03,4.7 874.13,4.36 876.22,4.03 878.31,3.71 879.92,3.47 879.92,18.14 878.31,18.39 876.22,18.72 874.13,19.06 872.03,19.4 869.94,19.76 867.85,20.12 865.76,20.49 863.67,20.87 862.96,21ZM896.88,1.22 897.14,1.19 899.23,0.95 901.33,0.71 903.42,0.49 905.51,0.27 907.6,0.07 909.69,-0.13 911.79,-0.33 913.84,-0.51 913.84,14.05 911.79,14.24 909.69,14.43 907.6,14.64 905.51,14.85 903.42,15.08 901.33,15.31 899.23,15.54 897.14,15.79 896.88,15.82ZM930.8,-1.7 932.71,-1.81 934.8,-1.91 936.89,-2.01 938.99,-2.1 941.08,-2.18 943.17,-2.25 945.26,-2.32 947.35,-2.37 947.76,-2.38 947.76,12.12 947.35,12.13 945.26,12.19 943.17,12.26 941.08,12.33 938.99,12.42 936.89,12.51 934.8,12.61 932.71,12.71 930.8,12.82ZM118.86,766.8 120.95,763.12 123.03,759.46 125.12,755.82 127.2,752.19 128.55,749.84 145.31,749.84 143.94,752.19 141.84,755.82 139.74,759.46 137.63,763.12 135.54,766.8ZM138.45,732.88 139.69,730.79 141.77,727.28 143.86,723.79 145.94,720.31 148.02,716.85 148.57,715.92 165.54,715.92 164.96,716.85 162.86,720.31 160.76,723.79 158.66,727.28 156.55,730.79 155.31,732.88ZM158.93,698.96 160.51,696.42 162.59,693.07 164.67,689.74 166.75,686.42 168.83,683.12 169.53,682 186.72,682 186,683.12 183.89,686.42 181.79,689.74 179.69,693.07 177.58,696.42 176,698.96ZM180.39,665.04 181.31,663.63 183.39,660.43 185.47,657.25 187.55,654.09 189.63,650.94 191.53,648.08 208.96,648.08 207.04,650.94 204.93,654.09 202.83,657.25 200.72,660.43 198.62,663.63 197.7,665.04ZM202.93,631.12 204.19,629.29 206.27,626.25 208.35,623.23 210.43,620.23 212.5,617.24 214.58,614.26 214.64,614.16 232.39,614.16 232.3,614.26 230.2,617.24 228.09,620.23 225.99,623.23 223.88,626.25 221.77,629.29 220.52,631.12ZM226.67,597.2 227.05,596.68 229.13,593.8 231.21,590.93 233.28,588.08 235.36,585.23 237.44,582.41 239.03,580.24 257.1,580.24 255.48,582.41 253.37,585.23 251.26,588.08 249.15,590.93 247.05,593.8 244.94,596.68 244.56,597.2ZM251.75,563.28 251.98,562.98 254.05,560.26 256.13,557.55 258.2,554.85 260.28,552.17 262.36,549.5 264.43,546.84 264.82,546.32 283.31,546.32 282.88,546.84 280.77,549.5 278.66,552.17 276.56,554.85 274.45,557.55 272.34,560.26 270.23,562.98 270,563.28ZM278.32,529.36 278.96,528.57 281.03,526.01 283.1,523.47 285.18,520.93 287.25,518.41 289.33,515.9 291.4,513.4 292.22,512.4 311.17,512.4 310.31,513.4 308.2,515.9 306.09,518.41 303.98,520.93 301.87,523.47 299.76,526.01 297.65,528.57 297.01,529.36ZM306.58,495.44 307.98,493.83 310.06,491.43 312.13,489.05 314.2,486.68 316.27,484.32 318.34,481.97 320.41,479.64 321.43,478.48 340.94,478.48 339.88,479.64 337.76,481.97 335.65,484.32 333.54,486.68 331.43,489.05 329.31,491.43 327.2,493.83 325.8,495.44ZM336.82,461.52 336.98,461.34 339.05,459.11 341.12,456.88 343.19,454.67 345.26,452.46 347.33,450.27 349.4,448.09 369.48,448.09 367.36,450.27 365.25,452.46 363.13,454.67 361.02,456.88 358.9,459.11 356.79,461.34 356.63,461.52ZM359.44,437.63 361.53,435.46 362.84,434.14 362.84,454.98 361.53,456.36 359.44,458.54ZM379.58,417.4 380.36,416.62 382.45,414.58 384.54,412.55 386.64,410.52 388.73,408.51 390.82,406.51 392.91,404.52 395.01,402.53 396.54,401.09 396.54,421.14 395.01,422.62 392.91,424.66 390.82,426.7 388.73,428.75 386.64,430.81 384.54,432.88 382.45,434.96 380.36,437.06 379.58,437.83ZM413.5,385.44 413.84,385.13 415.93,383.25 418.02,381.37 420.11,379.51 422.2,377.65 424.3,375.8 426.39,373.96 428.48,372.14 430.46,370.42 430.46,389.73 428.48,391.49 426.39,393.36 424.3,395.25 422.2,397.14 420.11,399.04 418.02,400.95 415.93,402.87 413.84,404.8 413.5,405.11ZM447.42,356.03 449.4,354.36 451.5,352.64 453.59,350.92 455.68,349.21 457.77,347.51 459.86,345.82 461.96,344.13 464.05,342.46 464.38,342.21 464.38,360.83 464.05,361.11 461.96,362.83 459.86,364.55 457.77,366.28 455.68,368.02 453.59,369.77 451.5,371.53 449.4,373.3 447.42,374.96ZM481.34,328.98 482.88,327.8 484.97,326.21 487.06,324.63 489.16,323.06 491.25,321.5 493.34,319.95 495.43,318.41 497.52,316.88 498.3,316.32 498.3,334.34 497.52,334.93 495.43,336.5 493.34,338.08 491.25,339.67 489.16,341.26 487.06,342.87 484.97,344.48 482.88,346.11 481.34,347.29ZM515.26,304.21 516.35,303.44 518.45,301.99 520.54,300.55 522.63,299.11 524.72,297.69 526.82,296.27 528.91,294.86 531,293.46 532.22,292.65 532.22,310.13 531,310.97 528.91,312.41 526.82,313.85 524.72,315.3 522.63,316.76 520.54,318.23 518.45,319.7 516.35,321.19 515.26,321.96ZM549.18,281.62 549.83,281.2 551.92,279.88 554.02,278.56 556.11,277.26 558.2,275.96 560.29,274.67 562.38,273.39 564.48,272.11 566.14,271.11 566.14,288.11 564.48,289.14 562.38,290.45 560.29,291.76 558.2,293.08 556.11,294.4 554.02,295.74 551.92,297.08 549.83,298.44 549.18,298.85ZM583.1,261.11 583.31,260.99 585.4,259.79 587.49,258.6 589.58,257.42 591.68,256.24 593.77,255.07 595.86,253.91 597.95,252.76 600.04,251.62 600.06,251.62 600.06,268.17 600.04,268.19 597.95,269.36 595.86,270.54 593.77,271.72 591.68,272.92 589.58,274.12 587.49,275.33 585.4,276.54 583.31,277.77 583.1,277.89ZM617.02,242.62 618.87,241.65 620.97,240.58 623.06,239.52 625.15,238.46 627.24,237.41 629.34,236.37 631.43,235.34 633.52,234.31 633.98,234.1 633.98,250.26 633.52,250.5 631.43,251.55 629.34,252.6 627.24,253.67 625.15,254.74 623.06,255.82 620.97,256.9 618.87,258 617.02,258.96ZM650.94,226.06 652.35,225.4 654.44,224.45 656.53,223.5 658.63,222.56 660.72,221.63 662.81,220.7 664.9,219.78 667,218.87 667.9,218.48 667.9,234.31 667,234.71 664.9,235.65 662.81,236.58 660.72,237.53 658.63,238.48 656.53,239.45 654.44,240.41 652.35,241.39 650.94,242.04ZM684.86,211.38 685.83,210.98 687.92,210.14 690.01,209.31 692.1,208.48 694.19,207.66 696.29,206.84 698.38,206.04 700.47,205.24 701.82,204.73 701.82,220.26 700.47,220.78 698.38,221.6 696.29,222.42 694.19,223.26 692.1,224.09 690.01,224.94 687.92,225.79 685.83,226.65 684.86,227.05ZM718.78,198.53 719.3,198.35 721.39,197.61 723.49,196.89 725.58,196.17 727.67,195.46 729.76,194.76 731.85,194.06 733.95,193.37 735.74,192.78 735.74,208.05 733.95,208.65 731.85,209.36 729.76,210.07 727.67,210.79 725.58,211.52 723.49,212.25 721.39,212.99 719.3,213.74 718.78,213.93ZM752.7,187.47 752.78,187.45 754.87,186.83 756.96,186.21 759.05,185.6 761.15,184.99 763.24,184.39 765.33,183.8 767.42,183.22 769.51,182.64 769.66,182.61 769.66,197.65 769.51,197.7 767.42,198.29 765.33,198.88 763.24,199.49 761.15,200.1 759.05,200.71 756.96,201.34 754.87,201.97 752.78,202.61 752.7,202.63ZM786.62,178.17 788.34,177.73 790.44,177.22 792.53,176.71 794.62,176.21 796.71,175.72 798.81,175.23 800.9,174.75 802.99,174.28 803.58,174.15 803.58,189.02 802.99,189.15 800.9,189.64 798.81,190.13 796.71,190.63 794.62,191.13 792.53,191.64 790.44,192.16 788.34,192.68 786.62,193.12ZM820.54,170.56 821.82,170.3 823.91,169.89 826.01,169.49 828.1,169.09 830.19,168.7 832.28,168.31 834.37,167.94 836.47,167.56 837.5,167.38 837.5,182.11 836.47,182.3 834.37,182.68 832.28,183.06 830.19,183.46 828.1,183.85 826.01,184.26 823.91,184.67 821.82,185.09 820.54,185.35ZM854.46,164.62 855.3,164.49 857.39,164.18 859.48,163.88 861.57,163.58 863.67,163.29 865.76,163.01 867.85,162.73 869.94,162.46 871.42,162.27 871.42,176.89 869.94,177.08 867.85,177.36 865.76,177.64 863.67,177.94 861.57,178.23 859.48,178.54 857.39,178.85 855.3,179.16 854.46,179.29ZM888.38,160.32 888.77,160.28 890.86,160.07 892.96,159.86 895.05,159.66 897.14,159.47 899.23,159.28 901.33,159.1 903.42,158.92 905.34,158.77 905.34,173.32 903.42,173.47 901.33,173.65 899.23,173.84 897.14,174.03 895.05,174.23 892.96,174.43 890.86,174.64 888.77,174.86 888.38,174.9ZM922.3,157.61 924.34,157.5 926.43,157.39 928.52,157.28 930.62,157.18 932.71,157.09 934.8,157.01 936.89,156.92 938.99,156.85 939.26,156.84 939.26,171.35 938.99,171.36 936.89,171.44 934.8,171.52 932.71,171.61 930.62,171.7 928.52,171.8 926.43,171.91 924.34,172.02 922.3,172.13ZM956.22,156.46 957.82,156.44 959.91,156.42 962,156.41 962,170.91 959.91,170.92 957.82,170.94 956.22,170.96ZM118.69,766.8 120.78,763.4 122.86,760.02 124.94,756.66 127.02,753.31 129.09,749.99 129.18,749.84 146.34,749.84 146.23,749.99 144.12,753.31 142.02,756.66 139.91,760.02 137.8,763.4 135.71,766.8ZM139.98,732.88 141.56,730.46 143.64,727.27 145.71,724.1 147.79,720.95 149.87,717.82 151.12,715.92 168.59,715.92 167.3,717.82 165.19,720.95 163.09,724.1 160.98,727.27 158.87,730.46 157.29,732.88ZM162.61,698.96 164.4,696.38 166.47,693.39 168.55,690.41 170.63,687.45 172.7,684.51 174.48,682 192.31,682 190.5,684.51 188.39,687.45 186.28,690.41 184.17,693.39 182.06,696.38 180.27,698.96ZM186.74,665.04 187.22,664.39 189.3,661.58 191.37,658.79 193.44,656.01 195.52,653.25 197.59,650.5 199.43,648.08 217.69,648.08 215.82,650.5 213.71,653.25 211.6,656.01 209.49,658.79 207.38,661.58 205.26,664.39 204.78,665.04ZM212.54,631.12 214.17,629.08 216.24,626.47 218.32,623.87 220.39,621.29 222.46,618.72 224.53,616.17 226.16,614.16 244.95,614.16 243.28,616.17 241.16,618.72 239.05,621.29 236.94,623.87 234.83,626.47 232.71,629.08 231.08,631.12ZM240.28,597.2 241.09,596.25 243.16,593.82 245.23,591.4 247.3,589 249.37,586.61 251.44,584.24 253.51,581.88 254.94,580.24 274.36,580.24 272.88,581.88 270.76,584.24 268.65,586.61 266.53,589 264.42,591.4 262.3,593.82 260.19,596.25 259.37,597.2ZM270.17,563.28 272.12,561.19 274.19,558.95 276.26,556.73 278.32,554.51 280.39,552.31 282.46,550.12 284.52,547.95 304.63,547.95 302.52,550.12 300.4,552.31 298.28,554.51 296.16,556.73 294.04,558.95 291.93,561.19 289.98,563.28ZM294.58,537.51 296.15,535.89 296.15,556.75 294.58,558.38ZM312.9,519.17 313.41,518.67 315.5,516.63 317.59,514.61 319.69,512.6 321.78,510.59 323.87,508.6 325.96,506.62 328.05,504.65 329.86,502.96 329.86,522.95 328.05,524.69 325.96,526.72 323.87,528.75 321.78,530.79 319.69,532.85 317.59,534.92 315.5,536.99 313.41,539.08 312.9,539.59ZM346.82,487.43 346.88,487.37 348.98,485.5 351.07,483.64 353.16,481.79 355.25,479.95 357.35,478.11 359.44,476.29 361.53,474.48 363.62,472.68 363.78,472.57 363.78,491.76 363.62,491.92 361.53,493.76 359.44,495.62 357.35,497.49 355.25,499.36 353.16,501.25 351.07,503.15 348.98,505.05 346.88,506.97 346.82,507.03ZM380.74,458.3 382.45,456.88 384.54,455.17 386.64,453.47 388.73,451.78 390.82,450.09 392.91,448.42 395.01,446.75 397.1,445.1 397.7,444.64 397.7,463.18 397.1,463.68 395.01,465.37 392.91,467.08 390.82,468.79 388.73,470.51 386.64,472.24 384.54,473.99 382.45,475.74 380.74,477.16ZM414.66,431.54 415.93,430.57 418.02,429 420.11,427.44 422.2,425.88 424.3,424.34 426.39,422.8 428.48,421.27 430.57,419.74 431.62,419 431.62,436.96 430.57,437.75 428.48,439.3 426.39,440.87 424.3,442.44 422.2,444.02 420.11,445.61 418.02,447.21 415.93,448.82 414.66,449.79ZM448.58,406.98 449.4,406.4 451.5,404.95 453.59,403.52 455.68,402.09 457.77,400.67 459.86,399.26 461.96,397.85 464.05,396.45 465.54,395.47 465.54,412.93 464.05,413.95 461.96,415.38 459.86,416.81 457.77,418.26 455.68,419.71 453.59,421.17 451.5,422.63 449.4,424.11 448.58,424.69ZM482.5,384.45 482.88,384.21 484.97,382.88 487.06,381.56 489.16,380.25 491.25,378.95 493.34,377.66 495.43,376.37 497.52,375.09 499.46,373.91 499.46,390.93 497.52,392.14 495.43,393.45 493.34,394.76 491.25,396.08 489.16,397.41 487.06,398.75 484.97,400.09 482.88,401.44 482.5,401.69ZM516.42,363.85 518.45,362.66 520.54,361.46 522.63,360.26 524.72,359.07 526.82,357.89 528.91,356.71 531,355.54 533.09,354.37 533.38,354.23 533.38,370.83 533.09,371.01 531,372.19 528.91,373.39 526.82,374.59 524.72,375.79 522.63,377.01 520.54,378.23 518.45,379.46 516.42,380.65ZM550.34,345.05 551.92,344.2 554.02,343.1 556.11,342.01 558.2,340.93 560.29,339.85 562.38,338.78 564.48,337.72 566.57,336.66 567.3,336.3 567.3,352.56 566.57,352.94 564.48,354.02 562.38,355.1 560.29,356.2 558.2,357.3 556.11,358.4 554.02,359.51 551.92,360.63 550.34,361.48ZM584.26,327.97 585.4,327.42 587.49,326.43 589.58,325.44 591.68,324.46 593.77,323.48 595.86,322.51 597.95,321.55 600.04,320.59 601.22,320.07 601.22,336.02 600.04,336.57 597.95,337.54 595.86,338.52 593.77,339.51 591.68,340.5 589.58,341.5 587.49,342.51 585.4,343.52 584.26,344.08ZM618.18,312.57 618.87,312.27 620.97,311.37 623.06,310.48 625.15,309.6 627.24,308.72 629.34,307.85 631.43,306.99 633.52,306.13 635.14,305.47 635.14,321.15 633.52,321.82 631.43,322.7 629.34,323.58 627.24,324.47 625.15,325.36 623.06,326.26 620.97,327.16 618.87,328.08 618.18,328.38ZM652.1,298.78 652.35,298.68 654.44,297.89 656.53,297.09 658.63,296.31 660.72,295.53 662.81,294.76 664.9,293.99 667,293.23 669.06,292.48 669.06,307.92 667,308.68 664.9,309.45 662.81,310.23 660.72,311.02 658.63,311.82 656.53,312.62 654.44,313.42 652.35,314.23 652.1,314.33ZM686.02,286.58 687.92,285.94 690.01,285.24 692.1,284.55 694.19,283.87 696.29,283.19 698.38,282.52 700.47,281.85 702.56,281.19 702.98,281.06 702.98,296.27 702.56,296.41 700.47,297.08 698.38,297.76 696.29,298.45 694.19,299.14 692.1,299.84 690.01,300.54 687.92,301.25 686.02,301.89ZM719.94,275.93 721.39,275.5 723.49,274.9 725.58,274.3 727.67,273.71 729.76,273.12 731.85,272.54 733.95,271.97 736.04,271.4 736.9,271.17 736.9,286.2 736.04,286.44 733.95,287.02 731.85,287.6 729.76,288.19 727.67,288.79 725.58,289.39 723.49,290 721.39,290.61 719.94,291.04ZM753.86,266.8 754.87,266.55 756.96,266.04 759.05,265.53 761.15,265.03 763.24,264.54 765.33,264.05 767.42,263.57 769.51,263.09 770.82,262.8 770.82,277.67 769.51,277.97 767.42,278.45 765.33,278.95 763.24,279.44 761.15,279.95 759.05,280.46 756.96,280.97 754.87,281.49 753.86,281.74ZM787.78,259.17 788.34,259.05 790.44,258.63 792.53,258.22 794.62,257.81 796.71,257.4 798.81,257.01 800.9,256.61 802.99,256.23 804.74,255.91 804.74,270.65 802.99,270.98 800.9,271.37 798.81,271.77 796.71,272.18 794.62,272.59 792.53,273 790.44,273.43 788.34,273.86 787.78,273.97ZM821.7,253.01 821.82,252.99 823.91,252.66 826.01,252.33 828.1,252.01 830.19,251.69 832.28,251.38 834.37,251.08 836.47,250.78 838.56,250.48 838.66,250.47 838.66,265.11 838.56,265.13 836.47,265.43 834.37,265.73 832.28,266.04 830.19,266.36 828.1,266.68 826.01,267.01 823.91,267.34 821.82,267.68 821.7,267.7ZM855.62,248.29 857.39,248.08 859.48,247.84 861.57,247.6 863.67,247.37 865.76,247.15 867.85,246.93 869.94,246.71 872.03,246.5 872.58,246.45 872.58,261.02 872.03,261.08 869.94,261.29 867.85,261.51 865.76,261.73 863.67,261.96 861.57,262.19 859.48,262.43 857.39,262.68 855.62,262.89ZM889.54,244.95 890.86,244.85 892.96,244.69 895.05,244.54 897.14,244.39 899.23,244.25 901.33,244.11 903.42,243.98 905.51,243.85 906.5,243.79 906.5,258.32 905.51,258.38 903.42,258.51 901.33,258.64 899.23,258.78 897.14,258.93 895.05,259.08 892.96,259.23 890.86,259.39 889.54,259.5ZM923.46,242.95 924.34,242.92 926.43,242.84 928.52,242.76 930.62,242.69 932.71,242.63 934.8,242.57 936.89,242.51 938.99,242.46 940.42,242.43 940.42,256.93 938.99,256.96 936.89,257.02 934.8,257.07 932.71,257.13 930.62,257.2 928.52,257.27 926.43,257.35 924.34,257.43 923.46,257.46ZM957.38,242.21 957.82,242.2 959.91,242.2 962,242.2 962,256.7 959.91,256.7 957.82,256.7 957.38,256.71ZM118.18,766.8 120.28,763.97 122.37,761.14 124.46,758.31 126.55,755.48 128.64,752.66 130.73,749.84 148.77,749.84 146.68,752.66 144.59,755.48 142.49,758.31 140.4,761.14 138.31,763.97 136.22,766.8ZM143.32,732.88 145.35,730.17 147.43,727.37 149.52,724.59 151.61,721.8 153.69,719.02 155.78,716.25 156.02,715.92 174.2,715.92 173.94,716.25 171.84,719.02 169.75,721.8 167.65,724.59 165.55,727.37 163.45,730.17 161.42,732.88ZM168.88,698.96 170.36,697.03 172.45,694.31 174.53,691.61 176.61,688.9 178.69,686.21 180.78,683.53 181.96,682 200.36,682 199.16,683.53 197.06,686.21 194.95,688.9 192.85,691.61 190.75,694.31 188.65,697.03 187.17,698.96ZM195.29,665.04 195.34,664.98 197.41,662.37 199.49,659.77 201.57,657.18 203.65,654.6 205.73,652.03 207.8,649.47 208.93,648.08 227.68,648.08 226.53,649.47 224.42,652.03 222.31,654.6 220.21,657.18 218.1,659.77 215.99,662.37 213.89,664.98 213.84,665.04ZM222.93,631.12 224.41,629.37 226.48,626.9 228.56,624.45 230.63,622.01 232.7,619.59 234.78,617.17 236.85,614.76 237.36,614.16 256.61,614.16 256.07,614.76 253.95,617.17 251.84,619.59 249.73,622.01 247.62,624.45 245.51,626.9 243.4,629.37 241.92,631.12ZM252.28,597.2 253.41,595.95 255.48,593.65 257.55,591.37 259.62,589.09 261.69,586.83 263.75,584.58 265.82,582.35 267.78,580.24 287.68,580.24 285.68,582.35 283.56,584.58 281.44,586.83 279.32,589.09 277.21,591.37 275.09,593.65 272.98,595.95 271.84,597.2ZM294.07,552.94 294.58,552.43 296.67,550.34 298.76,548.27 300.86,546.21 302.95,544.17 305.04,542.13 307.13,540.11 309.22,538.1 310.99,536.41 310.99,556.61 309.22,558.35 307.13,560.42 305.04,562.5 302.95,564.6 300.86,566.71 298.76,568.83 296.67,570.96 294.58,573.1 294.07,573.62ZM327.95,520.63 328.05,520.53 330.15,518.64 332.24,516.76 334.33,514.89 336.42,513.03 338.52,511.19 340.61,509.35 342.7,507.53 344.79,505.72 344.91,505.64 344.91,524.89 344.79,525.02 342.7,526.89 340.61,528.76 338.52,530.65 336.42,532.55 334.33,534.46 332.24,536.39 330.15,538.32 328.05,540.27 327.95,540.36ZM361.87,491.37 363.62,489.92 365.71,488.22 367.81,486.53 369.9,484.85 371.99,483.19 374.08,481.53 376.18,479.88 378.27,478.24 378.83,477.82 378.83,496.28 378.27,496.75 376.18,498.44 374.08,500.13 371.99,501.83 369.9,503.55 367.81,505.28 365.71,507.01 363.62,508.76 361.87,510.21ZM395.79,464.96 397.1,463.98 399.19,462.44 401.28,460.92 403.37,459.4 405.47,457.9 407.56,456.4 409.65,454.91 411.74,453.43 412.75,452.74 412.75,470.53 411.74,471.26 409.65,472.78 407.56,474.31 405.47,475.84 403.37,477.39 401.28,478.95 399.19,480.51 397.1,482.09 395.79,483.07ZM429.71,441.13 430.57,440.55 432.67,439.16 434.76,437.78 436.85,436.41 438.94,435.05 441.03,433.69 443.13,432.35 445.22,431.01 446.67,430.1 446.67,447.33 445.22,448.28 443.13,449.65 441.03,451.03 438.94,452.41 436.85,453.81 434.76,455.21 432.67,456.62 430.57,458.05 429.71,458.63ZM463.63,419.6 464.05,419.35 466.14,418.09 468.23,416.84 470.33,415.6 472.42,414.36 474.51,413.14 476.6,411.92 478.69,410.71 480.59,409.61 480.59,426.39 478.69,427.51 476.6,428.75 474.51,429.99 472.42,431.25 470.33,432.51 468.23,433.78 466.14,435.06 464.05,436.34 463.63,436.6ZM497.55,400.11 499.62,398.97 501.71,397.83 503.8,396.7 505.89,395.58 507.99,394.46 510.08,393.35 512.17,392.25 514.26,391.15 514.51,391.03 514.51,407.42 514.26,407.56 512.17,408.68 510.08,409.8 507.99,410.94 505.89,412.07 503.8,413.22 501.71,414.37 499.62,415.53 497.55,416.67ZM531.47,382.37 533.09,381.56 535.18,380.52 537.28,379.49 539.37,378.47 541.46,377.45 543.55,376.43 545.65,375.43 547.74,374.43 548.43,374.1 548.43,390.19 547.74,390.53 545.65,391.55 543.55,392.57 541.46,393.6 539.37,394.64 537.28,395.68 535.18,396.73 533.09,397.78 531.47,398.6ZM565.39,366.2 566.57,365.66 568.66,364.72 570.75,363.77 572.85,362.84 574.94,361.91 577.03,360.98 579.12,360.06 581.21,359.15 582.35,358.66 582.35,374.49 581.21,374.99 579.12,375.92 577.03,376.86 574.94,377.8 572.85,378.75 570.75,379.7 568.66,380.65 566.57,381.62 565.39,382.15ZM599.31,351.46 600.04,351.15 602.14,350.29 604.23,349.43 606.32,348.58 608.41,347.73 610.51,346.89 612.6,346.05 614.69,345.22 616.27,344.59 616.27,360.2 614.69,360.84 612.6,361.68 610.51,362.54 608.41,363.39 606.32,364.25 604.23,365.12 602.14,365.99 600.04,366.87 599.31,367.17ZM633.23,338.06 633.52,337.95 635.61,337.16 637.7,336.39 639.8,335.61 641.89,334.85 643.98,334.08 646.07,333.33 648.17,332.57 650.19,331.85 650.19,347.26 648.17,348 646.07,348.76 643.98,349.53 641.89,350.31 639.8,351.08 637.7,351.87 635.61,352.66 633.52,353.45 633.23,353.56ZM667.15,325.98 669.09,325.33 671.18,324.63 673.27,323.94 675.36,323.25 677.46,322.57 679.55,321.89 681.64,321.22 683.73,320.56 684.11,320.44 684.11,335.66 683.73,335.78 681.64,336.46 679.55,337.14 677.46,337.83 675.36,338.52 673.27,339.22 671.18,339.92 669.09,340.63 667.15,341.29ZM701.07,315.25 702.56,314.8 704.66,314.19 706.75,313.58 708.84,312.98 710.93,312.38 713.02,311.79 715.12,311.21 717.21,310.63 718.03,310.4 718.03,325.45 717.21,325.68 715.12,326.27 713.02,326.87 710.93,327.47 708.84,328.08 706.75,328.69 704.66,329.31 702.56,329.93 701.07,330.38ZM734.99,305.92 736.04,305.65 738.13,305.13 740.22,304.61 742.32,304.1 744.41,303.59 746.5,303.09 748.59,302.59 750.68,302.1 751.95,301.81 751.95,316.7 750.68,317 748.59,317.5 746.5,318.01 744.41,318.52 742.32,319.04 740.22,319.56 738.13,320.09 736.04,320.62 734.99,320.89ZM768.91,298.08 769.51,297.95 771.61,297.52 773.7,297.09 775.79,296.67 777.88,296.26 779.98,295.85 782.07,295.44 784.16,295.05 785.87,294.73 785.87,309.48 784.16,309.81 782.07,310.22 779.98,310.63 777.88,311.04 775.79,311.47 773.7,311.89 771.61,312.33 769.51,312.77 768.91,312.9ZM802.83,291.76 802.99,291.74 805.08,291.4 807.17,291.07 809.27,290.74 811.36,290.42 813.45,290.1 815.54,289.8 817.64,289.49 819.73,289.19 819.79,289.19 819.79,303.83 819.73,303.84 817.64,304.15 815.54,304.46 813.45,304.77 811.36,305.09 809.27,305.42 807.17,305.75 805.08,306.09 802.99,306.44 802.83,306.46ZM836.75,286.99 838.56,286.77 840.65,286.53 842.74,286.29 844.84,286.06 846.93,285.84 849.02,285.62 851.11,285.4 853.2,285.19 853.71,285.14 853.71,299.71 853.2,299.77 851.11,299.98 849.02,300.2 846.93,300.42 844.84,300.65 842.74,300.89 840.65,301.13 838.56,301.37 836.75,301.59ZM870.67,283.64 872.03,283.53 874.13,283.37 876.22,283.21 878.31,283.06 880.4,282.91 882.5,282.77 884.59,282.63 886.68,282.5 887.63,282.44 887.63,296.97 886.68,297.03 884.59,297.16 882.5,297.31 880.4,297.45 878.31,297.6 876.22,297.75 874.13,297.91 872.03,298.08 870.67,298.19ZM904.59,281.49 905.51,281.44 907.6,281.34 909.69,281.24 911.79,281.15 913.88,281.06 915.97,280.96 918.06,280.88 920.16,280.79 921.55,280.73 921.55,295.24 920.16,295.3 918.06,295.39 915.97,295.48 913.88,295.57 911.79,295.66 909.69,295.76 907.6,295.86 905.51,295.96 904.59,296.01ZM938.51,280.09 938.99,280.07 941.08,280 943.17,279.92 945.26,279.85 947.35,279.77 949.45,279.69 951.54,279.61 953.63,279.53 955.47,279.46 955.47,293.97 953.63,294.04 951.54,294.12 949.45,294.2 947.35,294.28 945.26,294.35 943.17,294.43 941.08,294.51 938.99,294.58 938.51,294.6Z"/></g><g fill="#000"><rect x="126.9" y="764.9" width="19" height="3.8"/><rect x="126.9" y="741.71" width="11.5" height="1.2" fill="#333"/><rect x="126.9" y="717.22" width="11.5" height="1.2" fill="#333"/><rect x="126.9" y="692.73" width="11.5" height="1.2" fill="#333"/><rect x="126.9" y="668.24" width="11.5" height="1.2" fill="#333"/><rect x="126.9" y="642.45" width="19" height="3.8"/><rect x="126.9" y="619.26" width="11.5" height="1.2" fill="#333"/><rect x="126.9" y="594.77" width="11.5" height="1.2" fill="#333"/><rect x="126.9" y="570.28" width="11.5" height="1.2" fill="#333"/><rect x="126.9" y="545.79" width="11.5" height="1.2" fill="#333"/><rect x="126.9" y="520" width="19" height="3.8"/><rect x="126.9" y="496.81" width="11.5" height="1.2" fill="#333"/><rect x="126.9" y="472.32" width="11.5" height="1.2" fill="#333"/><rect x="126.9" y="447.83" width="11.5" height="1.2" fill="#333"/><rect x="126.9" y="423.34" width="11.5" height="1.2" fill="#333"/><rect x="126.9" y="397.55" width="19" height="3.8"/><rect x="126.9" y="374.36" width="11.5" height="1.2" fill="#333"/><rect x="126.9" y="349.87" width="11.5" height="1.2" fill="#333"/><rect x="126.9" y="325.38" width="11.5" height="1.2" fill="#333"/><rect x="126.9" y="300.89" width="11.5" height="1.2" fill="#333"/><rect x="126.9" y="275.1" width="19" height="3.8"/><rect x="126.9" y="251.91" width="11.5" height="1.2" fill="#333"/><rect x="126.9" y="227.42" width="11.5" height="1.2" fill="#333"/><rect x="126.9" y="202.93" width="11.5" height="1.2" fill="#333"/><rect x="126.9" y="178.44" width="11.5" height="1.2" fill="#333"/><rect x="126.9" y="152.65" width="19" height="3.8"/><rect x="126.9" y="129.46" width="11.5" height="1.2" fill="#333"/><rect x="126.9" y="104.97" width="11.5" height="1.2" fill="#333"/><rect x="126.9" y="80.48" width="11.5" height="1.2" fill="#333"/><rect x="126.9" y="55.99" width="11.5" height="1.2" fill="#333"/><rect x="126.9" y="30.2" width="19" height="3.8"/><rect x="126.9" y="7.01" width="11.5" height="1.2" fill="#333"/><rect x="124.9" y="748" width="3.6" height="18"/><rect x="167.84" y="755.5" width="1.2" height="10.5" fill="#333"/><rect x="209.58" y="755.5" width="1.2" height="10.5" fill="#333"/><rect x="251.32" y="755.5" width="1.2" height="10.5" fill="#333"/><rect x="291.86" y="748" width="3.6" height="18"/><rect x="334.8" y="755.5" width="1.2" height="10.5" fill="#333"/><rect x="376.54" y="755.5" width="1.2" height="10.5" fill="#333"/><rect x="418.28" y="755.5" width="1.2" height="10.5" fill="#333"/><rect x="458.82" y="748" width="3.6" height="18"/><rect x="501.76" y="755.5" width="1.2" height="10.5" fill="#333"/><rect x="543.5" y="755.5" width="1.2" height="10.5" fill="#333"/><rect x="585.24" y="755.5" width="1.2" height="10.5" fill="#333"/><rect x="625.78" y="748" width="3.6" height="18"/><rect x="668.72" y="755.5" width="1.2" height="10.5" fill="#333"/><rect x="710.46" y="755.5" width="1.2" height="10.5" fill="#333"/><rect x="752.2" y="755.5" width="1.2" height="10.5" fill="#333"/><rect x="792.74" y="748" width="3.6" height="18"/><rect x="835.68" y="755.5" width="1.2" height="10.5" fill="#333"/><rect x="877.42" y="755.5" width="1.2" height="10.5" fill="#333"/><rect x="919.16" y="755.5" width="1.2" height="10.5" fill="#333"/><rect x="959.7" y="748" width="3.6" height="18"/></g><rect x="126.9" y="4.8" width="835" height="761.2" fill="none" stroke="#000" stroke-width="3.8"/><g font-family="Liberation Serif" font-size="30" fill="#000" style="filter:grayscale(1)"><text transform="translate(115.5,777.7) scale(1.0,1.06)" text-anchor="end">0</text><text transform="translate(115.5,655.25) scale(1.0,1.06)" text-anchor="end">0.05</text><text transform="translate(115.5,532.8) scale(1.0,1.06)" text-anchor="end">0.1</text><text transform="translate(115.5,410.35) scale(1.0,1.06)" text-anchor="end">0.15</text><text transform="translate(115.5,287.9) scale(1.0,1.06)" text-anchor="end">0.2</text><text transform="translate(115.5,165.45) scale(1.0,1.06)" text-anchor="end">0.25</text><text transform="translate(115.5,43) scale(1.0,1.06)" text-anchor="end">0.3</text><text transform="translate(126.7,797.7) scale(1.0,1.06)" text-anchor="middle">0</text><text transform="translate(293.66,797.7) scale(1.0,1.06)" text-anchor="middle">0.2</text><text transform="translate(460.62,797.7) scale(1.0,1.06)" text-anchor="middle">0.4</text><text transform="translate(627.58,797.7) scale(1.0,1.06)" text-anchor="middle">0.6</text><text transform="translate(794.54,797.7) scale(1.0,1.06)" text-anchor="middle">0.8</text><text transform="translate(961.5,797.7) scale(1.0,1.06)" text-anchor="middle">1</text></g><g transform="translate(534.4,805.6)"><g fill="none" stroke="#000" stroke-linecap="round"><path stroke-width="2.0" d="M6,0.4 C3.4,0.2 1.6,2.1 2.4,4.1 C3.1,5.7 5.3,6.3 7.3,5.5 L11.8,3.1"/><path stroke-width="2.0" d="M7.2,5.9 C4.4,7.6 3.5,10.6 4.3,12.4 C5.1,14.3 7.1,15 9.6,14.8 L14.6,14.3"/><path stroke-width="2.6" d="M8.8,15.2 C4.4,17 1.4,21.5 1.2,26 C1,30.4 3.2,32.5 7,32.9 C10,33.2 13.5,32.8 16.6,33.5 C19.5,34.3 20.8,36.6 20.4,39.5 C20,42.4 17.6,44.2 14.8,44.1"/><path stroke-width="3.8" d="M4.5,32.4 C9,33.3 14,32.6 17.5,33.9"/></g><g fill="#000"><ellipse cx="13.4" cy="2.8" rx="2.9" ry="2.0" transform="rotate(-12 13.4 2.8)"/><ellipse cx="15" cy="14.2" rx="2.7" ry="1.9"/><ellipse cx="13.6" cy="43.4" rx="2.5" ry="2.1"/></g></g><g font-family="Liberation Serif" font-size="50" fill="#000" style="filter:grayscale(1)"><text transform="translate(38.5,441.2) rotate(-90)"><tspan x="45">(</tspan><tspan x="85.8">)</tspan></text></g><g fill="none" stroke="#000" stroke-linecap="round"><path stroke-width="2.2" d="M5.9,411.2 C3,411.5 2.8,415.5 5.9,418.4 C8.5,420.6 12.5,422.8 17.2,424.3 C22,425.8 31,428 36.5,429.7 C41,431.2 46,433.5 47.5,436.5 C48.3,438.3 47.5,440.2 46,440.2"/><path stroke-width="4.2" d="M9,420.8 C12.5,422.8 14,423.4 17.2,424.3 C22,425.8 31,428 36.5,429.7 C39.5,430.7 41.5,431.6 43.5,432.9"/></g><g fill="#000"><circle cx="5.9" cy="411.2" r="2.1"/><circle cx="45.9" cy="439.6" r="1.9"/><rect x="15.8" y="418.2" width="2.2" height="11.5"/></g><path d="M4.6,394.4 C6.5,393.6 8,394 9.5,394.9 L17.9,399.7 L17.6,400.4 L5.2,398.9 C3.6,398.4 3.4,395.2 4.6,394.4Z" fill="#000"/><g transform="translate(3.3,377.2) rotate(-90) scale(0.82,0.96)"><g fill="none" stroke="#000" stroke-linecap="round"><path stroke-width="2.0" d="M6,0.4 C3.4,0.2 1.6,2.1 2.4,4.1 C3.1,5.7 5.3,6.3 7.3,5.5 L11.8,3.1"/><path stroke-width="2.0" d="M7.2,5.9 C4.4,7.6 3.5,10.6 4.3,12.4 C5.1,14.3 7.1,15 9.6,14.8 L14.6,14.3"/><path stroke-width="2.6" d="M8.8,15.2 C4.4,17 1.4,21.5 1.2,26 C1,30.4 3.2,32.5 7,32.9 C10,33.2 13.5,32.8 16.6,33.5 C19.5,34.3 20.8,36.6 20.4,39.5 C20,42.4 17.6,44.2 14.8,44.1"/><path stroke-width="3.8" d="M4.5,32.4 C9,33.3 14,32.6 17.5,33.9"/></g><g fill="#000"><ellipse cx="13.4" cy="2.8" rx="2.9" ry="2.0" transform="rotate(-12 13.4 2.8)"/><ellipse cx="15" cy="14.2" rx="2.7" ry="1.9"/><ellipse cx="13.6" cy="43.4" rx="2.5" ry="2.1"/></g></g><rect x="187" y="59" width="134" height="7" fill="#cc0000"/><rect x="187" y="89.8" width="26" height="14.4" fill="#00cc00"/><rect x="238" y="89.8" width="26" height="14.4" fill="#00cc00"/><rect x="289" y="89.8" width="26" height="14.4" fill="#00cc00"/><rect x="187.3" y="125.7" width="17" height="14.5" fill="#3333ff"/><rect x="221.2" y="125.7" width="17" height="14.5" fill="#3333ff"/><rect x="255.2" y="125.7" width="17" height="14.5" fill="#3333ff"/><rect x="289.3" y="125.7" width="17" height="14.5" fill="#3333ff"/><g font-family="Liberation Serif" font-size="30" fill="#000" style="filter:grayscale(1)"><text transform="translate(343.5,71.2) scale(1.0,1.02)">Ref [37]</text><text transform="translate(343.5,106.7) scale(1.0,1.02)">Modified AGM</text><text transform="translate(343.5,142.3) scale(1.0,1.02)">HAN Method</text><text transform="translate(153.6,186) scale(1.0,1.07)" word-spacing="3.2">Case1, Case2, Case3, Case4</text></g><path d="M351.13,206.4 L355.27,206.4 L469.24,473.76 L465.1,473.76Z" fill="#000"/><path d="M485.6,517 L454.95,475.71 L477.03,466.3Z" fill="#000"/><path d="M373.5,560.9 L373.5,564.7 L522,564.7 L522,560.9Z" fill="#000"/><path d="M569,562.8 L519,575.05 L519,550.55Z" fill="#000"/><circle cx="285" cy="555" r="87.8" fill="none" stroke="#000" stroke-width="3.6"/><rect x="581.3" y="419.7" width="329.3" height="303.3" fill="#fff"/><g clip-path="url(#ci)"><path fill="#cc0000" d="M550.22,740 550.9,738.69 551.59,737.37 552.28,736.06 552.96,734.75 553.65,733.44 554.34,732.12 555.02,730.81 555.71,729.5 556.4,728.19 557.09,726.87 557.78,725.56 558.47,724.25 559.17,722.93 559.86,721.62 560.55,720.31 561.24,719 561.94,717.68 562.63,716.37 563.33,715.06 564.02,713.75 564.72,712.43 565.42,711.12 566.11,709.81 566.81,708.49 567.51,707.18 568.21,705.87 568.91,704.56 569.61,703.24 570.31,701.93 571.01,700.62 571.71,699.31 572.41,697.99 573.11,696.68 573.82,695.37 574.52,694.05 575.23,692.74 575.93,691.43 576.64,690.12 577.34,688.8 578.05,687.49 578.76,686.18 579.47,684.86 580.17,683.55 580.88,682.24 581.59,680.93 582.3,679.61 583.01,678.3 583.72,676.99 584.44,675.68 585.15,674.36 585.86,673.05 586.57,671.74 587.29,670.42 588,669.11 588.72,667.8 589.43,666.49 590.15,665.17 590.87,663.86 591.58,662.55 592.3,661.24 593.02,659.92 593.74,658.61 594.46,657.3 595.18,655.98 595.9,654.67 596.62,653.36 597.34,652.05 598.07,650.73 598.79,649.42 599.51,648.11 600.24,646.8 600.96,645.48 601.69,644.17 602.41,642.86 603.14,641.54 603.87,640.23 604.59,638.92 605.32,637.61 606.05,636.29 606.78,634.98 607.51,633.67 608.24,632.36 608.97,631.04 609.7,629.73 610.43,628.42 611.17,627.1 611.9,625.79 612.63,624.48 613.37,623.17 614.1,621.85 614.84,620.54 615.57,619.23 616.31,617.92 617.05,616.6 617.78,615.29 618.52,613.98 619.26,612.66 620,611.35 620.74,610.04 621.48,608.73 622.22,607.41 622.96,606.1 623.7,604.79 624.45,603.47 625.19,602.16 625.93,600.85 626.68,599.54 627.42,598.22 628.17,596.91 628.91,595.6 629.66,594.29 630.41,592.97 631.16,591.66 631.9,590.35 632.65,589.03 633.4,587.72 634.15,586.41 634.9,585.1 635.65,583.78 636.41,582.47 637.16,581.16 637.91,579.85 638.66,578.53 639.42,577.22 640.17,575.91 640.93,574.59 641.68,573.28 642.44,571.97 643.2,570.66 643.95,569.34 644.71,568.03 645.47,566.72 646.23,565.41 646.99,564.09 647.75,562.78 648.51,561.47 649.27,560.15 650.03,558.84 650.79,557.53 651.56,556.22 652.32,554.9 653.08,553.59 653.85,552.28 654.61,550.97 655.38,549.65 656.14,548.34 656.91,547.03 657.68,545.71 658.45,544.4 659.21,543.09 659.98,541.78 660.75,540.46 661.52,539.15 662.29,537.84 663.07,536.53 663.84,535.21 664.61,533.9 665.38,532.59 666.16,531.27 666.93,529.96 667.71,528.65 668.48,527.34 669.26,526.02 670.03,524.71 670.81,523.4 671.59,522.08 672.36,520.77 673.14,519.46 673.92,518.15 674.7,516.83 675.48,515.52 676.26,514.21 677.04,512.9 677.83,511.58 678.61,510.27 679.39,508.96 680.18,507.64 680.96,506.33 681.74,505.02 682.53,503.71 683.32,502.39 684.1,501.08 684.89,499.77 685.68,498.46 686.46,497.14 687.25,495.83 688.04,494.52 688.83,493.2 689.62,491.89 690.41,490.58 691.21,489.27 692,487.95 692.79,486.64 693.58,485.33 694.38,484.02 695.17,482.7 695.97,481.39 696.76,480.08 697.56,478.76 698.35,477.45 699.15,476.14 699.95,474.83 700.75,473.51 701.55,472.2 702.34,470.89 703.14,469.58 703.95,468.26 704.75,466.95 705.55,465.64 706.35,464.32 707.15,463.01 707.96,461.7 708.76,460.39 709.56,459.07 710.37,457.76 711.17,456.45 711.98,455.14 712.79,453.82 713.59,452.51 714.4,451.2 715.21,449.88 716.02,448.57 716.83,447.26 717.64,445.95 718.45,444.63 719.26,443.32 720.07,442.01 720.88,440.69 721.7,439.38 722.51,438.07 723.32,436.76 724.14,435.44 724.95,434.13 725.77,432.82 726.59,431.51 727.4,430.19 728.22,428.88 729.04,427.57 729.86,426.25 730.68,424.94 731.49,423.63 732.31,422.32 733.14,421 733.96,419.69 734.78,418.38 735.6,417.07 736.42,415.75 737.25,414.44 738.07,413.13 738.9,411.81 739.72,410.5 740.55,409.19 741.37,407.88 742.2,406.56 743.03,405.25 743.86,403.94 744.68,402.63 745.51,401.31 746.34,400 754.63,400 753.79,401.31 752.96,402.63 752.13,403.94 751.3,405.25 750.47,406.56 749.65,407.88 748.82,409.19 747.99,410.5 747.16,411.81 746.34,413.13 745.51,414.44 744.69,415.75 743.86,417.07 743.04,418.38 742.22,419.69 741.39,421 740.57,422.32 739.75,423.63 738.93,424.94 738.11,426.25 737.29,427.57 736.47,428.88 735.65,430.19 734.83,431.51 734.01,432.82 733.2,434.13 732.38,435.44 731.56,436.76 730.75,438.07 729.93,439.38 729.12,440.69 728.3,442.01 727.49,443.32 726.68,444.63 725.87,445.95 725.05,447.26 724.24,448.57 723.43,449.88 722.62,451.2 721.81,452.51 721.01,453.82 720.2,455.14 719.39,456.45 718.58,457.76 717.78,459.07 716.97,460.39 716.16,461.7 715.36,463.01 714.56,464.32 713.75,465.64 712.95,466.95 712.15,468.26 711.34,469.58 710.54,470.89 709.74,472.2 708.94,473.51 708.14,474.83 707.34,476.14 706.54,477.45 705.75,478.76 704.95,480.08 704.15,481.39 703.35,482.7 702.56,484.02 701.76,485.33 700.97,486.64 700.17,487.95 699.38,489.27 698.59,490.58 697.8,491.89 697,493.2 696.21,494.52 695.42,495.83 694.63,497.14 693.84,498.46 693.05,499.77 692.26,501.08 691.48,502.39 690.69,503.71 689.9,505.02 689.12,506.33 688.33,507.64 687.54,508.96 686.76,510.27 685.98,511.58 685.19,512.9 684.41,514.21 683.63,515.52 682.85,516.83 682.06,518.15 681.28,519.46 680.5,520.77 679.72,522.08 678.95,523.4 678.17,524.71 677.39,526.02 676.61,527.34 675.83,528.65 675.06,529.96 674.28,531.27 673.51,532.59 672.73,533.9 671.96,535.21 671.19,536.53 670.41,537.84 669.64,539.15 668.87,540.46 668.1,541.78 667.33,543.09 666.56,544.4 665.79,545.71 665.02,547.03 664.25,548.34 663.48,549.65 662.72,550.97 661.95,552.28 661.18,553.59 660.42,554.9 659.65,556.22 658.89,557.53 658.13,558.84 657.36,560.15 656.6,561.47 655.84,562.78 655.08,564.09 654.32,565.41 653.55,566.72 652.79,568.03 652.04,569.34 651.28,570.66 650.52,571.97 649.76,573.28 649,574.59 648.25,575.91 647.49,577.22 646.74,578.53 645.98,579.85 645.23,581.16 644.47,582.47 643.72,583.78 642.97,585.1 642.22,586.41 641.46,587.72 640.71,589.03 639.96,590.35 639.21,591.66 638.46,592.97 637.72,594.29 636.97,595.6 636.22,596.91 635.47,598.22 634.73,599.54 633.98,600.85 633.24,602.16 632.49,603.47 631.75,604.79 631,606.1 630.26,607.41 629.52,608.73 628.78,610.04 628.04,611.35 627.29,612.66 626.55,613.98 625.81,615.29 625.08,616.6 624.34,617.92 623.6,619.23 622.86,620.54 622.12,621.85 621.39,623.17 620.65,624.48 619.92,625.79 619.18,627.1 618.45,628.42 617.72,629.73 616.98,631.04 616.25,632.36 615.52,633.67 614.79,634.98 614.06,636.29 613.33,637.61 612.6,638.92 611.87,640.23 611.14,641.54 610.41,642.86 609.69,644.17 608.96,645.48 608.23,646.8 607.51,648.11 606.78,649.42 606.06,650.73 605.33,652.05 604.61,653.36 603.89,654.67 603.17,655.98 602.44,657.3 601.72,658.61 601,659.92 600.28,661.24 599.56,662.55 598.84,663.86 598.13,665.17 597.41,666.49 596.69,667.8 595.97,669.11 595.26,670.42 594.54,671.74 593.83,673.05 593.11,674.36 592.4,675.68 591.69,676.99 590.97,678.3 590.26,679.61 589.55,680.93 588.84,682.24 588.13,683.55 587.42,684.86 586.71,686.18 586,687.49 585.29,688.8 584.59,690.12 583.88,691.43 583.17,692.74 582.47,694.05 581.76,695.37 581.06,696.68 580.35,697.99 579.65,699.31 578.95,700.62 578.24,701.93 577.54,703.24 576.84,704.56 576.14,705.87 575.44,707.18 574.74,708.49 574.04,709.81 573.34,711.12 572.64,712.43 571.95,713.75 571.25,715.06 570.55,716.37 569.86,717.68 569.16,719 568.47,720.31 567.77,721.62 567.08,722.93 566.39,724.25 565.69,725.56 565,726.87 564.31,728.19 563.62,729.5 562.93,730.81 562.24,732.12 561.55,733.44 560.86,734.75 560.18,736.06 559.49,737.37 558.8,738.69 558.12,740ZM609.33,740 610.21,738.69 611.09,737.37 611.97,736.06 612.85,734.75 613.73,733.44 614.61,732.12 615.5,730.81 616.38,729.5 617.27,728.19 618.16,726.87 619.04,725.56 619.93,724.25 620.82,722.93 621.71,721.62 622.61,720.31 623.5,719 624.39,717.68 625.29,716.37 626.18,715.06 627.08,713.75 627.98,712.43 628.88,711.12 629.78,709.81 630.68,708.49 631.58,707.18 632.48,705.87 633.38,704.56 634.29,703.24 635.19,701.93 636.1,700.62 637.01,699.31 637.91,697.99 638.82,696.68 639.73,695.37 640.64,694.05 641.56,692.74 642.47,691.43 643.38,690.12 644.3,688.8 645.21,687.49 646.13,686.18 647.05,684.86 647.97,683.55 648.89,682.24 649.81,680.93 650.73,679.61 651.65,678.3 652.57,676.99 653.5,675.68 654.42,674.36 655.35,673.05 656.28,671.74 657.2,670.42 658.13,669.11 659.06,667.8 659.99,666.49 660.93,665.17 661.86,663.86 662.79,662.55 663.73,661.24 664.66,659.92 665.6,658.61 666.54,657.3 667.48,655.98 668.41,654.67 669.35,653.36 670.3,652.05 671.24,650.73 672.18,649.42 673.13,648.11 674.07,646.8 675.02,645.48 675.96,644.17 676.91,642.86 677.86,641.54 678.81,640.23 679.76,638.92 680.71,637.61 681.67,636.29 682.62,634.98 683.57,633.67 684.53,632.36 685.49,631.04 686.44,629.73 687.4,628.42 688.36,627.1 689.32,625.79 690.28,624.48 691.25,623.17 692.21,621.85 693.17,620.54 694.14,619.23 695.1,617.92 696.07,616.6 697.04,615.29 698.01,613.98 698.98,612.66 699.95,611.35 700.92,610.04 701.89,608.73 702.87,607.41 703.84,606.1 704.82,604.79 705.79,603.47 706.77,602.16 707.75,600.85 708.73,599.54 709.71,598.22 710.69,596.91 711.67,595.6 712.66,594.29 713.64,592.97 714.63,591.66 715.61,590.35 716.6,589.03 717.59,587.72 718.57,586.41 719.56,585.1 720.56,583.78 721.55,582.47 722.54,581.16 723.53,579.85 724.53,578.53 725.52,577.22 726.52,575.91 727.52,574.59 728.52,573.28 729.52,571.97 730.52,570.66 731.52,569.34 732.52,568.03 733.52,566.72 734.53,565.41 735.53,564.09 736.54,562.78 737.54,561.47 738.55,560.15 739.56,558.84 740.57,557.53 741.58,556.22 742.59,554.9 743.61,553.59 744.62,552.28 745.63,550.97 746.65,549.65 747.67,548.34 748.68,547.03 749.7,545.71 750.72,544.4 751.74,543.09 752.76,541.78 753.78,540.46 754.81,539.15 755.83,537.84 756.86,536.53 757.88,535.21 758.91,533.9 759.94,532.59 760.97,531.27 761.99,529.96 763.03,528.65 764.06,527.34 765.09,526.02 766.12,524.71 767.16,523.4 768.19,522.08 769.23,520.77 770.27,519.46 771.31,518.15 772.34,516.83 773.38,515.52 774.43,514.21 775.47,512.9 776.51,511.58 777.55,510.27 778.6,508.96 779.65,507.64 780.69,506.33 781.74,505.02 782.79,503.71 783.84,502.39 784.89,501.08 785.94,499.77 786.99,498.46 788.05,497.14 789.1,495.83 790.16,494.52 791.21,493.2 792.27,491.89 793.33,490.58 794.39,489.27 795.45,487.95 796.51,486.64 797.57,485.33 798.63,484.02 799.7,482.7 800.76,481.39 801.83,480.08 802.9,478.76 803.96,477.45 805.03,476.14 806.1,474.83 807.17,473.51 808.24,472.2 809.32,470.89 810.39,469.58 811.46,468.26 812.54,466.95 813.62,465.64 814.69,464.32 815.77,463.01 816.85,461.7 817.93,460.39 819.01,459.07 820.09,457.76 821.18,456.45 822.26,455.14 823.34,453.82 824.43,452.51 825.52,451.2 826.61,449.88 827.69,448.57 828.78,447.26 829.87,445.95 830.97,444.63 832.06,443.32 833.15,442.01 834.25,440.69 835.34,439.38 836.44,438.07 837.53,436.76 838.63,435.44 839.73,434.13 840.83,432.82 841.93,431.51 843.03,430.19 844.14,428.88 845.24,427.57 846.35,426.25 847.45,424.94 848.56,423.63 849.67,422.32 850.77,421 851.88,419.69 852.99,418.38 854.11,417.07 855.22,415.75 856.33,414.44 857.45,413.13 858.56,411.81 859.68,410.5 860.8,409.19 861.91,407.88 863.03,406.56 864.15,405.25 865.27,403.94 866.4,402.63 867.52,401.31 868.64,400 877.86,400 876.74,401.31 875.61,402.63 874.48,403.94 873.36,405.25 872.24,406.56 871.11,407.88 869.99,409.19 868.87,410.5 867.75,411.81 866.63,413.13 865.52,414.44 864.4,415.75 863.28,417.07 862.17,418.38 861.06,419.69 859.94,421 858.83,422.32 857.72,423.63 856.61,424.94 855.5,426.25 854.39,427.57 853.29,428.88 852.18,430.19 851.07,431.51 849.97,432.82 848.87,434.13 847.76,435.44 846.66,436.76 845.56,438.07 844.46,439.38 843.36,440.69 842.27,442.01 841.17,443.32 840.07,444.63 838.98,445.95 837.89,447.26 836.79,448.57 835.7,449.88 834.61,451.2 833.52,452.51 832.43,453.82 831.34,455.14 830.26,456.45 829.17,457.76 828.08,459.07 827,460.39 825.92,461.7 824.83,463.01 823.75,464.32 822.67,465.64 821.59,466.95 820.51,468.26 819.44,469.58 818.36,470.89 817.28,472.2 816.21,473.51 815.14,474.83 814.06,476.14 812.99,477.45 811.92,478.76 810.85,480.08 809.78,481.39 808.71,482.7 807.65,484.02 806.58,485.33 805.51,486.64 804.45,487.95 803.39,489.27 802.32,490.58 801.26,491.89 800.2,493.2 799.14,494.52 798.08,495.83 797.03,497.14 795.97,498.46 794.92,499.77 793.86,501.08 792.81,502.39 791.75,503.71 790.7,505.02 789.65,506.33 788.6,507.64 787.55,508.96 786.5,510.27 785.46,511.58 784.41,512.9 783.37,514.21 782.32,515.52 781.28,516.83 780.24,518.15 779.19,519.46 778.15,520.77 777.11,522.08 776.08,523.4 775.04,524.71 774,526.02 772.97,527.34 771.93,528.65 770.9,529.96 769.86,531.27 768.83,532.59 767.8,533.9 766.77,535.21 765.74,536.53 764.71,537.84 763.69,539.15 762.66,540.46 761.64,541.78 760.61,543.09 759.59,544.4 758.57,545.71 757.54,547.03 756.52,548.34 755.5,549.65 754.49,550.97 753.47,552.28 752.45,553.59 751.44,554.9 750.42,556.22 749.41,557.53 748.39,558.84 747.38,560.15 746.37,561.47 745.36,562.78 744.35,564.09 743.34,565.41 742.34,566.72 741.33,568.03 740.33,569.34 739.32,570.66 738.32,571.97 737.32,573.28 736.31,574.59 735.31,575.91 734.31,577.22 733.32,578.53 732.32,579.85 731.32,581.16 730.33,582.47 729.33,583.78 728.34,585.1 727.34,586.41 726.35,587.72 725.36,589.03 724.37,590.35 723.38,591.66 722.39,592.97 721.41,594.29 720.42,595.6 719.43,596.91 718.45,598.22 717.47,599.54 716.48,600.85 715.5,602.16 714.52,603.47 713.54,604.79 712.56,606.1 711.59,607.41 710.61,608.73 709.63,610.04 708.66,611.35 707.69,612.66 706.71,613.98 705.74,615.29 704.77,616.6 703.8,617.92 702.83,619.23 701.86,620.54 700.9,621.85 699.93,623.17 698.96,624.48 698,625.79 697.04,627.1 696.07,628.42 695.11,629.73 694.15,631.04 693.19,632.36 692.23,633.67 691.28,634.98 690.32,636.29 689.36,637.61 688.41,638.92 687.46,640.23 686.5,641.54 685.55,642.86 684.6,644.17 683.65,645.48 682.7,646.8 681.75,648.11 680.81,649.42 679.86,650.73 678.91,652.05 677.97,653.36 677.03,654.67 676.08,655.98 675.14,657.3 674.2,658.61 673.26,659.92 672.32,661.24 671.39,662.55 670.45,663.86 669.51,665.17 668.58,666.49 667.65,667.8 666.71,669.11 665.78,670.42 664.85,671.74 663.92,673.05 662.99,674.36 662.06,675.68 661.14,676.99 660.21,678.3 659.28,679.61 658.36,680.93 657.44,682.24 656.51,683.55 655.59,684.86 654.67,686.18 653.75,687.49 652.83,688.8 651.92,690.12 651,691.43 650.08,692.74 649.17,694.05 648.26,695.37 647.34,696.68 646.43,697.99 645.52,699.31 644.61,700.62 643.7,701.93 642.79,703.24 641.89,704.56 640.98,705.87 640.07,707.18 639.17,708.49 638.27,709.81 637.36,711.12 636.46,712.43 635.56,713.75 634.66,715.06 633.76,716.37 632.87,717.68 631.97,719 631.07,720.31 630.18,721.62 629.28,722.93 628.39,724.25 627.5,725.56 626.61,726.87 625.72,728.19 624.83,729.5 623.94,730.81 623.05,732.12 622.17,733.44 621.28,734.75 620.4,736.06 619.52,737.37 618.63,738.69 617.75,740ZM656.58,740 657.56,738.69 658.54,737.37 659.53,736.06 660.51,734.75 661.5,733.44 662.49,732.12 663.48,730.81 664.48,729.5 665.48,728.19 666.47,726.87 667.47,725.56 668.48,724.25 669.48,722.93 670.49,721.62 671.5,720.31 672.51,719 673.52,717.68 674.53,716.37 675.55,715.06 676.57,713.75 677.59,712.43 678.61,711.12 679.63,709.81 680.66,708.49 681.69,707.18 682.72,705.87 683.75,704.56 684.78,703.24 685.82,701.93 686.86,700.62 687.9,699.31 688.94,697.99 689.98,696.68 691.03,695.37 692.08,694.05 693.13,692.74 694.18,691.43 695.23,690.12 696.29,688.8 697.35,687.49 698.41,686.18 699.47,684.86 700.53,683.55 701.6,682.24 702.67,680.93 703.74,679.61 704.81,678.3 705.88,676.99 706.96,675.68 708.04,674.36 709.12,673.05 710.2,671.74 711.28,670.42 712.37,669.11 713.45,667.8 714.54,666.49 715.64,665.17 716.73,663.86 717.83,662.55 718.92,661.24 720.02,659.92 721.12,658.61 722.23,657.3 723.33,655.98 724.44,654.67 725.55,653.36 726.66,652.05 727.78,650.73 728.89,649.42 730.01,648.11 731.13,646.8 732.25,645.48 733.37,644.17 734.5,642.86 735.63,641.54 736.75,640.23 737.89,638.92 739.02,637.61 740.15,636.29 741.29,634.98 742.43,633.67 743.57,632.36 744.72,631.04 745.86,629.73 747.01,628.42 748.16,627.1 749.31,625.79 750.46,624.48 751.62,623.17 752.77,621.85 753.93,620.54 755.09,619.23 756.26,617.92 757.42,616.6 758.59,615.29 759.76,613.98 760.93,612.66 762.1,611.35 763.28,610.04 764.46,608.73 765.63,607.41 766.82,606.1 768,604.79 769.18,603.47 770.37,602.16 771.56,600.85 772.75,599.54 773.94,598.22 775.14,596.91 776.33,595.6 777.53,594.29 778.73,592.97 779.94,591.66 781.14,590.35 782.35,589.03 783.56,587.72 784.77,586.41 785.98,585.1 787.2,583.78 788.41,582.47 789.63,581.16 790.85,579.85 792.07,578.53 793.3,577.22 794.53,575.91 795.75,574.59 796.99,573.28 798.22,571.97 799.45,570.66 800.69,569.34 801.93,568.03 803.17,566.72 804.41,565.41 805.66,564.09 806.9,562.78 808.15,561.47 809.4,560.15 810.65,558.84 811.91,557.53 813.16,556.22 814.42,554.9 815.68,553.59 816.95,552.28 818.21,550.97 819.48,549.65 820.74,548.34 822.02,547.03 823.29,545.71 824.56,544.4 825.84,543.09 827.12,541.78 828.4,540.46 829.68,539.15 830.96,537.84 832.25,536.53 833.54,535.21 834.83,533.9 836.12,532.59 837.41,531.27 838.71,529.96 840.01,528.65 841.31,527.34 842.61,526.02 843.91,524.71 845.22,523.4 846.53,522.08 847.84,520.77 849.15,519.46 850.47,518.15 851.78,516.83 853.1,515.52 854.42,514.21 855.74,512.9 857.07,511.58 858.39,510.27 859.72,508.96 861.05,507.64 862.38,506.33 863.71,505.02 865.05,503.71 866.39,502.39 867.73,501.08 869.07,499.77 870.41,498.46 871.76,497.14 873.11,495.83 874.46,494.52 875.81,493.2 877.16,491.89 878.52,490.58 879.88,489.27 881.24,487.95 882.6,486.64 892.7,486.64 891.33,487.95 889.96,489.27 888.6,490.58 887.23,491.89 885.87,493.2 884.51,494.52 883.15,495.83 881.8,497.14 880.45,498.46 879.09,499.77 877.74,501.08 876.4,502.39 875.05,503.71 873.71,505.02 872.37,506.33 871.03,507.64 869.69,508.96 868.35,510.27 867.02,511.58 865.69,512.9 864.36,514.21 863.03,515.52 861.71,516.83 860.38,518.15 859.06,519.46 857.74,520.77 856.43,522.08 855.11,523.4 853.8,524.71 852.48,526.02 851.17,527.34 849.87,528.65 848.56,529.96 847.26,531.27 845.96,532.59 844.66,533.9 843.36,535.21 842.06,536.53 840.77,537.84 839.48,539.15 838.19,540.46 836.9,541.78 835.61,543.09 834.33,544.4 833.05,545.71 831.77,547.03 830.49,548.34 829.22,549.65 827.94,550.97 826.67,552.28 825.4,553.59 824.13,554.9 822.87,556.22 821.6,557.53 820.34,558.84 819.08,560.15 817.82,561.47 816.57,562.78 815.31,564.09 814.06,565.41 812.81,566.72 811.57,568.03 810.32,569.34 809.08,570.66 807.83,571.97 806.59,573.28 805.36,574.59 804.12,575.91 802.89,577.22 801.65,578.53 800.42,579.85 799.2,581.16 797.97,582.47 796.75,583.78 795.52,585.1 794.3,586.41 793.09,587.72 791.87,589.03 790.66,590.35 789.44,591.66 788.23,592.97 787.03,594.29 785.82,595.6 784.62,596.91 783.41,598.22 782.21,599.54 781.02,600.85 779.82,602.16 778.63,603.47 777.43,604.79 776.24,606.1 775.06,607.41 773.87,608.73 772.69,610.04 771.5,611.35 770.32,612.66 769.15,613.98 767.97,615.29 766.79,616.6 765.62,617.92 764.45,619.23 763.28,620.54 762.12,621.85 760.95,623.17 759.79,624.48 758.63,625.79 757.47,627.1 756.32,628.42 755.16,629.73 754.01,631.04 752.86,632.36 751.71,633.67 750.57,634.98 749.42,636.29 748.28,637.61 747.14,638.92 746,640.23 744.86,641.54 743.73,642.86 742.6,644.17 741.47,645.48 740.34,646.8 739.21,648.11 738.09,649.42 736.97,650.73 735.85,652.05 734.73,653.36 733.61,654.67 732.5,655.98 731.38,657.3 730.27,658.61 729.17,659.92 728.06,661.24 726.95,662.55 725.85,663.86 724.75,665.17 723.65,666.49 722.56,667.8 721.46,669.11 720.37,670.42 719.28,671.74 718.19,673.05 717.1,674.36 716.02,675.68 714.94,676.99 713.86,678.3 712.78,679.61 711.7,680.93 710.63,682.24 709.55,683.55 708.48,684.86 707.42,686.18 706.35,687.49 705.28,688.8 704.22,690.12 703.16,691.43 702.1,692.74 701.05,694.05 699.99,695.37 698.94,696.68 697.89,697.99 696.84,699.31 695.79,700.62 694.75,701.93 693.71,703.24 692.67,704.56 691.63,705.87 690.59,707.18 689.55,708.49 688.52,709.81 687.49,711.12 686.46,712.43 685.44,713.75 684.41,715.06 683.39,716.37 682.37,717.68 681.35,719 680.33,720.31 679.32,721.62 678.3,722.93 677.29,724.25 676.29,725.56 675.28,726.87 674.27,728.19 673.27,729.5 672.27,730.81 671.27,732.12 670.27,733.44 669.28,734.75 668.29,736.06 667.3,737.37 666.31,738.69 665.32,740ZM887.65,481.79 889.02,480.48 890.38,479.17 891.76,477.86 893.13,476.55 894.51,475.24 895.88,473.93 897.26,472.62 898.64,471.31 900.03,470 901.41,468.69 902.8,467.38 904.19,466.07 905.58,464.76 906.97,463.45 908.37,462.14 909.77,460.83 911.17,459.53 912.57,458.22 913.97,456.91 915.38,455.6 916.78,454.29 918.19,452.98 919.6,451.67 921.02,450.36 922.43,449.05 923.85,447.74 925.27,446.43 926.69,445.12 928.11,443.81 929.54,442.5 930.97,441.19 932.39,439.88 933.83,438.57 935.26,437.26 936.69,435.95 938.13,434.64 939.57,433.33 941.01,432.02 942.45,430.71 943.9,429.4 945.35,428.09 946.8,426.78 948.25,425.47 949.7,424.16 951.15,422.85 952.61,421.54 954.07,420.23 955.53,418.92 956.99,417.61 958.46,416.3 959.93,414.99 961.4,413.68 962.87,412.37 964.34,411.06 965.81,409.75 967.29,408.44 968.77,407.13 970.25,405.82 971.73,404.51 973.22,403.2 974.7,401.89 976.19,400.58 977.68,399.27 979.18,397.96 980.67,396.65 982.17,395.34 982.17,404.66 980.67,405.97 979.18,407.29 977.68,408.6 976.19,409.92 974.7,411.23 973.22,412.55 971.73,413.86 970.25,415.18 968.77,416.49 967.29,417.81 965.81,419.13 964.34,420.44 962.87,421.76 961.4,423.07 959.93,424.39 958.46,425.7 956.99,427.02 955.53,428.33 954.07,429.65 952.61,430.97 951.15,432.28 949.7,433.6 948.25,434.91 946.8,436.23 945.35,437.54 943.9,438.86 942.45,440.18 941.01,441.49 939.57,442.81 938.13,444.12 936.69,445.44 935.26,446.75 933.83,448.07 932.39,449.39 930.97,450.7 929.54,452.02 928.11,453.33 926.69,454.65 925.27,455.96 923.85,457.28 922.43,458.6 921.02,459.91 919.6,461.23 918.19,462.54 916.78,463.86 915.38,465.18 913.97,466.49 912.57,467.81 911.17,469.12 909.77,470.44 908.37,471.76 906.97,473.07 905.58,474.39 904.19,475.7 902.8,477.02 901.41,478.34 900.03,479.65 898.64,480.97 897.26,482.28 895.88,483.6 894.51,484.92 893.13,486.23 891.76,487.55 890.38,488.86 889.02,490.18 887.65,491.49ZM681.4,740 682.46,738.69 683.51,737.37 684.57,736.06 685.63,734.75 686.69,733.44 687.76,732.12 688.83,730.81 689.9,729.5 690.98,728.19 692.05,726.87 693.13,725.56 694.22,724.25 695.3,722.93 696.39,721.62 697.48,720.31 698.58,719 699.67,717.68 700.77,716.37 701.87,715.06 702.98,713.75 704.09,712.43 705.2,711.12 706.31,709.81 707.42,708.49 708.54,707.18 709.66,705.87 710.79,704.56 711.91,703.24 713.04,701.93 714.17,700.62 715.31,699.31 716.45,697.99 717.59,696.68 718.73,695.37 719.87,694.05 721.02,692.74 722.17,691.43 723.33,690.12 724.48,688.8 725.64,687.49 726.81,686.18 727.97,684.86 729.14,683.55 730.31,682.24 731.48,680.93 732.66,679.61 733.83,678.3 735.01,676.99 736.2,675.68 737.38,674.36 738.57,673.05 739.77,671.74 740.96,670.42 742.16,669.11 743.36,667.8 744.56,666.49 745.76,665.17 746.97,663.86 748.18,662.55 749.4,661.24 750.61,659.92 751.83,658.61 753.05,657.3 754.28,655.98 755.51,654.67 756.74,653.36 757.97,652.05 759.2,650.73 760.44,649.42 761.68,648.11 762.93,646.8 764.17,645.48 765.42,644.17 766.67,642.86 767.93,641.54 769.19,640.23 770.45,638.92 771.71,637.61 772.97,636.29 774.24,634.98 775.51,633.67 776.79,632.36 778.06,631.04 779.34,629.73 780.62,628.42 781.91,627.1 783.19,625.79 784.48,624.48 785.78,623.17 787.07,621.85 788.37,620.54 789.67,619.23 790.97,617.92 792.28,616.6 793.59,615.29 794.9,613.98 796.22,612.66 797.53,611.35 798.85,610.04 800.17,608.73 801.5,607.41 802.83,606.1 804.16,604.79 805.49,603.47 806.83,602.16 808.17,600.85 809.51,599.54 810.85,598.22 812.2,596.91 813.55,595.6 814.9,594.29 816.26,592.97 817.62,591.66 818.98,590.35 829.08,590.35 827.71,591.66 826.34,592.97 824.97,594.29 823.61,595.6 822.25,596.91 820.89,598.22 819.54,599.54 818.19,600.85 816.84,602.16 815.49,603.47 814.15,604.79 812.8,606.1 811.47,607.41 810.13,608.73 808.8,610.04 807.47,611.35 806.14,612.66 804.82,613.98 803.49,615.29 802.17,616.6 800.86,617.92 799.54,619.23 798.23,620.54 796.92,621.85 795.62,623.17 794.32,624.48 793.02,625.79 791.72,627.1 790.42,628.42 789.13,629.73 787.84,631.04 786.56,632.36 785.27,633.67 783.99,634.98 782.71,636.29 781.44,637.61 780.17,638.92 778.9,640.23 777.63,641.54 776.36,642.86 775.1,644.17 773.84,645.48 772.59,646.8 771.33,648.11 770.08,649.42 768.83,650.73 767.59,652.05 766.35,653.36 765.11,654.67 763.87,655.98 762.64,657.3 761.4,658.61 760.17,659.92 758.95,661.24 757.72,662.55 756.5,663.86 755.29,665.17 754.07,666.49 752.86,667.8 751.65,669.11 750.44,670.42 749.24,671.74 748.04,673.05 746.84,674.36 745.64,675.68 744.45,676.99 743.26,678.3 742.07,679.61 740.88,680.93 739.7,682.24 738.52,683.55 737.34,684.86 736.17,686.18 735,687.49 733.83,688.8 732.66,690.12 731.5,691.43 730.34,692.74 729.18,694.05 728.03,695.37 726.87,696.68 725.73,697.99 724.58,699.31 723.43,700.62 722.29,701.93 721.15,703.24 720.02,704.56 718.88,705.87 717.75,707.18 716.63,708.49 715.5,709.81 714.38,711.12 713.26,712.43 712.14,713.75 711.03,715.06 709.92,716.37 708.81,717.68 707.7,719 706.6,720.31 705.5,721.62 704.4,722.93 703.31,724.25 702.22,725.56 701.13,726.87 700.04,728.19 698.96,729.5 697.87,730.81 696.8,732.12 695.72,733.44 694.65,734.75 693.58,736.06 692.51,737.37 691.44,738.69 690.39,740ZM824.03,585.5 825.4,584.19 826.77,582.88 828.14,581.57 829.52,580.26 830.9,578.95 832.28,577.64 833.67,576.34 835.05,575.03 836.44,573.72 837.84,572.41 839.23,571.1 840.63,569.79 842.03,568.49 843.44,567.18 844.84,565.87 846.25,564.56 847.67,563.25 849.08,561.94 850.5,560.64 851.92,559.33 853.34,558.02 854.77,556.71 856.2,555.4 857.63,554.09 859.06,552.78 860.5,551.48 861.94,550.17 863.38,548.86 864.83,547.55 866.27,546.24 867.73,544.93 869.18,543.62 870.63,542.31 872.09,541.01 873.56,539.7 875.02,538.39 876.49,537.08 877.96,535.77 879.43,534.46 880.9,533.15 882.38,531.84 883.86,530.53 885.35,529.23 886.83,527.92 888.32,526.61 889.81,525.3 891.31,523.99 892.8,522.68 894.3,521.37 895.8,520.06 897.31,518.75 898.82,517.44 900.33,516.14 901.84,514.83 903.36,513.52 904.88,512.21 906.4,510.9 907.92,509.59 909.45,508.28 910.98,506.97 912.51,505.66 914.05,504.35 915.58,503.04 917.13,501.73 918.67,500.42 920.21,499.12 921.76,497.81 923.32,496.5 924.87,495.19 926.43,493.88 927.99,492.57 929.55,491.26 931.11,489.95 932.68,488.64 934.25,487.33 935.83,486.02 937.4,484.71 938.98,483.4 940.56,482.09 942.15,480.78 943.73,479.47 945.32,478.16 946.92,476.85 948.51,475.54 950.11,474.23 951.71,472.93 953.31,471.62 954.92,470.31 956.53,469 958.14,467.69 959.75,466.38 961.37,465.07 962.99,463.76 964.61,462.45 966.24,461.14 967.87,459.83 969.5,458.52 971.13,457.21 972.77,455.9 974.41,454.59 976.05,453.28 977.69,451.97 979.34,450.66 980.99,449.35 982.64,448.04 984.3,446.73 985.96,445.42 987.62,444.11 989.28,442.8 990.95,441.49 992.61,440.18 994.29,438.87 995.96,437.56 997.64,436.25 999.32,434.94 1001,433.63 1002.69,432.32 1004.37,431.01 1006.06,429.7 1007.76,428.39 1009.45,427.08 1011.15,425.77 1012.85,424.46 1014.56,423.15 1016.27,421.84 1017.98,420.53 1019.69,419.22 1021.4,417.91 1023.12,416.6 1024.84,415.29 1026.57,413.98 1028.29,412.67 1030.02,411.36 1031.75,410.05 1033.49,408.74 1035.22,407.43 1036.96,406.12 1038.71,404.81 1040.45,403.5 1042.2,402.19 1043.95,400.88 1045.71,399.57 1047.46,398.26 1049.22,396.95 1050.98,395.64 1050.98,404.36 1049.22,405.68 1047.46,407 1045.71,408.31 1043.95,409.63 1042.2,410.94 1040.45,412.26 1038.71,413.57 1036.96,414.89 1035.22,416.2 1033.49,417.52 1031.75,418.83 1030.02,420.15 1028.29,421.46 1026.57,422.78 1024.84,424.09 1023.12,425.41 1021.4,426.72 1019.69,428.04 1017.98,429.35 1016.27,430.67 1014.56,431.99 1012.85,433.3 1011.15,434.62 1009.45,435.93 1007.76,437.25 1006.06,438.56 1004.37,439.88 1002.69,441.19 1001,442.51 999.32,443.82 997.64,445.14 995.96,446.46 994.29,447.77 992.61,449.09 990.95,450.4 989.28,451.72 987.62,453.03 985.96,454.35 984.3,455.66 982.64,456.98 980.99,458.3 979.34,459.61 977.69,460.93 976.05,462.24 974.41,463.56 972.77,464.87 971.13,466.19 969.5,467.5 967.87,468.82 966.24,470.14 964.61,471.45 962.99,472.77 961.37,474.08 959.75,475.4 958.14,476.71 956.53,478.03 954.92,479.35 953.31,480.66 951.71,481.98 950.11,483.29 948.51,484.61 946.92,485.93 945.32,487.24 943.73,488.56 942.15,489.87 940.56,491.19 938.98,492.51 937.4,493.82 935.83,495.14 934.25,496.45 932.68,497.77 931.11,499.09 929.55,500.4 927.99,501.72 926.43,503.03 924.87,504.35 923.32,505.67 921.76,506.98 920.21,508.3 918.67,509.61 917.13,510.93 915.58,512.25 914.05,513.56 912.51,514.88 910.98,516.2 909.45,517.51 907.92,518.83 906.4,520.14 904.88,521.46 903.36,522.78 901.84,524.09 900.33,525.41 898.82,526.73 897.31,528.04 895.8,529.36 894.3,530.67 892.8,531.99 891.31,533.31 889.81,534.62 888.32,535.94 886.83,537.26 885.35,538.57 883.86,539.89 882.38,541.21 880.9,542.52 879.43,543.84 877.96,545.16 876.49,546.47 875.02,547.79 873.56,549.11 872.09,550.42 870.63,551.74 869.18,553.06 867.73,554.37 866.27,555.69 864.83,557.01 863.38,558.32 861.94,559.64 860.5,560.96 859.06,562.27 857.63,563.59 856.2,564.91 854.77,566.22 853.34,567.54 851.92,568.86 850.5,570.18 849.08,571.49 847.67,572.81 846.25,574.13 844.84,575.44 843.44,576.76 842.03,578.08 840.63,579.39 839.23,580.71 837.84,582.03 836.44,583.35 835.05,584.66 833.67,585.98 832.28,587.3 830.9,588.62 829.52,589.93 828.14,591.25 826.77,592.57 825.4,593.88 824.03,595.2Z"/><path fill="#00cc00" d="M547.51,740 548.2,738.69 548.88,737.37 549.57,736.06 550.25,734.75 550.94,733.44 551.32,732.7 564.65,732.7 564.26,733.44 563.57,734.75 562.88,736.06 562.2,737.37 561.51,738.69 560.82,740ZM560.27,715.7 560.61,715.06 561.31,713.75 562,712.43 562.7,711.12 563.39,709.81 564.09,708.49 564.79,707.18 565.49,705.87 566.19,704.56 566.89,703.24 567.59,701.93 568.29,700.62 568.99,699.31 569.31,698.7 582.7,698.7 582.37,699.31 581.67,700.62 580.96,701.93 580.26,703.24 579.56,704.56 578.86,705.87 578.16,707.18 577.46,708.49 576.76,709.81 576.06,711.12 575.36,712.43 574.66,713.75 573.97,715.06 573.62,715.7ZM578.44,681.7 578.86,680.93 579.57,679.61 580.28,678.3 580.99,676.99 581.7,675.68 582.42,674.36 583.13,673.05 583.84,671.74 584.56,670.42 585.27,669.11 585.98,667.8 586.7,666.49 587.42,665.17 587.67,664.7 601.12,664.7 600.86,665.17 600.14,666.49 599.42,667.8 598.71,669.11 597.99,670.42 597.28,671.74 596.56,673.05 595.85,674.36 595.13,675.68 594.42,676.99 593.7,678.3 592.99,679.61 592.28,680.93 591.86,681.7ZM597,647.7 597.49,646.8 598.22,645.48 598.94,644.17 599.67,642.86 600.39,641.54 601.12,640.23 601.85,638.92 602.58,637.61 603.3,636.29 604.03,634.98 604.76,633.67 605.49,632.36 606.22,631.04 606.41,630.7 619.92,630.7 619.73,631.04 619,632.36 618.27,633.67 617.53,634.98 616.8,636.29 616.07,637.61 615.34,638.92 614.61,640.23 613.88,641.54 613.16,642.86 612.43,644.17 611.7,645.48 610.97,646.8 610.47,647.7ZM615.92,613.7 616.51,612.66 617.24,611.35 617.98,610.04 618.72,608.73 619.46,607.41 620.21,606.1 620.95,604.79 621.69,603.47 622.43,602.16 623.17,600.85 623.92,599.54 624.66,598.22 625.41,596.91 625.53,596.7 639.1,596.7 638.98,596.91 638.23,598.22 637.49,599.54 636.74,600.85 635.99,602.16 635.25,603.47 634.5,604.79 633.76,606.1 633.02,607.41 632.27,608.73 631.53,610.04 630.79,611.35 630.05,612.66 629.47,613.7ZM635.23,579.7 635.9,578.53 636.65,577.22 637.4,575.91 638.16,574.59 638.91,573.28 639.67,571.97 640.42,570.66 641.18,569.34 641.94,568.03 642.7,566.72 643.45,565.41 644.21,564.09 644.97,562.78 645.02,562.7 658.66,562.7 658.61,562.78 657.85,564.09 657.09,565.41 656.33,566.72 655.57,568.03 654.81,569.34 654.05,570.66 653.29,571.97 652.53,573.28 651.77,574.59 651.02,575.91 650.26,577.22 649.5,578.53 648.83,579.7ZM654.91,545.7 655.67,544.4 656.43,543.09 657.2,541.78 657.97,540.46 658.74,539.15 659.51,537.84 660.28,536.53 661.05,535.21 661.82,533.9 662.6,532.59 663.37,531.27 664.14,529.96 664.89,528.7 678.59,528.7 677.85,529.96 677.07,531.27 676.29,532.59 675.52,533.9 674.74,535.21 673.97,536.53 673.2,537.84 672.42,539.15 671.65,540.46 670.88,541.78 670.11,543.09 669.34,544.4 668.58,545.7ZM674.96,511.7 675.03,511.58 675.81,510.27 676.6,508.96 677.38,507.64 678.16,506.33 678.95,505.02 679.73,503.71 680.52,502.39 681.3,501.08 682.09,499.77 682.88,498.46 683.66,497.14 684.45,495.83 685.13,494.7 698.9,494.7 698.22,495.83 697.43,497.14 696.64,498.46 695.85,499.77 695.06,501.08 694.27,502.39 693.49,503.71 692.7,505.02 691.91,506.33 691.13,507.64 690.34,508.96 689.55,510.27 688.77,511.58 688.7,511.7ZM695.39,477.7 695.55,477.45 696.34,476.14 697.14,474.83 697.94,473.51 698.74,472.2 699.53,470.89 700.33,469.58 701.13,468.26 701.93,466.95 702.73,465.64 703.54,464.32 704.34,463.01 705.14,461.7 705.75,460.7 719.59,460.7 718.98,461.7 718.17,463.01 717.37,464.32 716.56,465.64 715.76,466.95 714.96,468.26 714.16,469.58 713.35,470.89 712.55,472.2 711.75,473.51 710.95,474.83 710.15,476.14 709.35,477.45 709.2,477.7ZM716.2,443.7 716.44,443.32 717.25,442.01 718.06,440.69 718.87,439.38 719.69,438.07 720.5,436.76 721.31,435.44 722.13,434.13 722.94,432.82 723.76,431.51 724.58,430.19 725.39,428.88 726.21,427.57 726.75,426.7 740.66,426.7 740.12,427.57 739.3,428.88 738.48,430.19 737.66,431.51 736.84,432.82 736.02,434.13 735.2,435.44 734.39,436.76 733.57,438.07 732.76,439.38 731.94,440.69 731.13,442.01 730.31,443.32 730.08,443.7ZM737.39,409.7 737.71,409.19 738.54,407.88 739.36,406.56 740.19,405.25 741.02,403.94 741.84,402.63 742.67,401.31 743.5,400 757.47,400 756.63,401.31 755.8,402.63 754.97,403.94 754.14,405.25 753.31,406.56 752.48,407.88 751.65,409.19 751.33,409.7ZM606.44,740 607.32,738.69 608.2,737.37 609.07,736.06 609.96,734.75 610.84,733.44 611.33,732.7 625.56,732.7 625.06,733.44 624.18,734.75 623.29,736.06 622.41,737.37 621.52,738.69 620.64,740ZM622.84,715.7 623.28,715.06 624.17,713.75 625.07,712.43 625.97,711.12 626.87,709.81 627.76,708.49 628.67,707.18 629.57,705.87 630.47,704.56 631.37,703.24 632.28,701.93 633.18,700.62 634.09,699.31 634.5,698.7 648.86,698.7 648.44,699.31 647.53,700.62 646.62,701.93 645.71,703.24 644.8,704.56 643.89,705.87 642.99,707.18 642.08,708.49 641.18,709.81 640.27,711.12 639.37,712.43 638.47,713.75 637.57,715.06 637.13,715.7ZM646.33,681.7 646.87,680.93 647.79,679.61 648.72,678.3 649.64,676.99 650.56,675.68 651.48,674.36 652.41,673.05 653.34,671.74 654.26,670.42 655.19,669.11 656.12,667.8 657.05,666.49 657.98,665.17 658.32,664.7 672.8,664.7 672.46,665.17 671.52,666.49 670.59,667.8 669.65,669.11 668.72,670.42 667.79,671.74 666.86,673.05 665.93,674.36 665,675.68 664.07,676.99 663.14,678.3 662.22,679.61 661.29,680.93 660.75,681.7ZM670.46,647.7 671.11,646.8 672.06,645.48 673,644.17 673.95,642.86 674.9,641.54 675.85,640.23 676.8,638.92 677.75,637.61 678.7,636.29 679.65,634.98 680.61,633.67 681.56,632.36 682.52,631.04 682.76,630.7 697.38,630.7 697.12,631.04 696.16,632.36 695.2,633.67 694.25,634.98 693.29,636.29 692.33,637.61 691.37,638.92 690.42,640.23 689.47,641.54 688.51,642.86 687.56,644.17 686.61,645.48 685.66,646.8 685.01,647.7ZM695.23,613.7 695.99,612.66 696.96,611.35 697.93,610.04 698.9,608.73 699.88,607.41 700.85,606.1 701.83,604.79 702.8,603.47 703.78,602.16 704.75,600.85 705.73,599.54 706.71,598.22 707.69,596.91 707.85,596.7 722.59,596.7 722.43,596.91 721.45,598.22 720.46,599.54 719.48,600.85 718.5,602.16 717.52,603.47 716.54,604.79 715.56,606.1 714.58,607.41 713.6,608.73 712.62,610.04 711.65,611.35 710.67,612.66 709.91,613.7ZM720.63,579.7 721.52,578.53 722.51,577.22 723.51,575.91 724.5,574.59 725.5,573.28 726.5,571.97 727.5,570.66 728.5,569.34 729.5,568.03 730.5,566.72 731.5,565.41 732.51,564.09 733.51,562.78 733.57,562.7 748.45,562.7 748.39,562.78 747.38,564.09 746.37,565.41 745.36,566.72 744.35,568.03 743.35,569.34 742.34,570.66 741.34,571.97 740.33,573.28 739.33,574.59 738.33,575.91 737.33,577.22 736.33,578.53 735.44,579.7ZM746.67,545.7 747.68,544.4 748.7,543.09 749.72,541.78 750.74,540.46 751.76,539.15 752.79,537.84 753.81,536.53 754.83,535.21 755.86,533.9 756.89,532.59 757.91,531.27 758.94,529.96 759.93,528.7 774.94,528.7 773.95,529.96 772.91,531.27 771.88,532.59 770.85,533.9 769.82,535.21 768.79,536.53 767.76,537.84 766.73,539.15 765.7,540.46 764.68,541.78 763.65,543.09 762.63,544.4 761.62,545.7ZM773.35,511.7 773.44,511.58 774.49,510.27 775.53,508.96 776.58,507.64 777.62,506.33 778.67,505.02 779.72,503.71 780.76,502.39 781.81,501.08 782.86,499.77 783.92,498.46 784.97,497.14 786.02,495.83 786.93,494.7 802.08,494.7 801.17,495.83 800.11,497.14 799.05,498.46 797.99,499.77 796.94,501.08 795.88,502.39 794.83,503.71 793.77,505.02 792.72,506.33 791.67,507.64 790.62,508.96 789.57,510.27 788.52,511.58 788.43,511.7ZM800.67,477.7 800.87,477.45 801.94,476.14 803,474.83 804.07,473.51 805.14,472.2 806.21,470.89 807.29,469.58 808.36,468.26 809.43,466.95 810.51,465.64 811.59,464.32 812.66,463.01 813.74,461.7 814.56,460.7 829.85,460.7 829.03,461.7 827.94,463.01 826.86,464.32 825.78,465.64 824.7,466.95 823.62,468.26 822.54,469.58 821.46,470.89 820.38,472.2 819.31,473.51 818.23,474.83 817.16,476.14 816.09,477.45 815.88,477.7ZM828.62,443.7 828.93,443.32 830.03,442.01 831.12,440.69 832.21,439.38 833.31,438.07 834.4,436.76 835.5,435.44 836.6,434.13 837.7,432.82 838.8,431.51 839.9,430.19 841,428.88 842.1,427.57 842.83,426.7 858.26,426.7 857.53,427.57 856.42,428.88 855.31,430.19 854.21,431.51 853.1,432.82 852,434.13 850.9,435.44 849.79,436.76 848.69,438.07 847.59,439.38 846.49,440.69 845.39,442.01 844.29,443.32 843.98,443.7ZM857.21,409.7 857.64,409.19 858.76,407.88 859.88,406.56 861,405.25 862.12,403.94 863.24,402.63 864.36,401.31 865.48,400 881.02,400 879.9,401.31 878.77,402.63 877.64,403.94 876.52,405.25 875.39,406.56 874.27,407.88 873.15,409.19 872.71,409.7ZM653.58,740 654.56,738.69 655.54,737.37 656.52,736.06 657.51,734.75 658.49,733.44 659.05,732.7 673.84,732.7 673.28,733.44 672.29,734.75 671.29,736.06 670.3,737.37 669.31,738.69 668.32,740ZM672.01,715.7 672.51,715.06 673.53,713.75 674.54,712.43 675.56,711.12 676.59,709.81 677.61,708.49 678.64,707.18 679.66,705.87 680.69,704.56 681.72,703.24 682.76,701.93 683.79,700.62 684.83,699.31 685.31,698.7 700.39,698.7 699.91,699.31 698.86,700.62 697.81,701.93 696.76,703.24 695.72,704.56 694.68,705.87 693.64,707.18 692.6,708.49 691.57,709.81 690.54,711.12 689.51,712.43 688.48,713.75 687.45,715.06 686.95,715.7ZM698.94,681.7 699.57,680.93 700.64,679.61 701.71,678.3 702.78,676.99 703.85,675.68 704.93,674.36 706,673.05 707.08,671.74 708.17,670.42 709.25,669.11 710.33,667.8 711.42,666.49 712.51,665.17 712.9,664.7 728.28,664.7 727.88,665.17 726.78,666.49 725.68,667.8 724.58,669.11 723.49,670.42 722.39,671.74 721.3,673.05 720.21,674.36 719.13,675.68 718.04,676.99 716.96,678.3 715.88,679.61 714.8,680.93 714.17,681.7ZM727.2,647.7 727.97,646.8 729.09,645.48 730.21,644.17 731.33,642.86 732.46,641.54 733.58,640.23 734.71,638.92 735.84,637.61 736.98,636.29 738.11,634.98 739.25,633.67 740.39,632.36 741.53,631.04 741.82,630.7 757.5,630.7 757.2,631.04 756.04,632.36 754.89,633.67 753.75,634.98 752.6,636.29 751.45,637.61 750.31,638.92 749.17,640.23 748.03,641.54 746.9,642.86 745.76,644.17 744.63,645.48 743.5,646.8 742.72,647.7ZM756.78,613.7 757.71,612.66 758.88,611.35 760.05,610.04 761.23,608.73 762.4,607.41 763.58,606.1 764.76,604.79 765.95,603.47 767.13,602.16 768.32,600.85 769.51,599.54 770.7,598.22 771.89,596.91 772.08,596.7 788.07,596.7 787.87,596.91 786.66,598.22 785.46,599.54 784.26,600.85 783.06,602.16 781.86,603.47 780.67,604.79 779.48,606.1 778.29,607.41 777.1,608.73 775.91,610.04 774.73,611.35 773.54,612.66 772.62,613.7ZM787.7,579.7 788.79,578.53 790.01,577.22 791.24,575.91 792.46,574.59 793.69,573.28 794.92,571.97 796.15,570.66 797.39,569.34 798.62,568.03 799.86,566.72 801.1,565.41 802.34,564.09 803.59,562.78 803.66,562.7 819.97,562.7 819.88,562.78 818.63,564.09 817.37,565.41 816.12,566.72 814.87,568.03 813.62,569.34 812.37,570.66 811.13,571.97 809.89,573.28 808.65,574.59 807.41,575.91 806.17,577.22 804.94,578.53 803.85,579.7ZM819.95,545.7 821.21,544.4 822.49,543.09 823.76,541.78 825.04,540.46 826.32,539.15 827.6,537.84 828.88,536.53 830.17,535.21 831.46,533.9 832.75,532.59 834.04,531.27 835.33,529.96 836.58,528.7 853.2,528.7 851.94,529.96 850.63,531.27 849.33,532.59 848.03,533.9 846.73,535.21 845.43,536.53 844.13,537.84 842.84,539.15 841.55,540.46 840.26,541.78 838.97,543.09 837.68,544.4 836.42,545.7ZM853.47,511.76 853.65,511.58 854.97,510.27 856.3,508.96 857.63,507.64 858.96,506.33 860.29,505.02 861.62,503.71 862.96,502.39 864.29,501.08 865.63,499.77 866.97,498.46 868.32,497.14 869.66,495.83 870.39,495.12 887.34,495.12 886.6,495.83 885.24,497.14 883.89,498.46 882.53,499.77 881.18,501.08 879.83,502.39 878.48,503.71 877.14,505.02 875.79,506.33 874.45,507.64 873.11,508.96 871.77,510.27 870.43,511.58 870.25,511.76ZM895.86,470.63 895.88,470.61 897.26,469.31 898.64,468 900.03,466.69 901.41,465.39 902.8,464.08 904.19,462.77 905.58,461.46 906.97,460.16 908.37,458.85 909.77,457.54 911.17,456.23 912.57,454.93 912.86,454.66 912.86,470.81 912.57,471.1 911.17,472.41 909.77,473.73 908.37,475.05 906.97,476.37 905.58,477.69 904.19,479.01 902.8,480.32 901.41,481.64 900.03,482.96 898.64,484.28 897.26,485.6 895.88,486.91 895.86,486.93ZM929.86,438.94 930.97,437.93 932.39,436.62 933.83,435.31 935.26,434.01 936.69,432.7 938.13,431.39 939.57,430.08 941.01,428.78 942.45,427.47 943.9,426.16 945.35,424.85 946.8,423.54 946.86,423.49 946.86,439.4 946.8,439.47 945.35,440.78 943.9,442.1 942.45,443.42 941.01,444.74 939.57,446.06 938.13,447.37 936.69,448.69 935.26,450.01 933.83,451.33 932.39,452.64 930.97,453.96 929.86,454.98ZM963.86,408.27 964.34,407.85 965.81,406.54 967.29,405.23 968.77,403.93 970.25,402.62 971.73,401.31 973.22,400 974.7,398.69 976.19,397.39 977.68,396.08 979.18,394.77 980.67,393.46 980.86,393.3 980.86,408.99 980.67,409.16 979.18,410.48 977.68,411.8 976.19,413.12 974.7,414.43 973.22,415.75 971.73,417.07 970.25,418.39 968.77,419.7 967.29,421.02 965.81,422.34 964.34,423.66 963.86,424.08ZM678.32,740 679.37,738.69 680.43,737.37 681.48,736.06 682.54,734.75 683.6,733.44 684.19,732.7 699.42,732.7 698.81,733.44 697.74,734.75 696.66,736.06 695.59,737.37 694.53,738.69 693.47,740ZM698.19,715.7 698.73,715.06 699.84,713.75 700.94,712.43 702.05,711.12 703.16,709.81 704.27,708.49 705.38,707.18 706.5,705.87 707.62,704.56 708.75,703.24 709.87,701.93 711,700.62 712.13,699.31 712.65,698.7 728.29,698.7 727.76,699.31 726.61,700.62 725.46,701.93 724.32,703.24 723.18,704.56 722.05,705.87 720.91,707.18 719.78,708.49 718.65,709.81 717.53,711.12 716.41,712.43 715.29,713.75 714.17,715.06 713.63,715.7ZM727.56,681.7 728.26,680.93 729.43,679.61 730.6,678.3 731.78,676.99 732.96,675.68 734.14,674.36 735.33,673.05 736.52,671.74 737.71,670.42 738.9,669.11 740.1,667.8 741.3,666.49 742.5,665.17 742.93,664.7 759,664.7 758.55,665.17 757.33,666.49 756.12,667.8 754.9,669.11 753.69,670.42 752.48,671.74 751.28,673.05 750.08,674.36 748.88,675.68 747.68,676.99 746.49,678.3 745.3,679.61 744.11,680.93 743.41,681.7ZM758.75,647.7 759.61,646.8 760.86,645.48 762.1,644.17 763.35,642.86 764.6,641.54 765.86,640.23 767.11,638.92 768.37,637.61 769.63,636.29 770.9,634.98 772.17,633.67 773.44,632.36 774.71,631.04 775.03,630.7 791.54,630.7 791.2,631.04 789.91,632.36 788.62,633.67 787.34,634.98 786.05,636.29 784.78,637.61 783.5,638.92 782.23,640.23 780.95,641.54 779.69,642.86 778.42,644.17 777.16,645.48 775.9,646.8 775.04,647.7ZM791.76,613.71 792.81,612.66 794.13,611.35 795.44,610.04 796.76,608.73 798.08,607.41 799.41,606.1 800.73,604.79 802.06,603.47 803.4,602.16 804.73,600.85 806.07,599.54 807.41,598.22 808.66,597 825.6,597 824.33,598.22 822.98,599.54 821.62,600.85 820.27,602.16 818.92,603.47 817.57,604.79 816.23,606.1 814.88,607.41 813.54,608.73 812.21,610.04 810.87,611.35 809.54,612.66 808.5,613.71ZM834.13,572.6 835.05,571.72 836.44,570.42 837.84,569.11 839.23,567.81 840.63,566.5 842.03,565.2 843.44,563.89 844.84,562.59 846.25,561.28 847.67,559.98 849.08,558.67 850.5,557.36 851.13,556.79 851.13,572.86 850.5,573.45 849.08,574.77 847.67,576.09 846.25,577.41 844.84,578.73 843.44,580.05 842.03,581.37 840.63,582.69 839.23,584.01 837.84,585.33 836.44,586.65 835.05,587.97 834.13,588.84ZM868.13,541.34 869.18,540.39 870.63,539.08 872.09,537.78 873.56,536.47 875.02,535.16 876.49,533.86 877.96,532.55 879.43,531.25 880.9,529.94 882.38,528.63 883.86,527.33 885.13,526.21 885.13,541.97 883.86,543.1 882.38,544.42 880.9,545.74 879.43,547.06 877.96,548.37 876.49,549.69 875.02,551.01 873.56,552.33 872.09,553.65 870.63,554.97 869.18,556.29 868.13,557.24ZM902.13,511.41 903.36,510.34 904.88,509.04 906.4,507.73 907.92,506.42 909.45,505.12 910.98,503.81 912.51,502.5 914.05,501.19 915.58,499.89 917.13,498.58 918.67,497.27 919.13,496.89 919.13,512.37 918.67,512.76 917.13,514.08 915.58,515.4 914.05,516.72 912.51,518.04 910.98,519.36 909.45,520.68 907.92,521.99 906.4,523.31 904.88,524.63 903.36,525.95 902.13,527.01ZM936.13,482.65 937.4,481.59 938.98,480.28 940.56,478.97 942.15,477.67 943.73,476.36 945.32,475.05 946.92,473.74 948.51,472.44 950.11,471.13 951.71,469.82 953.13,468.66 953.13,483.91 951.71,485.08 950.11,486.4 948.51,487.72 946.92,489.04 945.32,490.35 943.73,491.67 942.15,492.99 940.56,494.31 938.98,495.63 937.4,496.94 936.13,498ZM970.13,454.93 971.13,454.13 972.77,452.82 974.41,451.51 976.05,450.21 977.69,448.9 979.34,447.59 980.99,446.28 982.64,444.97 984.3,443.67 985.96,442.36 987.13,441.44 987.13,456.48 985.96,457.41 984.3,458.73 982.64,460.04 980.99,461.36 979.34,462.68 977.69,464 976.05,465.32 974.41,466.63 972.77,467.95 971.13,469.27 970.13,470.07ZM1004.13,428.16 1004.37,427.97 1006.06,426.66 1007.76,425.35 1009.45,424.05 1011.15,422.74 1012.85,421.43 1014.56,420.12 1016.27,418.81 1017.98,417.5 1019.69,416.2 1021.13,415.1 1021.13,429.96 1019.69,431.06 1017.98,432.38 1016.27,433.7 1014.56,435.01 1012.85,436.33 1011.15,437.65 1009.45,438.97 1007.76,440.28 1006.06,441.6 1004.37,442.92 1004.13,443.11ZM1038.13,402.24 1038.71,401.8 1040.45,400.49 1042.2,399.19 1043.95,397.88 1045.71,396.57 1047.46,395.26 1049.22,393.95 1050.98,392.64 1050.98,407.36 1049.22,408.67 1047.46,409.99 1045.71,411.31 1043.95,412.63 1042.2,413.94 1040.45,415.26 1038.71,416.58 1038.13,417.01Z"/><path fill="#3333ff" d="M547.51,740 548.2,738.69 548.88,737.37 549.57,736.06 550.25,734.75 550.94,733.44 551.32,732.7 564.65,732.7 564.26,733.44 563.57,734.75 562.88,736.06 562.2,737.37 561.51,738.69 560.82,740ZM555.79,724.2 556.45,722.93 557.14,721.62 557.84,720.31 558.53,719 559.22,717.68 559.92,716.37 560.27,715.7 573.62,715.7 573.27,716.37 572.57,717.68 571.88,719 571.18,720.31 570.49,721.62 569.79,722.93 569.13,724.2ZM564.78,707.2 564.79,707.18 565.49,705.87 566.19,704.56 566.89,703.24 567.59,701.93 568.29,700.62 568.99,699.31 569.31,698.7 582.7,698.7 582.37,699.31 581.67,700.62 580.96,701.93 580.26,703.24 579.56,704.56 578.86,705.87 578.16,707.18 578.15,707.2ZM573.87,690.2 573.91,690.12 574.62,688.8 575.32,687.49 576.03,686.18 576.74,684.86 577.45,683.55 578.15,682.24 578.44,681.7 591.86,681.7 591.57,682.24 590.86,683.55 590.15,684.86 589.44,686.18 588.73,687.49 588.02,688.8 587.31,690.12 587.27,690.2ZM583.05,673.2 583.13,673.05 583.84,671.74 584.56,670.42 585.27,669.11 585.98,667.8 586.7,666.49 587.42,665.17 587.67,664.7 601.12,664.7 600.86,665.17 600.14,666.49 599.42,667.8 598.71,669.11 597.99,670.42 597.28,671.74 596.56,673.05 596.48,673.2ZM592.32,656.2 592.44,655.98 593.16,654.67 593.88,653.36 594.6,652.05 595.33,650.73 596.05,649.42 596.77,648.11 597,647.7 610.47,647.7 610.25,648.11 609.52,649.42 608.8,650.73 608.07,652.05 607.35,653.36 606.63,654.67 605.9,655.98 605.79,656.2ZM601.69,639.2 601.85,638.92 602.58,637.61 603.3,636.29 604.03,634.98 604.76,633.67 605.49,632.36 606.22,631.04 606.41,630.7 619.92,630.7 619.73,631.04 619,632.36 618.27,633.67 617.53,634.98 616.8,636.29 616.07,637.61 615.34,638.92 615.19,639.2ZM611.16,622.2 611.35,621.85 612.08,620.54 612.82,619.23 613.56,617.92 614.29,616.6 615.03,615.29 615.77,613.98 615.92,613.7 629.47,613.7 629.31,613.98 628.57,615.29 627.83,616.6 627.09,617.92 626.35,619.23 625.61,620.54 624.88,621.85 624.68,622.2ZM620.71,605.2 620.95,604.79 621.69,603.47 622.43,602.16 623.17,600.85 623.92,599.54 624.66,598.22 625.41,596.91 625.53,596.7 639.1,596.7 638.98,596.91 638.23,598.22 637.49,599.54 636.74,600.85 635.99,602.16 635.25,603.47 634.5,604.79 634.27,605.2ZM630.36,588.2 630.64,587.72 631.39,586.41 632.14,585.1 632.89,583.78 633.64,582.47 634.39,581.16 635.14,579.85 635.23,579.7 648.83,579.7 648.75,579.85 647.99,581.16 647.24,582.47 646.49,583.78 645.73,585.1 644.98,586.41 644.23,587.72 643.96,588.2ZM640.11,571.2 640.42,570.66 641.18,569.34 641.94,568.03 642.7,566.72 643.45,565.41 644.21,564.09 644.97,562.78 645.02,562.7 658.66,562.7 658.61,562.78 657.85,564.09 657.09,565.41 656.33,566.72 655.57,568.03 654.81,569.34 654.05,570.66 653.73,571.2ZM649.95,554.2 650.31,553.59 651.07,552.28 651.83,550.97 652.6,549.65 653.36,548.34 654.13,547.03 654.9,545.71 654.91,545.7 668.58,545.7 668.57,545.71 667.8,547.03 667.03,548.34 666.26,549.65 665.5,550.97 664.73,552.28 663.96,553.59 663.61,554.2ZM659.88,537.2 660.28,536.53 661.05,535.21 661.82,533.9 662.6,532.59 663.37,531.27 664.14,529.96 664.89,528.7 678.59,528.7 677.85,529.96 677.07,531.27 676.29,532.59 675.52,533.9 674.74,535.21 673.97,536.53 673.57,537.2ZM669.91,520.2 670.35,519.46 671.13,518.15 671.91,516.83 672.69,515.52 673.47,514.21 674.25,512.9 674.96,511.7 688.7,511.7 687.99,512.9 687.2,514.21 686.42,515.52 685.64,516.83 684.86,518.15 684.07,519.46 683.64,520.2ZM680.03,503.2 680.52,502.39 681.3,501.08 682.09,499.77 682.88,498.46 683.66,497.14 684.45,495.83 685.13,494.7 698.9,494.7 698.22,495.83 697.43,497.14 696.64,498.46 695.85,499.77 695.06,501.08 694.27,502.39 693.79,503.2ZM690.25,486.2 690.78,485.33 691.57,484.02 692.37,482.7 693.16,481.39 693.95,480.08 694.75,478.76 695.39,477.7 709.2,477.7 708.55,478.76 707.75,480.08 706.96,481.39 706.16,482.7 705.36,484.02 704.57,485.33 704.04,486.2ZM700.56,469.2 701.13,468.26 701.93,466.95 702.73,465.64 703.54,464.32 704.34,463.01 705.14,461.7 705.75,460.7 719.59,460.7 718.98,461.7 718.17,463.01 717.37,464.32 716.56,465.64 715.76,466.95 714.96,468.26 714.39,469.2ZM710.97,452.2 711.58,451.2 712.39,449.88 713.2,448.57 714.01,447.26 714.82,445.95 715.63,444.63 716.2,443.7 730.08,443.7 729.5,444.63 728.69,445.95 727.87,447.26 727.06,448.57 726.25,449.88 725.44,451.2 724.82,452.2ZM721.46,435.2 722.13,434.13 722.94,432.82 723.76,431.51 724.58,430.19 725.39,428.88 726.21,427.57 726.75,426.7 740.66,426.7 740.12,427.57 739.3,428.88 738.48,430.19 737.66,431.51 736.84,432.82 736.02,434.13 735.36,435.2ZM732.06,418.2 732.77,417.07 733.59,415.75 734.41,414.44 735.24,413.13 736.06,411.81 736.89,410.5 737.39,409.7 751.33,409.7 750.83,410.5 750,411.81 749.17,413.13 748.35,414.44 747.52,415.75 746.7,417.07 745.98,418.2ZM742.74,401.2 743.5,400 757.47,400 756.71,401.2ZM606.44,740 607.32,738.69 608.2,737.37 609.07,736.06 609.96,734.75 610.84,733.44 611.33,732.7 625.56,732.7 625.06,733.44 624.18,734.75 623.29,736.06 622.41,737.37 621.52,738.69 620.64,740ZM617.06,724.2 617.92,722.93 618.81,721.62 619.7,720.31 620.6,719 621.49,717.68 622.38,716.37 622.84,715.7 637.13,715.7 636.67,716.37 635.77,717.68 634.87,719 633.98,720.31 633.08,721.62 632.19,722.93 631.33,724.2ZM628.65,707.2 628.67,707.18 629.57,705.87 630.47,704.56 631.37,703.24 632.28,701.93 633.18,700.62 634.09,699.31 634.5,698.7 648.86,698.7 648.44,699.31 647.53,700.62 646.62,701.93 645.71,703.24 644.8,704.56 643.89,705.87 642.99,707.18 642.97,707.2ZM640.4,690.2 640.46,690.12 641.37,688.8 642.29,687.49 643.2,686.18 644.12,684.86 645.04,683.55 645.95,682.24 646.33,681.7 660.75,681.7 660.37,682.24 659.44,683.55 658.52,684.86 657.6,686.18 656.68,687.49 655.76,688.8 654.84,690.12 654.78,690.2ZM652.3,673.2 652.41,673.05 653.34,671.74 654.26,670.42 655.19,669.11 656.12,667.8 657.05,666.49 657.98,665.17 658.32,664.7 672.8,664.7 672.46,665.17 671.52,666.49 670.59,667.8 669.65,669.11 668.72,670.42 667.79,671.74 666.86,673.05 666.75,673.2ZM664.37,656.2 664.52,655.98 665.46,654.67 666.4,653.36 667.34,652.05 668.28,650.73 669.22,649.42 670.17,648.11 670.46,647.7 685.01,647.7 684.71,648.11 683.76,649.42 682.82,650.73 681.87,652.05 680.92,653.36 679.98,654.67 679.04,655.98 678.88,656.2ZM676.59,639.2 676.8,638.92 677.75,637.61 678.7,636.29 679.65,634.98 680.61,633.67 681.56,632.36 682.52,631.04 682.76,630.7 697.38,630.7 697.12,631.04 696.16,632.36 695.2,633.67 694.25,634.98 693.29,636.29 692.33,637.61 691.37,638.92 691.17,639.2ZM688.98,622.2 689.23,621.85 690.19,620.54 691.16,619.23 692.12,617.92 693.09,616.6 694.06,615.29 695.02,613.98 695.23,613.7 709.91,613.7 709.7,613.98 708.73,615.29 707.75,616.6 706.78,617.92 705.81,619.23 704.84,620.54 703.87,621.85 703.62,622.2ZM701.52,605.2 701.83,604.79 702.8,603.47 703.78,602.16 704.75,600.85 705.73,599.54 706.71,598.22 707.69,596.91 707.85,596.7 722.59,596.7 722.43,596.91 721.45,598.22 720.46,599.54 719.48,600.85 718.5,602.16 717.52,603.47 716.54,604.79 716.23,605.2ZM714.22,588.2 714.58,587.72 715.57,586.41 716.56,585.1 717.55,583.78 718.54,582.47 719.53,581.16 720.52,579.85 720.63,579.7 735.44,579.7 735.33,579.85 734.33,581.16 733.33,582.47 732.34,583.78 731.34,585.1 730.35,586.41 729.36,587.72 729,588.2ZM727.08,571.2 727.5,570.66 728.5,569.34 729.5,568.03 730.5,566.72 731.5,565.41 732.51,564.09 733.51,562.78 733.57,562.7 748.45,562.7 748.39,562.78 747.38,564.09 746.37,565.41 745.36,566.72 744.35,568.03 743.35,569.34 742.34,570.66 741.92,571.2ZM740.1,554.2 740.57,553.59 741.58,552.28 742.6,550.97 743.61,549.65 744.63,548.34 745.64,547.03 746.66,545.71 746.67,545.7 761.62,545.7 761.6,545.71 760.58,547.03 759.56,548.34 758.54,549.65 757.52,550.97 756.5,552.28 755.48,553.59 755.01,554.2ZM753.28,537.2 753.81,536.53 754.83,535.21 755.86,533.9 756.89,532.59 757.91,531.27 758.94,529.96 759.93,528.7 774.94,528.7 773.95,529.96 772.91,531.27 771.88,532.59 770.85,533.9 769.82,535.21 768.79,536.53 768.26,537.2ZM766.62,520.2 767.21,519.46 768.24,518.15 769.28,516.83 770.32,515.52 771.36,514.21 772.4,512.9 773.35,511.7 788.43,511.7 787.48,512.9 786.43,514.21 785.38,515.52 784.34,516.83 783.3,518.15 782.25,519.46 781.67,520.2ZM780.12,503.2 780.76,502.39 781.81,501.08 782.86,499.77 783.92,498.46 784.97,497.14 786.02,495.83 786.93,494.7 802.08,494.7 801.17,495.83 800.11,497.14 799.05,498.46 797.99,499.77 796.94,501.08 795.88,502.39 795.24,503.2ZM793.78,486.2 794.48,485.33 795.54,484.02 796.61,482.7 797.67,481.39 798.74,480.08 799.8,478.76 800.67,477.7 815.88,477.7 815.01,478.76 813.94,480.08 812.87,481.39 811.8,482.7 810.74,484.02 809.67,485.33 808.96,486.2ZM807.59,469.2 808.36,468.26 809.43,466.95 810.51,465.64 811.59,464.32 812.66,463.01 813.74,461.7 814.56,460.7 829.85,460.7 829.03,461.7 827.94,463.01 826.86,464.32 825.78,465.64 824.7,466.95 823.62,468.26 822.85,469.2ZM821.57,452.2 822.4,451.2 823.49,449.88 824.57,448.57 825.66,447.26 826.75,445.95 827.84,444.63 828.62,443.7 843.98,443.7 843.2,444.63 842.1,445.95 841.01,447.26 839.91,448.57 838.82,449.88 837.73,451.2 836.9,452.2ZM835.7,435.2 836.6,434.13 837.7,432.82 838.8,431.51 839.9,430.19 841,428.88 842.1,427.57 842.83,426.7 858.26,426.7 857.53,427.57 856.42,428.88 855.31,430.19 854.21,431.51 853.1,432.82 852,434.13 851.1,435.2ZM850,418.2 850.96,417.07 852.07,415.75 853.18,414.44 854.3,413.13 855.41,411.81 856.53,410.5 857.21,409.7 872.71,409.7 872.02,410.5 870.9,411.81 869.78,413.13 868.67,414.44 867.55,415.75 866.43,417.07 865.47,418.2ZM864.45,401.2 865.48,400 881.02,400 879.99,401.2ZM653.58,740 654.56,738.69 655.54,737.37 656.52,736.06 657.51,734.75 658.49,733.44 659.05,732.7 673.84,732.7 673.28,733.44 672.29,734.75 671.29,736.06 670.3,737.37 669.31,738.69 668.32,740ZM665.48,724.2 666.46,722.93 667.46,721.62 668.47,720.31 669.47,719 670.48,717.68 671.5,716.37 672.01,715.7 686.95,715.7 686.43,716.37 685.4,717.68 684.38,719 683.36,720.31 682.35,721.62 681.33,722.93 680.36,724.2ZM678.62,707.2 678.64,707.18 679.66,705.87 680.69,704.56 681.72,703.24 682.76,701.93 683.79,700.62 684.83,699.31 685.31,698.7 700.39,698.7 699.91,699.31 698.86,700.62 697.81,701.93 696.76,703.24 695.72,704.56 694.68,705.87 693.64,707.18 693.63,707.2ZM692.08,690.2 692.15,690.12 693.21,688.8 694.26,687.49 695.32,686.18 696.38,684.86 697.44,683.55 698.5,682.24 698.94,681.7 714.17,681.7 713.72,682.24 712.65,683.55 711.58,684.86 710.5,686.18 709.44,687.49 708.37,688.8 707.3,690.12 707.24,690.2ZM705.88,673.2 706,673.05 707.08,671.74 708.17,670.42 709.25,669.11 710.33,667.8 711.42,666.49 712.51,665.17 712.9,664.7 728.28,664.7 727.88,665.17 726.78,666.49 725.68,667.8 724.58,669.11 723.49,670.42 722.39,671.74 721.3,673.05 721.18,673.2ZM720.01,656.2 720.19,655.98 721.3,654.67 722.4,653.36 723.51,652.05 724.62,650.73 725.74,649.42 726.85,648.11 727.2,647.7 742.72,647.7 742.37,648.11 741.24,649.42 740.12,650.73 738.99,652.05 737.87,653.36 736.76,654.67 735.64,655.98 735.46,656.2ZM734.47,639.2 734.71,638.92 735.84,637.61 736.98,636.29 738.11,634.98 739.25,633.67 740.39,632.36 741.53,631.04 741.82,630.7 757.5,630.7 757.2,631.04 756.04,632.36 754.89,633.67 753.75,634.98 752.6,636.29 751.45,637.61 750.31,638.92 750.07,639.2ZM749.26,622.2 749.57,621.85 750.73,620.54 751.89,619.23 753.05,617.92 754.21,616.6 755.37,615.29 756.54,613.98 756.78,613.7 772.62,613.7 772.36,613.98 771.18,615.29 770.01,616.6 768.83,617.92 767.66,619.23 766.49,620.54 765.32,621.85 765.02,622.2ZM764.39,605.2 764.76,604.79 765.95,603.47 767.13,602.16 768.32,600.85 769.51,599.54 770.7,598.22 771.89,596.91 772.08,596.7 788.07,596.7 787.87,596.91 786.66,598.22 785.46,599.54 784.26,600.85 783.06,602.16 781.86,603.47 780.67,604.79 780.3,605.2ZM779.85,588.2 780.29,587.72 781.5,586.41 782.71,585.1 783.92,583.78 785.14,582.47 786.35,581.16 787.57,579.85 787.7,579.7 803.85,579.7 803.71,579.85 802.48,581.16 801.25,582.47 800.02,583.78 798.8,585.1 797.57,586.41 796.35,587.72 795.91,588.2ZM795.64,571.2 796.15,570.66 797.39,569.34 798.62,568.03 799.86,566.72 801.1,565.41 802.34,564.09 803.59,562.78 803.66,562.7 819.97,562.7 819.88,562.78 818.63,564.09 817.37,565.41 816.12,566.72 814.87,568.03 813.62,569.34 812.37,570.66 811.86,571.2ZM811.76,554.2 812.35,553.59 813.61,552.28 814.87,550.97 816.14,549.65 817.4,548.34 818.67,547.03 819.94,545.71 819.95,545.7 836.42,545.7 836.4,545.71 835.11,547.03 833.83,548.34 832.56,549.65 831.28,550.97 830.01,552.28 828.73,553.59 828.15,554.2ZM828.22,537.2 828.88,536.53 830.17,535.21 831.46,533.9 832.75,532.59 834.04,531.27 835.33,529.96 836.58,528.7 853.2,528.7 851.94,529.96 850.63,531.27 849.33,532.59 848.03,533.9 846.73,535.21 845.43,536.53 844.76,537.2ZM845.01,520.2 845.75,519.46 847.06,518.15 848.38,516.83 849.69,515.52 851.01,514.21 852.33,512.9 853.47,511.76 870.25,511.76 869.1,512.9 867.77,514.21 866.44,515.52 865.11,516.83 863.78,518.15 862.46,519.46 861.72,520.2ZM861.93,503.4 862.96,502.39 864.29,501.08 865.63,499.77 866.97,498.46 868.32,497.14 869.66,495.83 870.39,495.12 887.34,495.12 886.6,495.83 885.24,497.14 883.89,498.46 882.53,499.77 881.18,501.08 879.83,502.39 878.8,503.4ZM878.85,486.92 879.13,486.64 896.16,486.64 895.88,486.92ZM887.65,478.46 889.02,477.15 890.38,475.84 891.76,474.54 893.13,473.23 894.51,471.92 895.86,470.63 895.86,486.93 894.51,488.23 893.13,489.55 891.76,490.87 890.38,492.19 889.02,493.51 887.65,494.82ZM904.36,462.61 905.58,461.46 906.97,460.16 908.37,458.85 909.77,457.54 911.17,456.23 912.57,454.93 912.86,454.66 912.86,470.81 912.57,471.1 911.17,472.41 909.77,473.73 908.37,475.05 906.97,476.37 905.58,477.69 904.36,478.84ZM921.36,446.77 922.43,445.77 923.85,444.47 925.27,443.16 926.69,441.85 928.11,440.54 929.54,439.24 929.86,438.94 929.86,454.98 929.54,455.28 928.11,456.6 926.69,457.92 925.27,459.23 923.85,460.55 922.43,461.87 921.36,462.86ZM938.36,431.19 939.57,430.08 941.01,428.78 942.45,427.47 943.9,426.16 945.35,424.85 946.8,423.54 946.86,423.49 946.86,439.4 946.8,439.47 945.35,440.78 943.9,442.1 942.45,443.42 941.01,444.74 939.57,446.06 938.36,447.16ZM955.36,415.85 955.53,415.7 956.99,414.39 958.46,413.08 959.93,411.77 961.4,410.47 962.87,409.16 963.86,408.27 963.86,424.08 962.87,424.97 961.4,426.29 959.93,427.61 958.46,428.93 956.99,430.24 955.53,431.56 955.36,431.71ZM972.36,400.76 973.22,400 974.7,398.69 976.19,397.39 977.68,396.08 979.18,394.77 980.67,393.46 980.86,393.3 980.86,408.99 980.67,409.16 979.18,410.48 977.68,411.8 976.19,413.12 974.7,414.43 973.22,415.75 972.36,416.51ZM678.32,740 679.37,738.69 680.43,737.37 681.48,736.06 682.54,734.75 683.6,733.44 684.19,732.7 699.42,732.7 698.81,733.44 697.74,734.75 696.66,736.06 695.59,737.37 694.53,738.69 693.47,740ZM691.13,724.2 692.18,722.93 693.27,721.62 694.36,720.31 695.45,719 696.54,717.68 697.64,716.37 698.19,715.7 713.63,715.7 713.05,716.37 711.94,717.68 710.83,719 709.73,720.31 708.62,721.62 707.52,722.93 706.47,724.2ZM705.37,707.2 705.38,707.18 706.5,705.87 707.62,704.56 708.75,703.24 709.87,701.93 711,700.62 712.13,699.31 712.65,698.7 728.29,698.7 727.76,699.31 726.61,700.62 725.46,701.93 724.32,703.24 723.18,704.56 722.05,705.87 720.91,707.18 720.9,707.2ZM720.05,690.2 720.13,690.12 721.28,688.8 722.44,687.49 723.59,686.18 724.76,684.86 725.92,683.55 727.09,682.24 727.56,681.7 743.41,681.7 742.92,682.24 741.74,683.55 740.56,684.86 739.38,686.18 738.21,687.49 737.03,688.8 735.86,690.12 735.79,690.2ZM735.19,673.2 735.33,673.05 736.52,671.74 737.71,670.42 738.9,669.11 740.1,667.8 741.3,666.49 742.5,665.17 742.93,664.7 759,664.7 758.55,665.17 757.33,666.49 756.12,667.8 754.9,669.11 753.69,670.42 752.48,671.74 751.28,673.05 751.14,673.2ZM750.79,656.2 750.99,655.98 752.21,654.67 753.44,653.36 754.67,652.05 755.9,650.73 757.14,649.42 758.37,648.11 758.75,647.7 775.04,647.7 774.64,648.11 773.39,649.42 772.14,650.73 770.89,652.05 769.64,653.36 768.4,654.67 767.16,655.98 766.96,656.2ZM766.84,639.2 767.11,638.92 768.37,637.61 769.63,636.29 770.9,634.98 772.17,633.67 773.44,632.36 774.71,631.04 775.03,630.7 791.54,630.7 791.2,631.04 789.91,632.36 788.62,633.67 787.34,634.98 786.05,636.29 784.78,637.61 783.5,638.92 783.23,639.2ZM783.35,622.2 783.69,621.85 784.99,620.54 786.29,619.23 787.59,617.92 788.89,616.6 790.19,615.29 791.5,613.98 791.76,613.71 808.5,613.71 808.22,613.98 806.89,615.29 805.57,616.6 804.25,617.92 802.93,619.23 801.62,620.54 800.3,621.85 799.96,622.2ZM800.21,605.3 800.73,604.79 802.06,603.47 803.4,602.16 804.73,600.85 806.07,599.54 807.41,598.22 808.66,597 825.6,597 824.33,598.22 822.98,599.54 821.62,600.85 820.27,602.16 818.92,603.47 817.57,604.79 817.05,605.3ZM825.63,580.64 826.77,579.55 828.14,578.25 829.52,576.94 830.9,575.64 832.28,574.33 833.67,573.03 834.13,572.6 834.13,588.84 833.67,589.29 832.28,590.61 830.9,591.93 829.52,593.25 828.14,594.57 826.77,595.89 825.63,596.98ZM842.63,564.65 843.44,563.89 844.84,562.59 846.25,561.28 847.67,559.98 849.08,558.67 850.5,557.36 851.13,556.79 851.13,572.86 850.5,573.45 849.08,574.77 847.67,576.09 846.25,577.41 844.84,578.73 843.44,580.05 842.63,580.8ZM859.63,549.02 860.5,548.22 861.94,546.92 863.38,545.61 864.83,544.31 866.27,543 867.73,541.7 868.13,541.34 868.13,557.24 867.73,557.61 866.27,558.93 864.83,560.25 863.38,561.57 861.94,562.89 860.5,564.21 859.63,565ZM876.63,533.74 877.96,532.55 879.43,531.25 880.9,529.94 882.38,528.63 883.86,527.33 885.13,526.21 885.13,541.97 883.86,543.1 882.38,544.42 880.9,545.74 879.43,547.06 877.96,548.37 876.63,549.56ZM893.63,518.77 894.3,518.18 895.8,516.88 897.31,515.57 898.82,514.26 900.33,512.96 901.84,511.65 902.13,511.41 902.13,527.01 901.84,527.27 900.33,528.59 898.82,529.91 897.31,531.23 895.8,532.55 894.3,533.86 893.63,534.45ZM910.63,504.11 910.98,503.81 912.51,502.5 914.05,501.19 915.58,499.89 917.13,498.58 918.67,497.27 919.13,496.89 919.13,512.37 918.67,512.76 917.13,514.08 915.58,515.4 914.05,516.72 912.51,518.04 910.98,519.36 910.63,519.66ZM927.63,489.73 927.99,489.43 929.55,488.12 931.11,486.82 932.68,485.51 934.25,484.2 935.83,482.9 936.13,482.65 936.13,498 935.83,498.26 934.25,499.58 932.68,500.9 931.11,502.22 929.55,503.54 927.99,504.85 927.63,505.15ZM944.63,475.62 945.32,475.05 946.92,473.74 948.51,472.44 950.11,471.13 951.71,469.82 953.13,468.66 953.13,483.91 951.71,485.08 950.11,486.4 948.51,487.72 946.92,489.04 945.32,490.35 944.63,490.93ZM961.63,461.77 962.99,460.67 964.61,459.36 966.24,458.05 967.87,456.75 969.5,455.44 970.13,454.93 970.13,470.07 969.5,470.59 967.87,471.9 966.24,473.22 964.61,474.54 962.99,475.86 961.63,476.96ZM978.63,448.16 979.34,447.59 980.99,446.28 982.64,444.97 984.3,443.67 985.96,442.36 987.13,441.44 987.13,456.48 985.96,457.41 984.3,458.73 982.64,460.04 980.99,461.36 979.34,462.68 978.63,463.25ZM995.63,434.77 995.96,434.51 997.64,433.2 999.32,431.89 1001,430.59 1002.69,429.28 1004.13,428.16 1004.13,443.11 1002.69,444.24 1001,445.55 999.32,446.87 997.64,448.19 995.96,449.5 995.63,449.76ZM1012.63,421.6 1012.85,421.43 1014.56,420.12 1016.27,418.81 1017.98,417.5 1019.69,416.2 1021.13,415.1 1021.13,429.96 1019.69,431.06 1017.98,432.38 1016.27,433.7 1014.56,435.01 1012.85,436.33 1012.63,436.51ZM1029.63,408.64 1030.02,408.35 1031.75,407.04 1033.49,405.73 1035.22,404.42 1036.96,403.11 1038.13,402.24 1038.13,417.01 1036.96,417.89 1035.22,419.21 1033.49,420.53 1031.75,421.84 1030.02,423.16 1029.63,423.46ZM1046.63,395.88 1047.46,395.26 1049.22,393.95 1050.98,392.64 1050.98,407.36 1049.22,408.67 1047.46,409.99 1046.63,410.61Z"/></g><rect x="581.3" y="419.7" width="329.3" height="303.3" fill="none" stroke="#000" stroke-width="3"/></svg></body></html>
